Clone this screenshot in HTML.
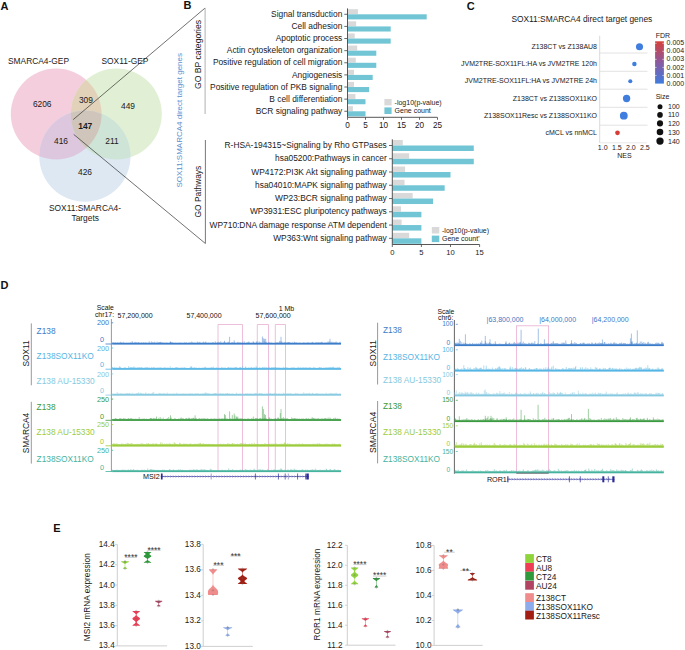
<!DOCTYPE html>
<html><head><meta charset="utf-8"><style>
html,body{margin:0;padding:0;background:#fff;}
svg{display:block;font-family:"Liberation Sans", sans-serif;}
</style></head><body>
<svg width="685" height="650" viewBox="0 0 685 650">
<rect width="685" height="650" fill="#fff"/>
<text x="0.6" y="9.5" font-size="11" text-anchor="start" fill="#111" font-weight="bold" >A</text>
<defs>
<clipPath id="cP"><circle cx="56.2" cy="114" r="45.4"/></clipPath>
<clipPath id="cG"><circle cx="116.3" cy="114" r="45.5"/></clipPath>
</defs>
<circle cx="56.2" cy="114" r="45.4" fill="#f4cedd" />
<circle cx="116.3" cy="114" r="45.5" fill="#e1f0d5" />
<circle cx="84.9" cy="156.2" r="45.6" fill="#dde8f3" />
<g clip-path="url(#cP)"><circle cx="116.3" cy="114" r="45.5" fill="#e2d2ba"/><circle cx="84.9" cy="156.2" r="45.6" fill="#ddc7de"/></g>
<g clip-path="url(#cG)"><circle cx="84.9" cy="156.2" r="45.6" fill="#cde4d6"/></g>
<g clip-path="url(#cP)"><g clip-path="url(#cG)"><circle cx="84.9" cy="156.2" r="45.6" fill="#cfc5bb"/></g></g>
<text x="8" y="64.3" font-size="8.4" text-anchor="start" fill="#1a1a1a" font-weight="normal" >SMARCA4-GEP</text>
<text x="101.5" y="64.3" font-size="8.4" text-anchor="start" fill="#1a1a1a" font-weight="normal" >SOX11-GEP</text>
<text x="42.2" y="107.3" font-size="8.4" text-anchor="middle" fill="#1a1a1a" font-weight="normal" >6206</text>
<text x="85.9" y="102.9" font-size="8.4" text-anchor="middle" fill="#1a1a1a" font-weight="normal" >309</text>
<text x="128" y="109.3" font-size="8.4" text-anchor="middle" fill="#1a1a1a" font-weight="normal" >449</text>
<text x="85.3" y="129.0" font-size="8.4" text-anchor="middle" fill="#1a1a1a" font-weight="bold" >147</text>
<text x="61" y="144.2" font-size="8.4" text-anchor="middle" fill="#1a1a1a" font-weight="normal" >416</text>
<text x="112" y="144.2" font-size="8.4" text-anchor="middle" fill="#1a1a1a" font-weight="normal" >211</text>
<text x="85" y="175.0" font-size="8.4" text-anchor="middle" fill="#1a1a1a" font-weight="normal" >426</text>
<text x="85" y="210.7" font-size="8.4" text-anchor="middle" fill="#1a1a1a" font-weight="normal" >SOX11:SMARCA4-</text>
<text x="85.2" y="220.7" font-size="8.4" text-anchor="middle" fill="#1a1a1a" font-weight="normal" >Targets</text>
<line x1="73.2" y1="119.6" x2="205.1" y2="8" stroke="#333" stroke-width="0.7" />
<line x1="73.7" y1="134.4" x2="205.4" y2="243.5" stroke="#333" stroke-width="0.7" />
<text x="183.4" y="9.3" font-size="11" text-anchor="start" fill="#111" font-weight="bold" >B</text>
<line x1="205.1" y1="8" x2="205.1" y2="114" stroke="#b0b0b0" stroke-width="1.0" />
<line x1="205.4" y1="140" x2="205.4" y2="243.5" stroke="#555" stroke-width="0.8" />
<text transform="translate(182.1,120.3) rotate(-90)" font-size="8.0" text-anchor="middle" fill="#5b8fd0">SOX11:SMARCA4 direct target genes</text>
<text transform="translate(201.3,54.5) rotate(-90)" font-size="8.6" text-anchor="middle" fill="#1a1a1a">GO BP categories</text>
<text transform="translate(201.3,191.6) rotate(-90)" font-size="8.4" text-anchor="middle" fill="#1a1a1a">GO Pathways</text>
<rect x="347.50" y="9.20" width="10.44" height="5.00" fill="#d9d9d9" />
<rect x="347.50" y="14.30" width="79.20" height="5.10" fill="#72c5d5" />
<text x="342.3" y="17.0" font-size="8.4" text-anchor="end" fill="#1a1a1a" font-weight="normal" >Signal transduction</text>
<line x1="344.3" y1="14.299999999999999" x2="347.5" y2="14.299999999999999" stroke="#444" stroke-width="0.8" />
<rect x="347.50" y="21.32" width="8.64" height="5.00" fill="#d9d9d9" />
<rect x="347.50" y="26.42" width="43.20" height="5.10" fill="#72c5d5" />
<text x="342.3" y="29.12" font-size="8.4" text-anchor="end" fill="#1a1a1a" font-weight="normal" >Cell adhesion</text>
<line x1="344.3" y1="26.42" x2="347.5" y2="26.42" stroke="#444" stroke-width="0.8" />
<rect x="347.50" y="33.44" width="7.20" height="5.00" fill="#d9d9d9" />
<rect x="347.50" y="38.54" width="43.20" height="5.10" fill="#72c5d5" />
<text x="342.3" y="41.239999999999995" font-size="8.4" text-anchor="end" fill="#1a1a1a" font-weight="normal" >Apoptotic process</text>
<line x1="344.3" y1="38.54" x2="347.5" y2="38.54" stroke="#444" stroke-width="0.8" />
<rect x="347.50" y="45.56" width="9.72" height="5.00" fill="#d9d9d9" />
<rect x="347.50" y="50.66" width="28.80" height="5.10" fill="#72c5d5" />
<text x="342.3" y="53.36" font-size="8.4" text-anchor="end" fill="#1a1a1a" font-weight="normal" >Actin cytoskeleton organization</text>
<line x1="344.3" y1="50.660000000000004" x2="347.5" y2="50.660000000000004" stroke="#444" stroke-width="0.8" />
<rect x="347.50" y="57.68" width="8.28" height="5.00" fill="#d9d9d9" />
<rect x="347.50" y="62.78" width="28.80" height="5.10" fill="#72c5d5" />
<text x="342.3" y="65.47999999999999" font-size="8.4" text-anchor="end" fill="#1a1a1a" font-weight="normal" >Positive regulation of cell migration</text>
<line x1="344.3" y1="62.779999999999994" x2="347.5" y2="62.779999999999994" stroke="#444" stroke-width="0.8" />
<rect x="347.50" y="69.80" width="6.48" height="5.00" fill="#d9d9d9" />
<rect x="347.50" y="74.90" width="25.20" height="5.10" fill="#72c5d5" />
<text x="342.3" y="77.6" font-size="8.4" text-anchor="end" fill="#1a1a1a" font-weight="normal" >Angiogenesis</text>
<line x1="344.3" y1="74.89999999999999" x2="347.5" y2="74.89999999999999" stroke="#444" stroke-width="0.8" />
<rect x="347.50" y="81.92" width="6.48" height="5.00" fill="#d9d9d9" />
<rect x="347.50" y="87.02" width="21.60" height="5.10" fill="#72c5d5" />
<text x="342.3" y="89.72" font-size="8.4" text-anchor="end" fill="#1a1a1a" font-weight="normal" >Positive regulation of PKB signaling</text>
<line x1="344.3" y1="87.02" x2="347.5" y2="87.02" stroke="#444" stroke-width="0.8" />
<rect x="347.50" y="94.04" width="7.92" height="5.00" fill="#d9d9d9" />
<rect x="347.50" y="99.14" width="18.00" height="5.10" fill="#72c5d5" />
<text x="342.3" y="101.83999999999999" font-size="8.4" text-anchor="end" fill="#1a1a1a" font-weight="normal" >B cell differentiation</text>
<line x1="344.3" y1="99.13999999999999" x2="347.5" y2="99.13999999999999" stroke="#444" stroke-width="0.8" />
<rect x="347.50" y="106.16" width="5.40" height="5.00" fill="#d9d9d9" />
<rect x="347.50" y="111.26" width="18.00" height="5.10" fill="#72c5d5" />
<text x="342.3" y="113.96" font-size="8.4" text-anchor="end" fill="#1a1a1a" font-weight="normal" >BCR signaling pathway</text>
<line x1="344.3" y1="111.25999999999999" x2="347.5" y2="111.25999999999999" stroke="#444" stroke-width="0.8" />
<line x1="347.5" y1="8.4" x2="347.5" y2="117.3" stroke="#444" stroke-width="0.9" />
<line x1="347.5" y1="117.3" x2="437.3" y2="117.3" stroke="#444" stroke-width="0.9" />
<line x1="347.5" y1="117.3" x2="347.5" y2="119.8" stroke="#444" stroke-width="0.8" />
<text x="347.5" y="128.1" font-size="8.2" text-anchor="middle" fill="#1a1a1a" font-weight="normal" >0</text>
<line x1="365.5" y1="117.3" x2="365.5" y2="119.8" stroke="#444" stroke-width="0.8" />
<text x="365.5" y="128.1" font-size="8.2" text-anchor="middle" fill="#1a1a1a" font-weight="normal" >5</text>
<line x1="383.5" y1="117.3" x2="383.5" y2="119.8" stroke="#444" stroke-width="0.8" />
<text x="383.5" y="128.1" font-size="8.2" text-anchor="middle" fill="#1a1a1a" font-weight="normal" >10</text>
<line x1="401.5" y1="117.3" x2="401.5" y2="119.8" stroke="#444" stroke-width="0.8" />
<text x="401.5" y="128.1" font-size="8.2" text-anchor="middle" fill="#1a1a1a" font-weight="normal" >15</text>
<line x1="419.5" y1="117.3" x2="419.5" y2="119.8" stroke="#444" stroke-width="0.8" />
<text x="419.5" y="128.1" font-size="8.2" text-anchor="middle" fill="#1a1a1a" font-weight="normal" >20</text>
<line x1="437.5" y1="117.3" x2="437.5" y2="119.8" stroke="#444" stroke-width="0.8" />
<text x="437.5" y="128.1" font-size="8.2" text-anchor="middle" fill="#1a1a1a" font-weight="normal" >25</text>
<rect x="384.40" y="99.00" width="7.20" height="6.40" fill="#d9d9d9" />
<rect x="384.40" y="107.40" width="7.20" height="6.60" fill="#72c5d5" />
<text x="394.6" y="104.8" font-size="7" text-anchor="start" fill="#1a1a1a" font-weight="normal" >-log10(p-value)</text>
<text x="394.6" y="113.3" font-size="7" text-anchor="start" fill="#1a1a1a" font-weight="normal" >Gene count</text>
<rect x="392.30" y="140.00" width="10.48" height="5.40" fill="#d9d9d9" />
<rect x="392.30" y="145.50" width="81.48" height="5.50" fill="#72c5d5" />
<text x="386.8" y="148.0" font-size="8.4" text-anchor="end" fill="#1a1a1a" font-weight="normal" >R-HSA-194315~Signaling by Rho GTPases</text>
<line x1="389.0" y1="145.5" x2="392.3" y2="145.5" stroke="#444" stroke-width="0.8" />
<rect x="392.30" y="153.26" width="16.88" height="5.40" fill="#d9d9d9" />
<rect x="392.30" y="158.76" width="81.48" height="5.50" fill="#72c5d5" />
<text x="386.8" y="161.26" font-size="8.4" text-anchor="end" fill="#1a1a1a" font-weight="normal" >hsa05200:Pathways in cancer</text>
<line x1="389.0" y1="158.76" x2="392.3" y2="158.76" stroke="#444" stroke-width="0.8" />
<rect x="392.30" y="166.52" width="12.80" height="5.40" fill="#d9d9d9" />
<rect x="392.30" y="172.02" width="58.20" height="5.50" fill="#72c5d5" />
<text x="386.8" y="174.52" font-size="8.4" text-anchor="end" fill="#1a1a1a" font-weight="normal" >WP4172:PI3K Akt signaling pathway</text>
<line x1="389.0" y1="172.02" x2="392.3" y2="172.02" stroke="#444" stroke-width="0.8" />
<rect x="392.30" y="179.78" width="12.22" height="5.40" fill="#d9d9d9" />
<rect x="392.30" y="185.28" width="52.38" height="5.50" fill="#72c5d5" />
<text x="386.8" y="187.78" font-size="8.4" text-anchor="end" fill="#1a1a1a" font-weight="normal" >hsa04010:MAPK signaling pathway</text>
<line x1="389.0" y1="185.28" x2="392.3" y2="185.28" stroke="#444" stroke-width="0.8" />
<rect x="392.30" y="193.04" width="20.37" height="5.40" fill="#d9d9d9" />
<rect x="392.30" y="198.54" width="40.74" height="5.50" fill="#72c5d5" />
<text x="386.8" y="201.04" font-size="8.4" text-anchor="end" fill="#1a1a1a" font-weight="normal" >WP23:BCR signaling pathway</text>
<line x1="389.0" y1="198.54" x2="392.3" y2="198.54" stroke="#444" stroke-width="0.8" />
<rect x="392.30" y="206.30" width="8.73" height="5.40" fill="#d9d9d9" />
<rect x="392.30" y="211.80" width="29.10" height="5.50" fill="#72c5d5" />
<text x="386.8" y="214.3" font-size="8.4" text-anchor="end" fill="#1a1a1a" font-weight="normal" >WP3931:ESC pluripotency pathways</text>
<line x1="389.0" y1="211.8" x2="392.3" y2="211.8" stroke="#444" stroke-width="0.8" />
<rect x="392.30" y="219.56" width="9.31" height="5.40" fill="#d9d9d9" />
<rect x="392.30" y="225.06" width="29.10" height="5.50" fill="#72c5d5" />
<text x="386.8" y="227.56" font-size="8.4" text-anchor="end" fill="#1a1a1a" font-weight="normal" >WP710:DNA damage response ATM dependent</text>
<line x1="389.0" y1="225.06" x2="392.3" y2="225.06" stroke="#444" stroke-width="0.8" />
<rect x="392.30" y="232.82" width="16.88" height="5.40" fill="#d9d9d9" />
<rect x="392.30" y="238.32" width="29.10" height="5.50" fill="#72c5d5" />
<text x="386.8" y="240.82" font-size="8.4" text-anchor="end" fill="#1a1a1a" font-weight="normal" >WP363:Wnt signaling pathway</text>
<line x1="389.0" y1="238.32" x2="392.3" y2="238.32" stroke="#444" stroke-width="0.8" />
<line x1="392.3" y1="139.3" x2="392.3" y2="244.5" stroke="#444" stroke-width="0.9" />
<line x1="392.3" y1="244.5" x2="479.6" y2="244.5" stroke="#444" stroke-width="0.9" />
<line x1="392.3" y1="244.5" x2="392.3" y2="247.0" stroke="#444" stroke-width="0.8" />
<text x="392.3" y="254.6" font-size="7.6" text-anchor="middle" fill="#1a1a1a" font-weight="normal" >0</text>
<line x1="421.40000000000003" y1="244.5" x2="421.40000000000003" y2="247.0" stroke="#444" stroke-width="0.8" />
<text x="421.40000000000003" y="254.6" font-size="7.6" text-anchor="middle" fill="#1a1a1a" font-weight="normal" >5</text>
<line x1="450.5" y1="244.5" x2="450.5" y2="247.0" stroke="#444" stroke-width="0.8" />
<text x="450.5" y="254.6" font-size="7.6" text-anchor="middle" fill="#1a1a1a" font-weight="normal" >10</text>
<line x1="479.6" y1="244.5" x2="479.6" y2="247.0" stroke="#444" stroke-width="0.8" />
<text x="479.6" y="254.6" font-size="7.6" text-anchor="middle" fill="#1a1a1a" font-weight="normal" >15</text>
<rect x="431.80" y="227.00" width="7.50" height="6.50" fill="#d9d9d9" />
<rect x="431.80" y="235.60" width="7.50" height="6.50" fill="#72c5d5" />
<text x="442" y="232.8" font-size="7" text-anchor="start" fill="#1a1a1a" font-weight="normal" >-log10(p-value)</text>
<text x="442" y="241.4" font-size="7" text-anchor="start" fill="#1a1a1a" font-weight="normal" >Gene count'</text>
<text x="466.8" y="9.5" font-size="11" text-anchor="start" fill="#111" font-weight="bold" >C</text>
<text x="511.4" y="22" font-size="8.4" text-anchor="start" fill="#1a1a1a" font-weight="normal" >SOX11:SMARCA4 direct target genes</text>
<line x1="599.7" y1="35.8" x2="599.7" y2="142.8" stroke="#d0d0d0" stroke-width="0.8" />
<line x1="599.7" y1="142.8" x2="647" y2="142.8" stroke="#e2e2e2" stroke-width="0.8" />
<line x1="599.7" y1="53" x2="647.5" y2="53" stroke="#dadada" stroke-width="0.8" />
<line x1="599.7" y1="71.3" x2="647.5" y2="71.3" stroke="#dadada" stroke-width="0.8" />
<line x1="599.7" y1="89.2" x2="647.5" y2="89.2" stroke="#dadada" stroke-width="0.8" />
<line x1="599.7" y1="107.3" x2="647.5" y2="107.3" stroke="#dadada" stroke-width="0.8" />
<line x1="599.7" y1="125.2" x2="647.5" y2="125.2" stroke="#dadada" stroke-width="0.8" />
<text x="597" y="48.8" font-size="7" text-anchor="end" fill="#1a1a1a" font-weight="normal" >Z138CT vs Z138AU8</text>
<text x="597" y="66.03999999999999" font-size="7" text-anchor="end" fill="#1a1a1a" font-weight="normal" >JVM2TRE-SOX11FL:HA vs JVM2TRE 120h</text>
<text x="597" y="83.28" font-size="7" text-anchor="end" fill="#1a1a1a" font-weight="normal" >JVM2TRE-SOX11FL:HA vs JVM2TRE 24h</text>
<text x="597" y="100.52" font-size="7" text-anchor="end" fill="#1a1a1a" font-weight="normal" >Z138CT vs Z138SOX11KO</text>
<text x="597" y="117.75999999999999" font-size="7" text-anchor="end" fill="#1a1a1a" font-weight="normal" >Z138SOX11Resc vs Z138SOX11KO</text>
<text x="597" y="135.0" font-size="7" text-anchor="end" fill="#1a1a1a" font-weight="normal" >cMCL vs nnMCL</text>
<circle cx="639.5" cy="46.8" r="3.55" fill="#3f7ddf" />
<circle cx="634.4" cy="64" r="2.25" fill="#3f7ddf" />
<circle cx="630.3" cy="81.2" r="2.05" fill="#3f7ddf" />
<circle cx="626.6" cy="98.5" r="3.65" fill="#3f7ddf" />
<circle cx="623.8" cy="115.7" r="3.9" fill="#3f7ddf" />
<circle cx="617.5" cy="132.8" r="2.35" fill="#d63b35" />
<text x="602.7" y="150.4" font-size="7" text-anchor="middle" fill="#1a1a1a" font-weight="normal" >1.0</text>
<text x="616.9" y="150.4" font-size="7" text-anchor="middle" fill="#1a1a1a" font-weight="normal" >1.5</text>
<text x="630.9" y="150.4" font-size="7" text-anchor="middle" fill="#1a1a1a" font-weight="normal" >2.0</text>
<text x="644.9" y="150.4" font-size="7" text-anchor="middle" fill="#1a1a1a" font-weight="normal" >2.5</text>
<text x="624.4" y="158.2" font-size="7" text-anchor="middle" fill="#1a1a1a" font-weight="normal" >NES</text>
<defs><linearGradient id="fdr" x1="0" y1="0" x2="0" y2="1"><stop offset="0" stop-color="#d8403a"/><stop offset="0.5" stop-color="#8a5aa0"/><stop offset="1" stop-color="#3f7ddf"/></linearGradient></defs>
<text x="655.7" y="38" font-size="7" text-anchor="start" fill="#1a1a1a" font-weight="normal" >FDR</text>
<rect x="655.10" y="41.30" width="8.80" height="42.30" fill="url(#fdr)" />
<text x="666.6" y="45.4" font-size="7" text-anchor="start" fill="#1a1a1a" font-weight="normal" >0.005</text>
<line x1="655.1" y1="43.3" x2="656.6" y2="43.3" stroke="#fff" stroke-width="0.6" />
<line x1="662.4" y1="43.3" x2="663.9" y2="43.3" stroke="#fff" stroke-width="0.6" />
<text x="666.6" y="53.44" font-size="7" text-anchor="start" fill="#1a1a1a" font-weight="normal" >0.004</text>
<line x1="655.1" y1="51.339999999999996" x2="656.6" y2="51.339999999999996" stroke="#fff" stroke-width="0.6" />
<line x1="662.4" y1="51.339999999999996" x2="663.9" y2="51.339999999999996" stroke="#fff" stroke-width="0.6" />
<text x="666.6" y="61.48" font-size="7" text-anchor="start" fill="#1a1a1a" font-weight="normal" >0.003</text>
<line x1="655.1" y1="59.379999999999995" x2="656.6" y2="59.379999999999995" stroke="#fff" stroke-width="0.6" />
<line x1="662.4" y1="59.379999999999995" x2="663.9" y2="59.379999999999995" stroke="#fff" stroke-width="0.6" />
<text x="666.6" y="69.52" font-size="7" text-anchor="start" fill="#1a1a1a" font-weight="normal" >0.002</text>
<line x1="655.1" y1="67.41999999999999" x2="656.6" y2="67.41999999999999" stroke="#fff" stroke-width="0.6" />
<line x1="662.4" y1="67.41999999999999" x2="663.9" y2="67.41999999999999" stroke="#fff" stroke-width="0.6" />
<text x="666.6" y="77.56" font-size="7" text-anchor="start" fill="#1a1a1a" font-weight="normal" >0.001</text>
<line x1="655.1" y1="75.46" x2="656.6" y2="75.46" stroke="#fff" stroke-width="0.6" />
<line x1="662.4" y1="75.46" x2="663.9" y2="75.46" stroke="#fff" stroke-width="0.6" />
<text x="666.6" y="85.6" font-size="7" text-anchor="start" fill="#1a1a1a" font-weight="normal" >0.000</text>
<text x="655.7" y="99.4" font-size="7" text-anchor="start" fill="#1a1a1a" font-weight="normal" >Size</text>
<circle cx="660" cy="106.8" r="2.5" fill="#111" />
<text x="668" y="109.3" font-size="7" text-anchor="start" fill="#1a1a1a" font-weight="normal" >100</text>
<circle cx="660" cy="114.9" r="2.8" fill="#111" />
<text x="668" y="117.4" font-size="7" text-anchor="start" fill="#1a1a1a" font-weight="normal" >110</text>
<circle cx="660" cy="123.4" r="3.05" fill="#111" />
<text x="668" y="125.9" font-size="7" text-anchor="start" fill="#1a1a1a" font-weight="normal" >120</text>
<circle cx="660" cy="132" r="3.3" fill="#111" />
<text x="668" y="134.5" font-size="7" text-anchor="start" fill="#1a1a1a" font-weight="normal" >130</text>
<circle cx="660" cy="141.1" r="3.65" fill="#111" />
<text x="668" y="143.6" font-size="7" text-anchor="start" fill="#1a1a1a" font-weight="normal" >140</text>
<text x="0.6" y="289.2" font-size="11" text-anchor="start" fill="#111" font-weight="bold" >D</text>
<line x1="31.3" y1="323.4" x2="31.3" y2="385.3" stroke="#999" stroke-width="1.0" />
<line x1="31.3" y1="401.8" x2="31.3" y2="463.6" stroke="#999" stroke-width="1.0" />
<text transform="translate(29.4,353.5) rotate(-90)" font-size="8.3" text-anchor="middle" fill="#1a1a1a">SOX11</text>
<text transform="translate(29.4,433.0) rotate(-90)" font-size="8.4" text-anchor="middle" fill="#1a1a1a">SMARCA4</text>
<text x="36.6" y="333.5" font-size="8.3" text-anchor="start" fill="#3d7cc9" font-weight="normal" >Z138</text>
<text x="36.6" y="359" font-size="8.3" text-anchor="start" fill="#55b5e5" font-weight="normal" >Z138SOX11KO</text>
<text x="36.6" y="383.5" font-size="8.3" text-anchor="start" fill="#86c9e0" font-weight="normal" >Z138 AU-15330</text>
<text x="36.6" y="410" font-size="8.3" text-anchor="start" fill="#3a9a40" font-weight="normal" >Z138</text>
<text x="36.6" y="435.3" font-size="8.3" text-anchor="start" fill="#9ccc3c" font-weight="normal" >Z138 AU-15330</text>
<text x="36.6" y="462.4" font-size="8.3" text-anchor="start" fill="#46b39e" font-weight="normal" >Z138SOX11KO</text>
<line x1="111.4" y1="319" x2="111.4" y2="472" stroke="#999" stroke-width="1.0" />
<text x="96.8" y="310.4" font-size="6.8" text-anchor="start" fill="#111" font-weight="normal" >Scale</text>
<text x="94.9" y="316.5" font-size="6.9" text-anchor="start" fill="#111" font-weight="normal" >chr17:</text>
<text x="117.6" y="317.8" font-size="7" text-anchor="start" fill="#111" font-weight="normal" >57,200,000</text>
<text x="186.5" y="317.8" font-size="7" text-anchor="start" fill="#111" font-weight="normal" >57,400,000</text>
<text x="255.6" y="317.8" font-size="7" text-anchor="start" fill="#111" font-weight="normal" >57,600,000</text>
<text x="278.7" y="310.8" font-size="7" text-anchor="start" fill="#111" font-weight="normal" >1 Mb</text>
<path d="M218 471V324.5H242.5V471" fill="none" stroke="#eaaed2" stroke-width="0.8"/>
<path d="M257.3 471V324.5H268.5V471" fill="none" stroke="#eaaed2" stroke-width="0.8"/>
<path d="M275.3 471V324.5H285.5V471" fill="none" stroke="#eaaed2" stroke-width="0.8"/>
<path d="M112.2 343.8v-1.0M112.7 343.8v-1.7M113.2 343.8v-1.5M113.7 343.8v-1.1M114.2 343.8v-1.2M114.7 343.8v-1.2M115.2 343.8v-1.4M115.7 343.8v-1.5M116.2 343.8v-1.0M116.7 343.8v-1.0M117.2 343.8v-1.6M117.7 343.8v-1.2M118.2 343.8v-1.5M118.7 343.8v-1.0M119.2 343.8v-1.2M119.7 343.8v-1.4M120.2 343.8v-1.1M120.7 343.8v-2.0M121.2 343.8v-1.8M121.7 343.8v-1.0M122.2 343.8v-1.0M122.7 343.8v-1.3M123.2 343.8v-2.0M123.7 343.8v-1.2M124.2 343.8v-1.1M124.7 343.8v-1.2M125.2 343.8v-1.0M125.7 343.8v-1.1M126.2 343.8v-1.2M126.7 343.8v-1.2M127.2 343.8v-1.1M127.7 343.8v-1.1M128.2 343.8v-1.1M128.7 343.8v-1.2M129.2 343.8v-1.1M129.7 343.8v-1.0M130.2 343.8v-1.6M130.7 343.8v-1.3M131.2 343.8v-1.4M131.7 343.8v-1.1M132.2 343.8v-2.7M132.7 343.8v-1.7M133.2 343.8v-1.0M133.7 343.8v-1.1M134.2 343.8v-1.4M134.7 343.8v-1.4M135.2 343.8v-2.0M135.7 343.8v-1.2M136.2 343.8v-1.6M136.7 343.8v-1.4M137.2 343.8v-1.1M137.7 343.8v-1.3M138.2 343.8v-1.8M138.7 343.8v-1.7M139.2 343.8v-1.2M139.7 343.8v-1.3M140.2 343.8v-1.0M140.7 343.8v-1.1M141.2 343.8v-1.6M141.7 343.8v-1.2M142.2 343.8v-1.1M142.7 343.8v-1.3M143.2 343.8v-1.4M143.7 343.8v-1.4M144.2 343.8v-1.2M144.7 343.8v-1.2M145.2 343.8v-1.2M145.7 343.8v-1.5M146.2 343.8v-1.3M146.7 343.8v-1.2M147.2 343.8v-1.2M147.7 343.8v-1.0M148.2 343.8v-1.0M148.7 343.8v-1.4M149.2 343.8v-2.5M149.7 343.8v-1.3M150.2 343.8v-1.2M150.7 343.8v-1.1M151.2 343.8v-1.2M151.7 343.8v-2.4M152.2 343.8v-1.5M152.7 343.8v-1.3M153.2 343.8v-1.7M153.7 343.8v-1.1M154.2 343.8v-1.3M154.7 343.8v-2.1M155.2 343.8v-1.3M155.7 343.8v-1.2M156.2 343.8v-1.1M156.7 343.8v-1.3M157.2 343.8v-2.1M157.7 343.8v-1.0M158.2 343.8v-1.5M158.7 343.8v-1.6M159.2 343.8v-1.8M159.7 343.8v-1.5M160.2 343.8v-1.6M160.7 343.8v-1.3M161.2 343.8v-1.3M161.7 343.8v-1.2M162.2 343.8v-1.0M162.7 343.8v-1.7M163.2 343.8v-1.3M163.7 343.8v-1.1M164.2 343.8v-1.2M164.7 343.8v-1.2M165.2 343.8v-1.2M165.7 343.8v-1.1M166.2 343.8v-1.3M166.7 343.8v-1.3M167.2 343.8v-1.3M167.7 343.8v-1.2M168.2 343.8v-1.0M168.7 343.8v-1.1M169.2 343.8v-1.1M169.7 343.8v-1.3M170.2 343.8v-1.7M170.7 343.8v-1.6M171.2 343.8v-1.6M171.7 343.8v-1.6M172.2 343.8v-1.1M172.7 343.8v-1.7M173.2 343.8v-1.4M173.7 343.8v-1.0M174.2 343.8v-1.0M174.7 343.8v-1.0M175.2 343.8v-1.5M175.7 343.8v-1.1M176.2 343.8v-1.0M176.7 343.8v-1.3M177.2 343.8v-1.1M177.7 343.8v-1.0M178.2 343.8v-1.1M178.7 343.8v-1.3M179.2 343.8v-1.1M179.7 343.8v-1.1M180.2 343.8v-1.4M180.7 343.8v-1.2M181.2 343.8v-1.1M181.7 343.8v-1.2M182.2 343.8v-1.0M182.7 343.8v-1.2M183.2 343.8v-1.2M183.7 343.8v-1.1M184.2 343.8v-1.0M184.7 343.8v-1.8M185.2 343.8v-1.2M185.7 343.8v-1.1M186.2 343.8v-1.3M186.7 343.8v-1.6M187.2 343.8v-1.0M187.7 343.8v-1.0M188.2 343.8v-1.0M188.7 343.8v-1.4M189.2 343.8v-1.1M189.7 343.8v-1.4M190.2 343.8v-1.4M190.7 343.8v-1.3M191.2 343.8v-1.1M191.7 343.8v-2.3M192.2 343.8v-1.6M192.7 343.8v-1.3M193.2 343.8v-1.1M193.7 343.8v-1.4M194.2 343.8v-1.2M194.7 343.8v-1.3M195.2 343.8v-1.1M195.7 343.8v-1.3M196.2 343.8v-1.0M196.7 343.8v-1.1M197.2 343.8v-2.2M197.7 343.8v-1.7M198.2 343.8v-1.1M198.7 343.8v-1.7M199.2 343.8v-1.1M199.7 343.8v-2.0M200.2 343.8v-1.5M200.7 343.8v-1.2M201.2 343.8v-1.1M201.7 343.8v-1.0M202.2 343.8v-1.7M202.7 343.8v-1.0M203.2 343.8v-1.6M203.7 343.8v-2.2M204.2 343.8v-1.3M204.7 343.8v-1.1M205.2 343.8v-1.7M205.7 343.8v-2.3M206.2 343.8v-1.4M206.7 343.8v-1.2M207.2 343.8v-1.2M207.7 343.8v-1.1M208.2 343.8v-1.1M208.7 343.8v-1.4M209.2 343.8v-1.2M209.7 343.8v-1.1M210.2 343.8v-1.0M210.7 343.8v-1.4M211.2 343.8v-1.1M211.7 343.8v-1.2M212.2 343.8v-1.1M212.7 343.8v-1.7M213.2 343.8v-1.8M213.7 343.8v-1.0M214.2 343.8v-1.1M214.7 343.8v-1.1M215.2 343.8v-2.5M215.7 343.8v-1.5M216.2 343.8v-1.1M216.7 343.8v-1.1M217.2 343.8v-1.4M217.7 343.8v-1.6M218.2 343.8v-2.0M218.7 343.8v-1.1M219.2 343.8v-1.8M219.7 343.8v-1.4M220.2 343.8v-1.2M220.7 343.8v-2.5M221.2 343.8v-1.1M221.7 343.8v-1.5M222.2 343.8v-1.0M222.7 343.8v-1.1M223.2 343.8v-1.9M223.7 343.8v-1.1M224.2 343.8v-1.5M224.7 343.8v-1.3M225.2 343.8v-1.7M225.7 343.8v-1.2M226.2 343.8v-1.1M226.7 343.8v-1.1M227.2 343.8v-1.7M227.7 343.8v-1.3M228.2 343.8v-2.1M228.7 343.8v-1.8M229.2 343.8v-1.0M229.7 343.8v-1.3M230.2 343.8v-1.0M230.7 343.8v-1.0M231.2 343.8v-1.0M231.7 343.8v-1.7M232.2 343.8v-1.5M232.7 343.8v-1.6M233.2 343.8v-1.1M233.7 343.8v-1.3M234.2 343.8v-1.5M234.7 343.8v-1.2M235.2 343.8v-1.3M235.7 343.8v-1.1M236.2 343.8v-1.0M236.7 343.8v-1.1M237.2 343.8v-1.8M237.7 343.8v-1.3M238.2 343.8v-1.9M238.7 343.8v-1.2M239.2 343.8v-1.1M239.7 343.8v-1.5M240.2 343.8v-1.6M240.7 343.8v-1.0M241.2 343.8v-1.4M241.7 343.8v-1.0M242.2 343.8v-1.0M242.7 343.8v-1.8M243.2 343.8v-1.0M243.7 343.8v-1.1M244.2 343.8v-2.6M244.7 343.8v-1.2M245.2 343.8v-1.0M245.7 343.8v-1.1M246.2 343.8v-1.1M246.7 343.8v-1.5M247.2 343.8v-1.0M247.7 343.8v-1.9M248.2 343.8v-1.2M248.7 343.8v-2.2M249.2 343.8v-1.9M249.7 343.8v-1.1M250.2 343.8v-1.1M250.7 343.8v-1.2M251.2 343.8v-1.0M251.7 343.8v-1.4M252.2 343.8v-1.0M252.7 343.8v-1.0M253.2 343.8v-2.4M253.7 343.8v-1.1M254.2 343.8v-1.3M254.7 343.8v-1.2M255.2 343.8v-1.1M255.7 343.8v-1.0M256.2 343.8v-1.9M256.7 343.8v-2.2M257.2 343.8v-2.2M257.7 343.8v-1.0M258.2 343.8v-1.1M258.7 343.8v-1.3M259.2 343.8v-2.4M259.7 343.8v-1.3M260.2 343.8v-1.4M260.7 343.8v-1.4M261.2 343.8v-1.1M261.7 343.8v-1.3M262.2 343.8v-1.1M262.7 343.8v-1.1M263.2 343.8v-1.0M263.7 343.8v-1.1M264.2 343.8v-2.5M264.7 343.8v-1.2M265.2 343.8v-1.4M265.7 343.8v-1.4M266.2 343.8v-2.0M266.7 343.8v-1.2M267.2 343.8v-1.1M267.7 343.8v-1.1M268.2 343.8v-1.1M268.7 343.8v-1.7M269.2 343.8v-1.8M269.7 343.8v-1.1M270.2 343.8v-1.1M270.7 343.8v-1.3M271.2 343.8v-1.3M271.7 343.8v-1.3M272.2 343.8v-1.1M272.7 343.8v-1.0M273.2 343.8v-1.1M273.7 343.8v-1.0M274.2 343.8v-1.3M274.7 343.8v-1.0M275.2 343.8v-1.0M275.7 343.8v-1.4M276.2 343.8v-1.1M276.7 343.8v-1.6M277.2 343.8v-1.2M277.7 343.8v-1.7M278.2 343.8v-1.1M278.7 343.8v-1.2M279.2 343.8v-1.6M279.7 343.8v-1.0M280.2 343.8v-2.1M280.7 343.8v-1.1M281.2 343.8v-1.5M281.7 343.8v-2.5M282.2 343.8v-1.6M282.7 343.8v-1.1M283.2 343.8v-1.0M283.7 343.8v-1.3M284.2 343.8v-1.9M284.7 343.8v-1.1M285.2 343.8v-1.8M285.7 343.8v-1.0M286.2 343.8v-1.9M286.7 343.8v-1.0M287.2 343.8v-1.1M287.7 343.8v-1.8M288.2 343.8v-1.6M288.7 343.8v-1.8M289.2 343.8v-1.6M289.7 343.8v-1.5M290.2 343.8v-1.4M290.7 343.8v-1.1M291.2 343.8v-1.2M291.7 343.8v-1.1M292.2 343.8v-1.4M292.7 343.8v-1.4M293.2 343.8v-1.1M293.7 343.8v-1.0M294.2 343.8v-2.2M294.7 343.8v-1.6M295.2 343.8v-1.3M295.7 343.8v-1.3M296.2 343.8v-1.7M296.7 343.8v-1.2M297.2 343.8v-1.2M297.7 343.8v-1.1M298.2 343.8v-1.1M298.7 343.8v-1.0M299.2 343.8v-1.4M299.7 343.8v-1.2M300.2 343.8v-1.3M300.7 343.8v-1.0M301.2 343.8v-1.1M301.7 343.8v-1.0M302.2 343.8v-1.0M302.7 343.8v-1.1M303.2 343.8v-1.6M303.7 343.8v-1.2M304.2 343.8v-1.2M304.7 343.8v-1.3M305.2 343.8v-1.1M305.7 343.8v-1.0M306.2 343.8v-1.3M306.7 343.8v-1.2M307.2 343.8v-1.4M307.7 343.8v-1.2M308.2 343.8v-1.4M308.7 343.8v-1.5M309.2 343.8v-1.1M309.7 343.8v-1.2M310.2 343.8v-1.2M310.7 343.8v-1.1M311.2 343.8v-1.2M311.7 343.8v-1.3M312.2 343.8v-1.8M312.7 343.8v-1.9M313.2 343.8v-1.1M313.7 343.8v-1.4M314.2 343.8v-1.0M314.7 343.8v-1.0M315.2 343.8v-1.2M315.7 343.8v-1.7M316.2 343.8v-1.1M316.7 343.8v-1.5M317.2 343.8v-1.8M317.7 343.8v-1.1M318.2 343.8v-1.4M318.7 343.8v-1.7M319.2 343.8v-1.2M319.7 343.8v-1.4M320.2 343.8v-1.5M320.7 343.8v-1.3M321.2 343.8v-1.7M321.7 343.8v-1.8M322.2 343.8v-2.1M322.7 343.8v-1.3M323.2 343.8v-1.1M323.7 343.8v-1.1M324.2 343.8v-1.1M324.7 343.8v-1.3M325.2 343.8v-1.5M325.7 343.8v-1.0M326.2 343.8v-1.4M326.7 343.8v-1.4M327.2 343.8v-1.1M327.7 343.8v-1.3M328.2 343.8v-1.1M328.7 343.8v-1.5M329.2 343.8v-1.0M329.7 343.8v-2.4M330.2 343.8v-1.6M330.7 343.8v-1.3M331.2 343.8v-1.1M331.7 343.8v-1.9M332.2 343.8v-2.1M332.7 343.8v-1.0M333.2 343.8v-1.5M333.7 343.8v-1.7M334.2 343.8v-1.4M334.7 343.8v-1.4M335.2 343.8v-1.2M335.7 343.8v-1.9M336.2 343.8v-2.3M336.7 343.8v-1.2M337.2 343.8v-1.6M337.7 343.8v-1.2M338.2 343.8v-1.1M338.7 343.8v-1.1M339.2 343.8v-1.0M339.7 343.8v-1.8M340.2 343.8v-2.1M340.7 343.8v-1.0" stroke="#3d7cc9" stroke-width="0.5" fill="none" opacity="0.9"/>
<path d="M224.5 343.8v-3.0M229.6 343.8v-7.0M234.2 343.8v-3.5M253.3 343.8v-2.0M262.4 343.8v-7.3M263.4 343.8v-5.5M264.6 343.8v-5.0M265.7 343.8v-5.0M279.8 343.8v-3.0M281.0 343.8v-7.0M328.1 343.8v-2.5M330.0 343.8v-5.0M170.4 343.8v-2.5M160.8 343.8v-2.0" stroke="#3d7cc9" stroke-width="0.6" fill="none" opacity="0.8"/>
<rect x="112.20" y="343.00" width="228.80" height="1.60" fill="#3d7cc9" />
<text x="109.1" y="325.40000000000003" font-size="7.3" text-anchor="end" fill="#3d7cc9" font-weight="normal" >200</text>
<text x="104.1" y="342.2" font-size="7.3" text-anchor="end" fill="#3d7cc9" font-weight="normal" >0</text>
<line x1="111.6" y1="322.8" x2="113.2" y2="322.8" stroke="#3d7cc9" stroke-width="0.8" />
<line x1="105.5" y1="344.0" x2="111.6" y2="344.0" stroke="#3d7cc9" stroke-width="0.8" />
<path d="M112.2 369.0v-2.1M112.7 369.0v-2.0M113.2 369.0v-1.0M113.7 369.0v-1.0M114.2 369.0v-1.6M114.7 369.0v-1.5M115.2 369.0v-1.4M115.7 369.0v-1.1M116.2 369.0v-1.3M116.7 369.0v-1.3M117.2 369.0v-1.3M117.7 369.0v-1.1M118.2 369.0v-1.2M118.7 369.0v-1.2M119.2 369.0v-1.5M119.7 369.0v-2.9M120.2 369.0v-2.1M120.7 369.0v-1.3M121.2 369.0v-1.2M121.7 369.0v-1.1M122.2 369.0v-1.0M122.7 369.0v-1.0M123.2 369.0v-1.2M123.7 369.0v-1.1M124.2 369.0v-1.2M124.7 369.0v-1.8M125.2 369.0v-1.3M125.7 369.0v-1.3M126.2 369.0v-1.1M126.7 369.0v-1.0M127.2 369.0v-1.1M127.7 369.0v-1.0M128.2 369.0v-1.2M128.7 369.0v-3.0M129.2 369.0v-1.4M129.7 369.0v-1.1M130.2 369.0v-1.8M130.7 369.0v-1.6M131.2 369.0v-1.5M131.7 369.0v-1.8M132.2 369.0v-1.5M132.7 369.0v-1.6M133.2 369.0v-1.1M133.7 369.0v-2.4M134.2 369.0v-2.2M134.7 369.0v-1.1M135.2 369.0v-1.5M135.7 369.0v-1.4M136.2 369.0v-1.2M136.7 369.0v-1.3M137.2 369.0v-1.2M137.7 369.0v-1.9M138.2 369.0v-1.2M138.7 369.0v-1.6M139.2 369.0v-1.1M139.7 369.0v-1.8M140.2 369.0v-1.8M140.7 369.0v-1.2M141.2 369.0v-1.3M141.7 369.0v-1.9M142.2 369.0v-1.5M142.7 369.0v-1.2M143.2 369.0v-1.1M143.7 369.0v-1.1M144.2 369.0v-1.4M144.7 369.0v-1.1M145.2 369.0v-1.8M145.7 369.0v-1.1M146.2 369.0v-1.9M146.7 369.0v-1.1M147.2 369.0v-2.1M147.7 369.0v-1.4M148.2 369.0v-1.2M148.7 369.0v-1.3M149.2 369.0v-1.4M149.7 369.0v-1.3M150.2 369.0v-1.1M150.7 369.0v-1.1M151.2 369.0v-1.2M151.7 369.0v-2.0M152.2 369.0v-1.3M152.7 369.0v-1.0M153.2 369.0v-1.6M153.7 369.0v-1.5M154.2 369.0v-1.8M154.7 369.0v-1.1M155.2 369.0v-1.5M155.7 369.0v-1.0M156.2 369.0v-1.4M156.7 369.0v-1.1M157.2 369.0v-1.1M157.7 369.0v-1.7M158.2 369.0v-1.0M158.7 369.0v-1.3M159.2 369.0v-1.7M159.7 369.0v-1.1M160.2 369.0v-1.1M160.7 369.0v-1.8M161.2 369.0v-1.2M161.7 369.0v-1.4M162.2 369.0v-1.0M162.7 369.0v-1.2M163.2 369.0v-1.1M163.7 369.0v-1.4M164.2 369.0v-1.0M164.7 369.0v-2.1M165.2 369.0v-1.0M165.7 369.0v-1.5M166.2 369.0v-1.0M166.7 369.0v-1.1M167.2 369.0v-1.6M167.7 369.0v-1.1M168.2 369.0v-1.1M168.7 369.0v-1.4M169.2 369.0v-1.2M169.7 369.0v-1.0M170.2 369.0v-2.6M170.7 369.0v-1.1M171.2 369.0v-1.0M171.7 369.0v-1.1M172.2 369.0v-1.3M172.7 369.0v-1.5M173.2 369.0v-1.0M173.7 369.0v-1.1M174.2 369.0v-1.0M174.7 369.0v-1.2M175.2 369.0v-1.5M175.7 369.0v-1.5M176.2 369.0v-1.8M176.7 369.0v-1.5M177.2 369.0v-1.7M177.7 369.0v-1.4M178.2 369.0v-1.2M178.7 369.0v-1.1M179.2 369.0v-1.4M179.7 369.0v-1.1M180.2 369.0v-1.0M180.7 369.0v-1.2M181.2 369.0v-1.7M181.7 369.0v-1.0M182.2 369.0v-1.3M182.7 369.0v-1.2M183.2 369.0v-1.3M183.7 369.0v-1.0M184.2 369.0v-2.1M184.7 369.0v-1.1M185.2 369.0v-1.3M185.7 369.0v-1.2M186.2 369.0v-1.0M186.7 369.0v-1.3M187.2 369.0v-1.0M187.7 369.0v-1.0M188.2 369.0v-1.0M188.7 369.0v-1.1M189.2 369.0v-1.0M189.7 369.0v-1.4M190.2 369.0v-1.2M190.7 369.0v-2.5M191.2 369.0v-2.0M191.7 369.0v-2.9M192.2 369.0v-1.1M192.7 369.0v-1.2M193.2 369.0v-1.1M193.7 369.0v-1.3M194.2 369.0v-1.3M194.7 369.0v-1.6M195.2 369.0v-1.4M195.7 369.0v-1.1M196.2 369.0v-1.2M196.7 369.0v-1.3M197.2 369.0v-1.0M197.7 369.0v-1.0M198.2 369.0v-1.2M198.7 369.0v-1.0M199.2 369.0v-1.5M199.7 369.0v-1.1M200.2 369.0v-1.0M200.7 369.0v-1.1M201.2 369.0v-1.1M201.7 369.0v-1.1M202.2 369.0v-1.3M202.7 369.0v-1.2M203.2 369.0v-1.1M203.7 369.0v-1.4M204.2 369.0v-1.1M204.7 369.0v-1.8M205.2 369.0v-2.2M205.7 369.0v-1.5M206.2 369.0v-1.2M206.7 369.0v-1.2M207.2 369.0v-1.3M207.7 369.0v-1.0M208.2 369.0v-1.2M208.7 369.0v-1.3M209.2 369.0v-1.1M209.7 369.0v-1.0M210.2 369.0v-1.6M210.7 369.0v-1.2M211.2 369.0v-1.3M211.7 369.0v-1.9M212.2 369.0v-1.3M212.7 369.0v-1.1M213.2 369.0v-2.5M213.7 369.0v-1.2M214.2 369.0v-1.0M214.7 369.0v-1.4M215.2 369.0v-1.0M215.7 369.0v-1.1M216.2 369.0v-1.6M216.7 369.0v-1.4M217.2 369.0v-1.0M217.7 369.0v-1.2M218.2 369.0v-1.2M218.7 369.0v-1.2M219.2 369.0v-1.1M219.7 369.0v-1.3M220.2 369.0v-1.0M220.7 369.0v-1.1M221.2 369.0v-1.2M221.7 369.0v-2.0M222.2 369.0v-1.0M222.7 369.0v-1.5M223.2 369.0v-1.1M223.7 369.0v-1.3M224.2 369.0v-1.2M224.7 369.0v-1.2M225.2 369.0v-1.5M225.7 369.0v-1.2M226.2 369.0v-1.0M226.7 369.0v-1.0M227.2 369.0v-1.0M227.7 369.0v-1.7M228.2 369.0v-1.4M228.7 369.0v-2.1M229.2 369.0v-1.4M229.7 369.0v-1.0M230.2 369.0v-1.4M230.7 369.0v-1.5M231.2 369.0v-1.5M231.7 369.0v-1.2M232.2 369.0v-1.2M232.7 369.0v-1.2M233.2 369.0v-1.6M233.7 369.0v-1.1M234.2 369.0v-1.3M234.7 369.0v-1.2M235.2 369.0v-2.1M235.7 369.0v-1.6M236.2 369.0v-2.0M236.7 369.0v-1.6M237.2 369.0v-1.1M237.7 369.0v-1.1M238.2 369.0v-1.2M238.7 369.0v-1.1M239.2 369.0v-1.2M239.7 369.0v-1.4M240.2 369.0v-1.9M240.7 369.0v-1.3M241.2 369.0v-1.6M241.7 369.0v-1.0M242.2 369.0v-1.1M242.7 369.0v-3.0M243.2 369.0v-1.0M243.7 369.0v-1.2M244.2 369.0v-1.0M244.7 369.0v-1.0M245.2 369.0v-1.8M245.7 369.0v-2.6M246.2 369.0v-1.4M246.7 369.0v-1.0M247.2 369.0v-1.1M247.7 369.0v-1.1M248.2 369.0v-1.4M248.7 369.0v-1.4M249.2 369.0v-1.2M249.7 369.0v-1.3M250.2 369.0v-1.0M250.7 369.0v-1.3M251.2 369.0v-2.1M251.7 369.0v-1.5M252.2 369.0v-1.0M252.7 369.0v-1.3M253.2 369.0v-1.4M253.7 369.0v-1.1M254.2 369.0v-1.8M254.7 369.0v-1.2M255.2 369.0v-1.4M255.7 369.0v-1.2M256.2 369.0v-2.9M256.7 369.0v-1.5M257.2 369.0v-1.3M257.7 369.0v-1.0M258.2 369.0v-1.2M258.7 369.0v-1.0M259.2 369.0v-1.3M259.7 369.0v-1.8M260.2 369.0v-1.1M260.7 369.0v-1.2M261.2 369.0v-1.2M261.7 369.0v-1.2M262.2 369.0v-1.4M262.7 369.0v-2.0M263.2 369.0v-1.4M263.7 369.0v-1.2M264.2 369.0v-2.2M264.7 369.0v-1.1M265.2 369.0v-1.5M265.7 369.0v-1.4M266.2 369.0v-1.5M266.7 369.0v-1.7M267.2 369.0v-1.1M267.7 369.0v-1.3M268.2 369.0v-1.2M268.7 369.0v-1.4M269.2 369.0v-2.3M269.7 369.0v-1.4M270.2 369.0v-1.0M270.7 369.0v-1.2M271.2 369.0v-1.4M271.7 369.0v-1.8M272.2 369.0v-1.4M272.7 369.0v-1.6M273.2 369.0v-1.0M273.7 369.0v-2.0M274.2 369.0v-1.5M274.7 369.0v-1.3M275.2 369.0v-1.8M275.7 369.0v-1.8M276.2 369.0v-1.0M276.7 369.0v-1.6M277.2 369.0v-1.5M277.7 369.0v-1.1M278.2 369.0v-1.5M278.7 369.0v-1.3M279.2 369.0v-1.1M279.7 369.0v-1.6M280.2 369.0v-1.0M280.7 369.0v-1.3M281.2 369.0v-1.2M281.7 369.0v-1.1M282.2 369.0v-1.3M282.7 369.0v-1.2M283.2 369.0v-1.1M283.7 369.0v-2.2M284.2 369.0v-1.0M284.7 369.0v-1.0M285.2 369.0v-1.2M285.7 369.0v-1.6M286.2 369.0v-1.4M286.7 369.0v-1.5M287.2 369.0v-1.2M287.7 369.0v-1.4M288.2 369.0v-1.1M288.7 369.0v-1.1M289.2 369.0v-1.2M289.7 369.0v-1.0M290.2 369.0v-1.0M290.7 369.0v-1.5M291.2 369.0v-1.1M291.7 369.0v-1.5M292.2 369.0v-1.5M292.7 369.0v-1.2M293.2 369.0v-1.4M293.7 369.0v-1.5M294.2 369.0v-1.7M294.7 369.0v-1.0M295.2 369.0v-1.1M295.7 369.0v-1.2M296.2 369.0v-1.2M296.7 369.0v-1.1M297.2 369.0v-1.0M297.7 369.0v-1.3M298.2 369.0v-2.2M298.7 369.0v-1.2M299.2 369.0v-1.3M299.7 369.0v-1.2M300.2 369.0v-1.2M300.7 369.0v-1.7M301.2 369.0v-1.1M301.7 369.0v-1.4M302.2 369.0v-1.2M302.7 369.0v-1.3M303.2 369.0v-1.9M303.7 369.0v-1.0M304.2 369.0v-1.6M304.7 369.0v-1.1M305.2 369.0v-1.4M305.7 369.0v-1.6M306.2 369.0v-1.4M306.7 369.0v-1.2M307.2 369.0v-1.6M307.7 369.0v-1.0M308.2 369.0v-1.4M308.7 369.0v-1.2M309.2 369.0v-1.3M309.7 369.0v-1.7M310.2 369.0v-1.6M310.7 369.0v-1.3M311.2 369.0v-1.1M311.7 369.0v-1.1M312.2 369.0v-1.2M312.7 369.0v-1.1M313.2 369.0v-1.1M313.7 369.0v-2.1M314.2 369.0v-1.0M314.7 369.0v-1.6M315.2 369.0v-1.2M315.7 369.0v-1.2M316.2 369.0v-1.1M316.7 369.0v-1.0M317.2 369.0v-1.2M317.7 369.0v-1.1M318.2 369.0v-1.2M318.7 369.0v-1.1M319.2 369.0v-1.8M319.7 369.0v-1.9M320.2 369.0v-1.2M320.7 369.0v-1.4M321.2 369.0v-1.9M321.7 369.0v-1.1M322.2 369.0v-1.0M322.7 369.0v-1.1M323.2 369.0v-1.1M323.7 369.0v-1.4M324.2 369.0v-1.2M324.7 369.0v-1.1M325.2 369.0v-1.6M325.7 369.0v-1.1M326.2 369.0v-1.6M326.7 369.0v-1.4M327.2 369.0v-1.2M327.7 369.0v-1.6M328.2 369.0v-1.1M328.7 369.0v-1.7M329.2 369.0v-1.9M329.7 369.0v-1.2M330.2 369.0v-1.4M330.7 369.0v-2.1M331.2 369.0v-1.5M331.7 369.0v-1.5M332.2 369.0v-1.7M332.7 369.0v-2.0M333.2 369.0v-1.5M333.7 369.0v-2.4M334.2 369.0v-1.1M334.7 369.0v-1.3M335.2 369.0v-1.4M335.7 369.0v-1.2M336.2 369.0v-1.2M336.7 369.0v-1.1M337.2 369.0v-2.1M337.7 369.0v-1.1M338.2 369.0v-1.2M338.7 369.0v-1.8M339.2 369.0v-1.1M339.7 369.0v-2.1M340.2 369.0v-1.0M340.7 369.0v-1.0" stroke="#55b5e5" stroke-width="0.5" fill="none" opacity="0.9"/>
<path d="M240.0 369.0v-1.5M285.0 369.0v-1.5" stroke="#55b5e5" stroke-width="0.6" fill="none" opacity="0.8"/>
<rect x="112.20" y="368.20" width="228.80" height="1.60" fill="#55b5e5" />
<text x="109.1" y="350.6" font-size="7.3" text-anchor="end" fill="#55b5e5" font-weight="normal" >200</text>
<text x="104.1" y="367.4" font-size="7.3" text-anchor="end" fill="#55b5e5" font-weight="normal" >0</text>
<line x1="111.6" y1="348.0" x2="113.2" y2="348.0" stroke="#55b5e5" stroke-width="0.8" />
<line x1="105.5" y1="369.2" x2="111.6" y2="369.2" stroke="#55b5e5" stroke-width="0.8" />
<path d="M112.2 394.9v-1.1M112.7 394.9v-1.3M113.2 394.9v-1.2M113.7 394.9v-1.3M114.2 394.9v-1.3M114.7 394.9v-1.0M115.2 394.9v-1.0M115.7 394.9v-1.6M116.2 394.9v-1.1M116.7 394.9v-1.1M117.2 394.9v-2.9M117.7 394.9v-1.2M118.2 394.9v-1.6M118.7 394.9v-1.2M119.2 394.9v-1.4M119.7 394.9v-1.1M120.2 394.9v-1.4M120.7 394.9v-1.7M121.2 394.9v-1.3M121.7 394.9v-1.5M122.2 394.9v-1.4M122.7 394.9v-1.0M123.2 394.9v-1.5M123.7 394.9v-1.3M124.2 394.9v-1.1M124.7 394.9v-1.0M125.2 394.9v-1.7M125.7 394.9v-1.2M126.2 394.9v-1.4M126.7 394.9v-1.7M127.2 394.9v-1.4M127.7 394.9v-1.9M128.2 394.9v-1.2M128.7 394.9v-1.6M129.2 394.9v-1.2M129.7 394.9v-2.0M130.2 394.9v-1.7M130.7 394.9v-1.0M131.2 394.9v-1.0M131.7 394.9v-1.1M132.2 394.9v-2.2M132.7 394.9v-1.2M133.2 394.9v-1.3M133.7 394.9v-1.1M134.2 394.9v-1.2M134.7 394.9v-1.2M135.2 394.9v-1.1M135.7 394.9v-1.3M136.2 394.9v-1.3M136.7 394.9v-1.8M137.2 394.9v-1.4M137.7 394.9v-1.9M138.2 394.9v-1.7M138.7 394.9v-2.7M139.2 394.9v-1.4M139.7 394.9v-1.1M140.2 394.9v-1.7M140.7 394.9v-2.2M141.2 394.9v-1.8M141.7 394.9v-1.3M142.2 394.9v-1.4M142.7 394.9v-1.1M143.2 394.9v-1.6M143.7 394.9v-1.3M144.2 394.9v-1.1M144.7 394.9v-1.0M145.2 394.9v-1.7M145.7 394.9v-2.6M146.2 394.9v-1.0M146.7 394.9v-1.6M147.2 394.9v-1.2M147.7 394.9v-1.1M148.2 394.9v-1.1M148.7 394.9v-1.5M149.2 394.9v-1.7M149.7 394.9v-1.0M150.2 394.9v-1.3M150.7 394.9v-1.0M151.2 394.9v-1.4M151.7 394.9v-1.1M152.2 394.9v-1.8M152.7 394.9v-2.4M153.2 394.9v-1.2M153.7 394.9v-3.0M154.2 394.9v-1.1M154.7 394.9v-1.0M155.2 394.9v-1.3M155.7 394.9v-1.0M156.2 394.9v-1.1M156.7 394.9v-1.2M157.2 394.9v-1.3M157.7 394.9v-1.1M158.2 394.9v-1.0M158.7 394.9v-1.7M159.2 394.9v-1.1M159.7 394.9v-2.1M160.2 394.9v-1.8M160.7 394.9v-1.2M161.2 394.9v-1.2M161.7 394.9v-1.3M162.2 394.9v-1.4M162.7 394.9v-1.3M163.2 394.9v-1.3M163.7 394.9v-1.3M164.2 394.9v-2.0M164.7 394.9v-1.2M165.2 394.9v-1.2M165.7 394.9v-1.4M166.2 394.9v-1.1M166.7 394.9v-1.1M167.2 394.9v-2.4M167.7 394.9v-1.3M168.2 394.9v-1.3M168.7 394.9v-1.0M169.2 394.9v-1.2M169.7 394.9v-1.3M170.2 394.9v-1.0M170.7 394.9v-1.3M171.2 394.9v-1.4M171.7 394.9v-1.0M172.2 394.9v-1.3M172.7 394.9v-1.2M173.2 394.9v-1.4M173.7 394.9v-1.1M174.2 394.9v-1.4M174.7 394.9v-1.5M175.2 394.9v-1.0M175.7 394.9v-1.0M176.2 394.9v-1.4M176.7 394.9v-2.2M177.2 394.9v-1.1M177.7 394.9v-1.2M178.2 394.9v-1.3M178.7 394.9v-1.1M179.2 394.9v-1.2M179.7 394.9v-1.1M180.2 394.9v-1.2M180.7 394.9v-1.3M181.2 394.9v-1.1M181.7 394.9v-1.2M182.2 394.9v-1.5M182.7 394.9v-1.0M183.2 394.9v-1.3M183.7 394.9v-1.5M184.2 394.9v-1.1M184.7 394.9v-1.1M185.2 394.9v-1.6M185.7 394.9v-1.1M186.2 394.9v-1.1M186.7 394.9v-1.2M187.2 394.9v-1.4M187.7 394.9v-1.0M188.2 394.9v-1.1M188.7 394.9v-1.1M189.2 394.9v-1.6M189.7 394.9v-1.2M190.2 394.9v-1.7M190.7 394.9v-1.1M191.2 394.9v-1.1M191.7 394.9v-1.4M192.2 394.9v-1.8M192.7 394.9v-1.2M193.2 394.9v-1.1M193.7 394.9v-1.0M194.2 394.9v-1.3M194.7 394.9v-1.1M195.2 394.9v-1.6M195.7 394.9v-1.6M196.2 394.9v-1.1M196.7 394.9v-1.1M197.2 394.9v-1.6M197.7 394.9v-1.4M198.2 394.9v-1.6M198.7 394.9v-1.1M199.2 394.9v-1.0M199.7 394.9v-1.1M200.2 394.9v-1.6M200.7 394.9v-1.1M201.2 394.9v-1.1M201.7 394.9v-1.2M202.2 394.9v-1.2M202.7 394.9v-1.2M203.2 394.9v-1.9M203.7 394.9v-1.1M204.2 394.9v-1.0M204.7 394.9v-2.0M205.2 394.9v-1.8M205.7 394.9v-2.5M206.2 394.9v-1.2M206.7 394.9v-2.1M207.2 394.9v-1.9M207.7 394.9v-1.1M208.2 394.9v-1.5M208.7 394.9v-1.6M209.2 394.9v-1.4M209.7 394.9v-1.3M210.2 394.9v-1.1M210.7 394.9v-1.1M211.2 394.9v-1.1M211.7 394.9v-1.0M212.2 394.9v-1.3M212.7 394.9v-1.1M213.2 394.9v-1.6M213.7 394.9v-1.0M214.2 394.9v-1.8M214.7 394.9v-1.4M215.2 394.9v-1.9M215.7 394.9v-1.8M216.2 394.9v-1.8M216.7 394.9v-1.3M217.2 394.9v-1.0M217.7 394.9v-1.5M218.2 394.9v-1.1M218.7 394.9v-1.1M219.2 394.9v-1.4M219.7 394.9v-1.3M220.2 394.9v-1.2M220.7 394.9v-2.0M221.2 394.9v-1.3M221.7 394.9v-1.1M222.2 394.9v-1.1M222.7 394.9v-1.7M223.2 394.9v-1.2M223.7 394.9v-1.5M224.2 394.9v-1.1M224.7 394.9v-1.1M225.2 394.9v-1.3M225.7 394.9v-1.6M226.2 394.9v-1.1M226.7 394.9v-1.6M227.2 394.9v-1.9M227.7 394.9v-1.6M228.2 394.9v-1.6M228.7 394.9v-1.0M229.2 394.9v-1.3M229.7 394.9v-1.7M230.2 394.9v-1.0M230.7 394.9v-1.1M231.2 394.9v-1.1M231.7 394.9v-1.3M232.2 394.9v-1.2M232.7 394.9v-1.2M233.2 394.9v-1.5M233.7 394.9v-1.0M234.2 394.9v-1.0M234.7 394.9v-1.0M235.2 394.9v-1.0M235.7 394.9v-1.0M236.2 394.9v-2.3M236.7 394.9v-1.7M237.2 394.9v-1.0M237.7 394.9v-1.2M238.2 394.9v-1.1M238.7 394.9v-1.1M239.2 394.9v-1.1M239.7 394.9v-1.4M240.2 394.9v-1.3M240.7 394.9v-1.2M241.2 394.9v-1.1M241.7 394.9v-1.1M242.2 394.9v-1.0M242.7 394.9v-1.3M243.2 394.9v-1.4M243.7 394.9v-1.2M244.2 394.9v-1.0M244.7 394.9v-1.1M245.2 394.9v-1.2M245.7 394.9v-1.3M246.2 394.9v-1.5M246.7 394.9v-1.2M247.2 394.9v-1.6M247.7 394.9v-1.3M248.2 394.9v-1.2M248.7 394.9v-1.2M249.2 394.9v-1.2M249.7 394.9v-1.4M250.2 394.9v-1.2M250.7 394.9v-1.4M251.2 394.9v-1.2M251.7 394.9v-1.1M252.2 394.9v-1.3M252.7 394.9v-1.4M253.2 394.9v-1.0M253.7 394.9v-1.2M254.2 394.9v-1.2M254.7 394.9v-1.7M255.2 394.9v-2.0M255.7 394.9v-1.2M256.2 394.9v-1.8M256.7 394.9v-1.6M257.2 394.9v-1.1M257.7 394.9v-1.2M258.2 394.9v-1.0M258.7 394.9v-1.6M259.2 394.9v-1.4M259.7 394.9v-1.8M260.2 394.9v-1.6M260.7 394.9v-1.4M261.2 394.9v-1.5M261.7 394.9v-1.3M262.2 394.9v-1.0M262.7 394.9v-1.3M263.2 394.9v-1.0M263.7 394.9v-1.0M264.2 394.9v-1.5M264.7 394.9v-1.0M265.2 394.9v-1.0M265.7 394.9v-1.0M266.2 394.9v-1.8M266.7 394.9v-1.1M267.2 394.9v-1.0M267.7 394.9v-1.7M268.2 394.9v-1.0M268.7 394.9v-1.7M269.2 394.9v-1.4M269.7 394.9v-1.6M270.2 394.9v-2.1M270.7 394.9v-1.3M271.2 394.9v-1.6M271.7 394.9v-1.0M272.2 394.9v-1.5M272.7 394.9v-1.2M273.2 394.9v-1.4M273.7 394.9v-1.0M274.2 394.9v-1.5M274.7 394.9v-2.0M275.2 394.9v-1.0M275.7 394.9v-1.1M276.2 394.9v-1.3M276.7 394.9v-1.6M277.2 394.9v-1.1M277.7 394.9v-1.1M278.2 394.9v-1.1M278.7 394.9v-1.3M279.2 394.9v-1.5M279.7 394.9v-1.2M280.2 394.9v-1.2M280.7 394.9v-1.2M281.2 394.9v-1.1M281.7 394.9v-1.2M282.2 394.9v-1.0M282.7 394.9v-1.2M283.2 394.9v-2.3M283.7 394.9v-1.2M284.2 394.9v-1.5M284.7 394.9v-1.1M285.2 394.9v-1.4M285.7 394.9v-1.5M286.2 394.9v-1.4M286.7 394.9v-1.3M287.2 394.9v-1.2M287.7 394.9v-1.4M288.2 394.9v-1.8M288.7 394.9v-1.1M289.2 394.9v-1.0M289.7 394.9v-1.5M290.2 394.9v-1.9M290.7 394.9v-1.3M291.2 394.9v-1.2M291.7 394.9v-1.4M292.2 394.9v-1.1M292.7 394.9v-1.1M293.2 394.9v-1.1M293.7 394.9v-1.3M294.2 394.9v-1.1M294.7 394.9v-1.1M295.2 394.9v-1.4M295.7 394.9v-2.1M296.2 394.9v-1.1M296.7 394.9v-1.4M297.2 394.9v-1.2M297.7 394.9v-1.7M298.2 394.9v-1.3M298.7 394.9v-1.1M299.2 394.9v-1.1M299.7 394.9v-1.0M300.2 394.9v-1.2M300.7 394.9v-1.2M301.2 394.9v-1.1M301.7 394.9v-1.2M302.2 394.9v-1.1M302.7 394.9v-1.5M303.2 394.9v-1.0M303.7 394.9v-2.7M304.2 394.9v-1.2M304.7 394.9v-1.3M305.2 394.9v-1.2M305.7 394.9v-1.6M306.2 394.9v-1.6M306.7 394.9v-1.3M307.2 394.9v-1.2M307.7 394.9v-1.4M308.2 394.9v-1.7M308.7 394.9v-1.2M309.2 394.9v-1.5M309.7 394.9v-2.1M310.2 394.9v-1.2M310.7 394.9v-1.1M311.2 394.9v-1.1M311.7 394.9v-1.4M312.2 394.9v-1.4M312.7 394.9v-2.1M313.2 394.9v-1.7M313.7 394.9v-1.1M314.2 394.9v-1.1M314.7 394.9v-1.1M315.2 394.9v-1.1M315.7 394.9v-1.4M316.2 394.9v-1.7M316.7 394.9v-1.8M317.2 394.9v-1.1M317.7 394.9v-1.7M318.2 394.9v-1.1M318.7 394.9v-1.2M319.2 394.9v-1.5M319.7 394.9v-1.0M320.2 394.9v-1.0M320.7 394.9v-1.6M321.2 394.9v-1.1M321.7 394.9v-1.2M322.2 394.9v-1.3M322.7 394.9v-1.4M323.2 394.9v-1.0M323.7 394.9v-1.1M324.2 394.9v-1.2M324.7 394.9v-1.2M325.2 394.9v-1.1M325.7 394.9v-1.3M326.2 394.9v-2.1M326.7 394.9v-1.2M327.2 394.9v-1.3M327.7 394.9v-1.0M328.2 394.9v-1.1M328.7 394.9v-1.4M329.2 394.9v-1.0M329.7 394.9v-1.8M330.2 394.9v-1.8M330.7 394.9v-1.0M331.2 394.9v-2.0M331.7 394.9v-1.2M332.2 394.9v-1.5M332.7 394.9v-1.5M333.2 394.9v-1.1M333.7 394.9v-1.4M334.2 394.9v-1.4M334.7 394.9v-1.6M335.2 394.9v-1.1M335.7 394.9v-1.5M336.2 394.9v-2.2M336.7 394.9v-1.4M337.2 394.9v-1.3M337.7 394.9v-1.0M338.2 394.9v-1.2M338.7 394.9v-1.1M339.2 394.9v-1.4M339.7 394.9v-1.4M340.2 394.9v-1.3M340.7 394.9v-1.1" stroke="#86c9e0" stroke-width="0.5" fill="none" opacity="0.9"/>
<path d="M262.0 394.9v-1.5" stroke="#86c9e0" stroke-width="0.6" fill="none" opacity="0.8"/>
<rect x="112.20" y="394.10" width="228.80" height="1.60" fill="#86c9e0" />
<text x="109.1" y="376.5" font-size="7.3" text-anchor="end" fill="#86c9e0" font-weight="normal" >200</text>
<text x="104.1" y="393.29999999999995" font-size="7.3" text-anchor="end" fill="#86c9e0" font-weight="normal" >0</text>
<line x1="111.6" y1="373.9" x2="113.2" y2="373.9" stroke="#86c9e0" stroke-width="0.8" />
<line x1="105.5" y1="395.09999999999997" x2="111.6" y2="395.09999999999997" stroke="#86c9e0" stroke-width="0.8" />
<path d="M112.2 420.1v-1.1M112.7 420.1v-1.0M113.2 420.1v-1.2M113.7 420.1v-1.1M114.2 420.1v-1.0M114.7 420.1v-1.2M115.2 420.1v-1.9M115.7 420.1v-1.6M116.2 420.1v-1.5M116.7 420.1v-1.1M117.2 420.1v-1.3M117.7 420.1v-1.1M118.2 420.1v-1.1M118.7 420.1v-1.0M119.2 420.1v-1.1M119.7 420.1v-1.9M120.2 420.1v-1.6M120.7 420.1v-1.6M121.2 420.1v-1.6M121.7 420.1v-1.1M122.2 420.1v-1.1M122.7 420.1v-1.3M123.2 420.1v-1.5M123.7 420.1v-1.7M124.2 420.1v-1.8M124.7 420.1v-1.0M125.2 420.1v-1.3M125.7 420.1v-1.4M126.2 420.1v-1.2M126.7 420.1v-1.1M127.2 420.1v-1.2M127.7 420.1v-1.0M128.2 420.1v-2.0M128.7 420.1v-1.7M129.2 420.1v-1.3M129.7 420.1v-1.1M130.2 420.1v-1.8M130.7 420.1v-1.3M131.2 420.1v-1.8M131.7 420.1v-1.7M132.2 420.1v-1.2M132.7 420.1v-1.2M133.2 420.1v-1.3M133.7 420.1v-1.2M134.2 420.1v-1.1M134.7 420.1v-1.1M135.2 420.1v-1.6M135.7 420.1v-1.0M136.2 420.1v-1.0M136.7 420.1v-1.3M137.2 420.1v-1.1M137.7 420.1v-1.3M138.2 420.1v-1.2M138.7 420.1v-1.1M139.2 420.1v-3.0M139.7 420.1v-1.1M140.2 420.1v-1.2M140.7 420.1v-1.1M141.2 420.1v-1.4M141.7 420.1v-1.1M142.2 420.1v-1.1M142.7 420.1v-1.5M143.2 420.1v-1.1M143.7 420.1v-1.3M144.2 420.1v-1.8M144.7 420.1v-1.0M145.2 420.1v-1.0M145.7 420.1v-1.1M146.2 420.1v-1.5M146.7 420.1v-1.3M147.2 420.1v-1.1M147.7 420.1v-1.1M148.2 420.1v-1.1M148.7 420.1v-1.2M149.2 420.1v-1.0M149.7 420.1v-1.4M150.2 420.1v-1.8M150.7 420.1v-2.1M151.2 420.1v-1.5M151.7 420.1v-2.1M152.2 420.1v-1.0M152.7 420.1v-1.1M153.2 420.1v-2.2M153.7 420.1v-1.5M154.2 420.1v-1.2M154.7 420.1v-2.0M155.2 420.1v-1.3M155.7 420.1v-1.6M156.2 420.1v-1.1M156.7 420.1v-1.1M157.2 420.1v-1.2M157.7 420.1v-1.0M158.2 420.1v-1.2M158.7 420.1v-2.2M159.2 420.1v-1.1M159.7 420.1v-1.0M160.2 420.1v-1.0M160.7 420.1v-1.1M161.2 420.1v-1.5M161.7 420.1v-1.2M162.2 420.1v-1.1M162.7 420.1v-1.0M163.2 420.1v-2.4M163.7 420.1v-1.2M164.2 420.1v-1.1M164.7 420.1v-1.0M165.2 420.1v-1.0M165.7 420.1v-1.1M166.2 420.1v-1.4M166.7 420.1v-1.1M167.2 420.1v-1.0M167.7 420.1v-1.2M168.2 420.1v-1.1M168.7 420.1v-3.0M169.2 420.1v-1.0M169.7 420.1v-1.3M170.2 420.1v-1.5M170.7 420.1v-1.2M171.2 420.1v-2.6M171.7 420.1v-1.2M172.2 420.1v-1.1M172.7 420.1v-1.2M173.2 420.1v-1.0M173.7 420.1v-1.2M174.2 420.1v-1.1M174.7 420.1v-1.8M175.2 420.1v-1.6M175.7 420.1v-1.2M176.2 420.1v-1.0M176.7 420.1v-1.1M177.2 420.1v-1.1M177.7 420.1v-1.1M178.2 420.1v-1.1M178.7 420.1v-1.7M179.2 420.1v-1.0M179.7 420.1v-1.0M180.2 420.1v-1.9M180.7 420.1v-1.3M181.2 420.1v-2.7M181.7 420.1v-1.2M182.2 420.1v-1.8M182.7 420.1v-1.4M183.2 420.1v-1.6M183.7 420.1v-1.5M184.2 420.1v-1.2M184.7 420.1v-1.0M185.2 420.1v-1.1M185.7 420.1v-1.7M186.2 420.1v-1.8M186.7 420.1v-1.9M187.2 420.1v-1.1M187.7 420.1v-1.4M188.2 420.1v-1.6M188.7 420.1v-1.4M189.2 420.1v-1.6M189.7 420.1v-1.3M190.2 420.1v-1.4M190.7 420.1v-1.4M191.2 420.1v-1.1M191.7 420.1v-1.9M192.2 420.1v-2.1M192.7 420.1v-1.0M193.2 420.1v-2.3M193.7 420.1v-2.2M194.2 420.1v-1.4M194.7 420.1v-1.0M195.2 420.1v-1.8M195.7 420.1v-1.0M196.2 420.1v-2.2M196.7 420.1v-1.4M197.2 420.1v-1.0M197.7 420.1v-1.1M198.2 420.1v-1.4M198.7 420.1v-1.3M199.2 420.1v-1.5M199.7 420.1v-1.9M200.2 420.1v-1.1M200.7 420.1v-1.0M201.2 420.1v-1.9M201.7 420.1v-1.0M202.2 420.1v-1.7M202.7 420.1v-1.0M203.2 420.1v-1.6M203.7 420.1v-1.5M204.2 420.1v-1.7M204.7 420.1v-1.3M205.2 420.1v-1.7M205.7 420.1v-1.1M206.2 420.1v-1.4M206.7 420.1v-1.1M207.2 420.1v-1.8M207.7 420.1v-1.5M208.2 420.1v-1.2M208.7 420.1v-1.3M209.2 420.1v-1.0M209.7 420.1v-1.0M210.2 420.1v-1.3M210.7 420.1v-1.2M211.2 420.1v-1.7M211.7 420.1v-1.3M212.2 420.1v-1.0M212.7 420.1v-1.2M213.2 420.1v-1.5M213.7 420.1v-1.3M214.2 420.1v-1.0M214.7 420.1v-1.6M215.2 420.1v-1.6M215.7 420.1v-1.0M216.2 420.1v-1.3M216.7 420.1v-1.2M217.2 420.1v-1.5M217.7 420.1v-1.1M218.2 420.1v-1.1M218.7 420.1v-1.2M219.2 420.1v-2.2M219.7 420.1v-1.0M220.2 420.1v-1.0M220.7 420.1v-1.3M221.2 420.1v-1.8M221.7 420.1v-1.2M222.2 420.1v-1.2M222.7 420.1v-1.7M223.2 420.1v-1.5M223.7 420.1v-1.0M224.2 420.1v-1.8M224.7 420.1v-1.1M225.2 420.1v-1.1M225.7 420.1v-1.6M226.2 420.1v-1.2M226.7 420.1v-1.6M227.2 420.1v-1.1M227.7 420.1v-1.7M228.2 420.1v-1.1M228.7 420.1v-1.1M229.2 420.1v-1.2M229.7 420.1v-1.1M230.2 420.1v-1.3M230.7 420.1v-1.8M231.2 420.1v-1.4M231.7 420.1v-1.0M232.2 420.1v-1.1M232.7 420.1v-1.3M233.2 420.1v-1.2M233.7 420.1v-1.4M234.2 420.1v-1.2M234.7 420.1v-1.0M235.2 420.1v-1.1M235.7 420.1v-1.7M236.2 420.1v-1.2M236.7 420.1v-1.5M237.2 420.1v-2.5M237.7 420.1v-1.3M238.2 420.1v-1.4M238.7 420.1v-1.3M239.2 420.1v-1.1M239.7 420.1v-1.9M240.2 420.1v-1.2M240.7 420.1v-1.9M241.2 420.1v-1.1M241.7 420.1v-1.7M242.2 420.1v-1.5M242.7 420.1v-1.3M243.2 420.1v-1.2M243.7 420.1v-1.0M244.2 420.1v-1.5M244.7 420.1v-1.2M245.2 420.1v-1.4M245.7 420.1v-1.0M246.2 420.1v-1.0M246.7 420.1v-1.0M247.2 420.1v-1.6M247.7 420.1v-1.1M248.2 420.1v-1.8M248.7 420.1v-1.2M249.2 420.1v-1.3M249.7 420.1v-1.1M250.2 420.1v-1.3M250.7 420.1v-1.0M251.2 420.1v-1.2M251.7 420.1v-2.0M252.2 420.1v-1.1M252.7 420.1v-1.4M253.2 420.1v-1.1M253.7 420.1v-1.1M254.2 420.1v-1.0M254.7 420.1v-1.0M255.2 420.1v-2.1M255.7 420.1v-1.6M256.2 420.1v-1.6M256.7 420.1v-1.6M257.2 420.1v-2.1M257.7 420.1v-1.1M258.2 420.1v-1.3M258.7 420.1v-1.2M259.2 420.1v-1.3M259.7 420.1v-2.0M260.2 420.1v-1.5M260.7 420.1v-2.2M261.2 420.1v-1.0M261.7 420.1v-1.4M262.2 420.1v-1.4M262.7 420.1v-1.5M263.2 420.1v-1.3M263.7 420.1v-1.6M264.2 420.1v-1.1M264.7 420.1v-1.9M265.2 420.1v-1.2M265.7 420.1v-1.3M266.2 420.1v-1.8M266.7 420.1v-1.4M267.2 420.1v-1.1M267.7 420.1v-1.1M268.2 420.1v-1.1M268.7 420.1v-1.3M269.2 420.1v-3.0M269.7 420.1v-1.8M270.2 420.1v-1.2M270.7 420.1v-1.2M271.2 420.1v-1.6M271.7 420.1v-1.1M272.2 420.1v-1.2M272.7 420.1v-1.0M273.2 420.1v-1.1M273.7 420.1v-1.3M274.2 420.1v-1.4M274.7 420.1v-1.3M275.2 420.1v-1.2M275.7 420.1v-2.1M276.2 420.1v-1.3M276.7 420.1v-1.1M277.2 420.1v-1.0M277.7 420.1v-2.3M278.2 420.1v-2.6M278.7 420.1v-1.9M279.2 420.1v-1.3M279.7 420.1v-1.1M280.2 420.1v-1.0M280.7 420.1v-1.1M281.2 420.1v-1.1M281.7 420.1v-1.9M282.2 420.1v-1.8M282.7 420.1v-1.5M283.2 420.1v-1.1M283.7 420.1v-1.1M284.2 420.1v-1.1M284.7 420.1v-2.0M285.2 420.1v-1.1M285.7 420.1v-1.6M286.2 420.1v-1.4M286.7 420.1v-1.3M287.2 420.1v-2.1M287.7 420.1v-1.1M288.2 420.1v-1.3M288.7 420.1v-1.1M289.2 420.1v-1.0M289.7 420.1v-1.0M290.2 420.1v-1.1M290.7 420.1v-1.0M291.2 420.1v-1.0M291.7 420.1v-2.7M292.2 420.1v-1.1M292.7 420.1v-1.8M293.2 420.1v-1.4M293.7 420.1v-1.5M294.2 420.1v-1.4M294.7 420.1v-2.1M295.2 420.1v-1.7M295.7 420.1v-1.4M296.2 420.1v-1.3M296.7 420.1v-1.4M297.2 420.1v-1.5M297.7 420.1v-1.3M298.2 420.1v-1.2M298.7 420.1v-1.1M299.2 420.1v-1.7M299.7 420.1v-1.2M300.2 420.1v-1.0M300.7 420.1v-1.1M301.2 420.1v-1.7M301.7 420.1v-1.1M302.2 420.1v-1.2M302.7 420.1v-1.4M303.2 420.1v-1.7M303.7 420.1v-1.1M304.2 420.1v-1.2M304.7 420.1v-1.2M305.2 420.1v-1.0M305.7 420.1v-1.7M306.2 420.1v-1.0M306.7 420.1v-2.1M307.2 420.1v-1.1M307.7 420.1v-1.1M308.2 420.1v-1.7M308.7 420.1v-1.6M309.2 420.1v-1.1M309.7 420.1v-1.3M310.2 420.1v-1.2M310.7 420.1v-1.4M311.2 420.1v-1.1M311.7 420.1v-1.6M312.2 420.1v-3.0M312.7 420.1v-1.4M313.2 420.1v-1.9M313.7 420.1v-2.0M314.2 420.1v-1.2M314.7 420.1v-1.7M315.2 420.1v-1.6M315.7 420.1v-1.3M316.2 420.1v-1.0M316.7 420.1v-1.3M317.2 420.1v-1.9M317.7 420.1v-1.1M318.2 420.1v-1.4M318.7 420.1v-1.8M319.2 420.1v-1.3M319.7 420.1v-1.0M320.2 420.1v-1.3M320.7 420.1v-1.1M321.2 420.1v-1.7M321.7 420.1v-1.4M322.2 420.1v-1.1M322.7 420.1v-1.8M323.2 420.1v-1.3M323.7 420.1v-1.1M324.2 420.1v-1.6M324.7 420.1v-1.8M325.2 420.1v-1.8M325.7 420.1v-1.8M326.2 420.1v-1.4M326.7 420.1v-1.4M327.2 420.1v-1.3M327.7 420.1v-1.3M328.2 420.1v-2.6M328.7 420.1v-1.1M329.2 420.1v-1.0M329.7 420.1v-1.4M330.2 420.1v-1.2M330.7 420.1v-1.3M331.2 420.1v-1.3M331.7 420.1v-1.1M332.2 420.1v-1.1M332.7 420.1v-1.0M333.2 420.1v-1.5M333.7 420.1v-1.8M334.2 420.1v-1.4M334.7 420.1v-1.0M335.2 420.1v-2.4M335.7 420.1v-1.6M336.2 420.1v-1.2M336.7 420.1v-1.0M337.2 420.1v-1.7M337.7 420.1v-1.3M338.2 420.1v-1.3M338.7 420.1v-1.0M339.2 420.1v-1.5M339.7 420.1v-1.0M340.2 420.1v-1.2M340.7 420.1v-1.0" stroke="#3a9a40" stroke-width="0.5" fill="none" opacity="0.9"/>
<path d="M156.5 420.1v-3.5M160.2 420.1v-3.0M167.3 420.1v-2.0M170.5 420.1v-4.8M189.1 420.1v-2.5M195.1 420.1v-4.8M224.5 420.1v-6.0M225.4 420.1v-5.0M229.6 420.1v-8.7M232.3 420.1v-5.0M234.2 420.1v-6.6M235.0 420.1v-4.5M236.5 420.1v-3.5M237.8 420.1v-3.5M253.3 420.1v-3.5M262.4 420.1v-13.7M263.4 420.1v-11.0M264.6 420.1v-6.0M265.4 420.1v-5.0M280.3 420.1v-7.0M281.0 420.1v-11.0M283.4 420.1v-3.0M330.0 420.1v-2.5" stroke="#3a9a40" stroke-width="0.6" fill="none" opacity="0.8"/>
<rect x="112.20" y="419.30" width="228.80" height="1.60" fill="#3a9a40" />
<text x="109.1" y="401.70000000000005" font-size="7.3" text-anchor="end" fill="#3a9a40" font-weight="normal" >250</text>
<text x="104.1" y="418.5" font-size="7.3" text-anchor="end" fill="#3a9a40" font-weight="normal" >0</text>
<line x1="111.6" y1="399.1" x2="113.2" y2="399.1" stroke="#3a9a40" stroke-width="0.8" />
<line x1="105.5" y1="420.3" x2="111.6" y2="420.3" stroke="#3a9a40" stroke-width="0.8" />
<path d="M112.2 445.6v-1.6M112.7 445.6v-1.7M113.2 445.6v-1.8M113.7 445.6v-2.3M114.2 445.6v-1.7M114.7 445.6v-2.2M115.2 445.6v-1.2M115.7 445.6v-1.5M116.2 445.6v-2.3M116.7 445.6v-1.6M117.2 445.6v-2.1M117.7 445.6v-1.3M118.2 445.6v-1.5M118.7 445.6v-1.3M119.2 445.6v-1.5M119.7 445.6v-1.5M120.2 445.6v-1.2M120.7 445.6v-1.3M121.2 445.6v-1.3M121.7 445.6v-2.2M122.2 445.6v-1.8M122.7 445.6v-1.3M123.2 445.6v-1.8M123.7 445.6v-1.3M124.2 445.6v-1.6M124.7 445.6v-1.3M125.2 445.6v-1.2M125.7 445.6v-2.0M126.2 445.6v-1.3M126.7 445.6v-1.3M127.2 445.6v-2.8M127.7 445.6v-2.0M128.2 445.6v-1.3M128.7 445.6v-2.5M129.2 445.6v-1.5M129.7 445.6v-1.7M130.2 445.6v-1.3M130.7 445.6v-2.3M131.2 445.6v-1.7M131.7 445.6v-2.5M132.2 445.6v-2.1M132.7 445.6v-1.3M133.2 445.6v-1.4M133.7 445.6v-1.3M134.2 445.6v-1.3M134.7 445.6v-1.2M135.2 445.6v-1.3M135.7 445.6v-1.6M136.2 445.6v-1.2M136.7 445.6v-1.7M137.2 445.6v-1.4M137.7 445.6v-1.4M138.2 445.6v-1.9M138.7 445.6v-1.5M139.2 445.6v-1.4M139.7 445.6v-1.5M140.2 445.6v-1.7M140.7 445.6v-1.2M141.2 445.6v-2.7M141.7 445.6v-1.2M142.2 445.6v-1.8M142.7 445.6v-1.9M143.2 445.6v-1.2M143.7 445.6v-1.8M144.2 445.6v-1.4M144.7 445.6v-1.5M145.2 445.6v-1.2M145.7 445.6v-1.2M146.2 445.6v-1.3M146.7 445.6v-2.4M147.2 445.6v-1.3M147.7 445.6v-1.8M148.2 445.6v-2.2M148.7 445.6v-2.3M149.2 445.6v-1.4M149.7 445.6v-1.4M150.2 445.6v-1.5M150.7 445.6v-1.8M151.2 445.6v-1.3M151.7 445.6v-1.7M152.2 445.6v-1.8M152.7 445.6v-2.0M153.2 445.6v-1.2M153.7 445.6v-2.3M154.2 445.6v-1.2M154.7 445.6v-1.4M155.2 445.6v-1.6M155.7 445.6v-2.2M156.2 445.6v-1.4M156.7 445.6v-2.2M157.2 445.6v-1.5M157.7 445.6v-1.4M158.2 445.6v-1.4M158.7 445.6v-1.3M159.2 445.6v-1.2M159.7 445.6v-1.3M160.2 445.6v-1.7M160.7 445.6v-3.4M161.2 445.6v-1.3M161.7 445.6v-1.2M162.2 445.6v-2.9M162.7 445.6v-1.5M163.2 445.6v-1.4M163.7 445.6v-1.3M164.2 445.6v-1.6M164.7 445.6v-1.9M165.2 445.6v-1.4M165.7 445.6v-1.4M166.2 445.6v-1.2M166.7 445.6v-2.2M167.2 445.6v-1.2M167.7 445.6v-1.5M168.2 445.6v-1.9M168.7 445.6v-1.3M169.2 445.6v-1.7M169.7 445.6v-2.4M170.2 445.6v-1.6M170.7 445.6v-1.8M171.2 445.6v-1.3M171.7 445.6v-1.4M172.2 445.6v-1.3M172.7 445.6v-1.9M173.2 445.6v-1.3M173.7 445.6v-1.4M174.2 445.6v-3.4M174.7 445.6v-2.0M175.2 445.6v-2.7M175.7 445.6v-1.4M176.2 445.6v-1.5M176.7 445.6v-1.7M177.2 445.6v-1.5M177.7 445.6v-1.3M178.2 445.6v-1.4M178.7 445.6v-1.3M179.2 445.6v-1.4M179.7 445.6v-2.9M180.2 445.6v-2.5M180.7 445.6v-1.6M181.2 445.6v-1.5M181.7 445.6v-1.4M182.2 445.6v-1.2M182.7 445.6v-1.3M183.2 445.6v-1.8M183.7 445.6v-2.0M184.2 445.6v-1.4M184.7 445.6v-1.8M185.2 445.6v-1.8M185.7 445.6v-1.7M186.2 445.6v-1.6M186.7 445.6v-1.8M187.2 445.6v-1.4M187.7 445.6v-1.7M188.2 445.6v-1.3M188.7 445.6v-1.5M189.2 445.6v-1.8M189.7 445.6v-1.7M190.2 445.6v-1.3M190.7 445.6v-2.3M191.2 445.6v-1.6M191.7 445.6v-1.5M192.2 445.6v-1.2M192.7 445.6v-1.5M193.2 445.6v-1.3M193.7 445.6v-1.6M194.2 445.6v-1.5M194.7 445.6v-1.9M195.2 445.6v-1.6M195.7 445.6v-1.8M196.2 445.6v-1.4M196.7 445.6v-1.6M197.2 445.6v-1.7M197.7 445.6v-1.9M198.2 445.6v-1.4M198.7 445.6v-1.9M199.2 445.6v-2.0M199.7 445.6v-1.7M200.2 445.6v-2.7M200.7 445.6v-2.4M201.2 445.6v-1.5M201.7 445.6v-1.5M202.2 445.6v-1.3M202.7 445.6v-1.9M203.2 445.6v-2.3M203.7 445.6v-1.5M204.2 445.6v-1.7M204.7 445.6v-1.7M205.2 445.6v-1.7M205.7 445.6v-1.3M206.2 445.6v-1.8M206.7 445.6v-1.5M207.2 445.6v-1.6M207.7 445.6v-1.4M208.2 445.6v-1.6M208.7 445.6v-1.8M209.2 445.6v-1.6M209.7 445.6v-1.7M210.2 445.6v-1.2M210.7 445.6v-1.3M211.2 445.6v-1.4M211.7 445.6v-1.6M212.2 445.6v-1.3M212.7 445.6v-1.7M213.2 445.6v-1.6M213.7 445.6v-1.2M214.2 445.6v-1.5M214.7 445.6v-1.3M215.2 445.6v-1.2M215.7 445.6v-1.3M216.2 445.6v-1.4M216.7 445.6v-1.3M217.2 445.6v-1.3M217.7 445.6v-1.2M218.2 445.6v-1.5M218.7 445.6v-1.4M219.2 445.6v-1.6M219.7 445.6v-1.6M220.2 445.6v-1.3M220.7 445.6v-2.1M221.2 445.6v-1.2M221.7 445.6v-1.4M222.2 445.6v-1.3M222.7 445.6v-1.4M223.2 445.6v-1.3M223.7 445.6v-1.9M224.2 445.6v-1.4M224.7 445.6v-1.2M225.2 445.6v-1.6M225.7 445.6v-1.2M226.2 445.6v-1.5M226.7 445.6v-1.4M227.2 445.6v-1.5M227.7 445.6v-2.4M228.2 445.6v-1.9M228.7 445.6v-1.4M229.2 445.6v-1.9M229.7 445.6v-1.6M230.2 445.6v-1.4M230.7 445.6v-1.3M231.2 445.6v-1.6M231.7 445.6v-1.5M232.2 445.6v-2.4M232.7 445.6v-2.6M233.2 445.6v-1.6M233.7 445.6v-1.4M234.2 445.6v-2.1M234.7 445.6v-1.2M235.2 445.6v-1.3M235.7 445.6v-1.5M236.2 445.6v-1.6M236.7 445.6v-1.3M237.2 445.6v-1.6M237.7 445.6v-2.1M238.2 445.6v-1.4M238.7 445.6v-1.4M239.2 445.6v-1.3M239.7 445.6v-1.3M240.2 445.6v-2.6M240.7 445.6v-1.4M241.2 445.6v-2.5M241.7 445.6v-2.2M242.2 445.6v-1.6M242.7 445.6v-1.3M243.2 445.6v-2.8M243.7 445.6v-1.5M244.2 445.6v-1.4M244.7 445.6v-1.4M245.2 445.6v-2.8M245.7 445.6v-1.5M246.2 445.6v-1.3M246.7 445.6v-1.5M247.2 445.6v-1.3M247.7 445.6v-1.6M248.2 445.6v-1.4M248.7 445.6v-1.3M249.2 445.6v-1.8M249.7 445.6v-1.9M250.2 445.6v-1.2M250.7 445.6v-1.5M251.2 445.6v-1.3M251.7 445.6v-2.3M252.2 445.6v-1.8M252.7 445.6v-1.3M253.2 445.6v-1.3M253.7 445.6v-1.3M254.2 445.6v-3.0M254.7 445.6v-1.3M255.2 445.6v-1.6M255.7 445.6v-1.5M256.2 445.6v-1.6M256.7 445.6v-1.6M257.2 445.6v-1.7M257.7 445.6v-1.3M258.2 445.6v-1.8M258.7 445.6v-1.3M259.2 445.6v-1.5M259.7 445.6v-1.4M260.2 445.6v-1.3M260.7 445.6v-1.5M261.2 445.6v-1.5M261.7 445.6v-1.4M262.2 445.6v-1.7M262.7 445.6v-1.6M263.2 445.6v-1.2M263.7 445.6v-1.3M264.2 445.6v-1.4M264.7 445.6v-2.2M265.2 445.6v-2.1M265.7 445.6v-1.5M266.2 445.6v-1.2M266.7 445.6v-1.8M267.2 445.6v-1.4M267.7 445.6v-1.5M268.2 445.6v-1.7M268.7 445.6v-1.6M269.2 445.6v-1.5M269.7 445.6v-2.2M270.2 445.6v-1.4M270.7 445.6v-1.4M271.2 445.6v-2.0M271.7 445.6v-1.3M272.2 445.6v-1.3M272.7 445.6v-1.9M273.2 445.6v-1.2M273.7 445.6v-1.9M274.2 445.6v-1.7M274.7 445.6v-1.4M275.2 445.6v-1.3M275.7 445.6v-1.8M276.2 445.6v-2.2M276.7 445.6v-1.3M277.2 445.6v-1.5M277.7 445.6v-1.5M278.2 445.6v-1.5M278.7 445.6v-1.4M279.2 445.6v-1.3M279.7 445.6v-1.6M280.2 445.6v-1.9M280.7 445.6v-1.2M281.2 445.6v-1.3M281.7 445.6v-1.9M282.2 445.6v-1.8M282.7 445.6v-1.6M283.2 445.6v-1.2M283.7 445.6v-1.7M284.2 445.6v-2.7M284.7 445.6v-3.4M285.2 445.6v-1.7M285.7 445.6v-1.2M286.2 445.6v-1.9M286.7 445.6v-1.3M287.2 445.6v-1.6M287.7 445.6v-2.4M288.2 445.6v-1.7M288.7 445.6v-1.3M289.2 445.6v-1.3M289.7 445.6v-2.2M290.2 445.6v-1.3M290.7 445.6v-1.6M291.2 445.6v-1.4M291.7 445.6v-1.3M292.2 445.6v-1.6M292.7 445.6v-1.2M293.2 445.6v-1.3M293.7 445.6v-1.4M294.2 445.6v-1.2M294.7 445.6v-1.2M295.2 445.6v-1.5M295.7 445.6v-1.7M296.2 445.6v-2.0M296.7 445.6v-1.3M297.2 445.6v-1.4M297.7 445.6v-1.4M298.2 445.6v-1.6M298.7 445.6v-1.5M299.2 445.6v-2.3M299.7 445.6v-1.4M300.2 445.6v-1.2M300.7 445.6v-1.7M301.2 445.6v-1.3M301.7 445.6v-1.6M302.2 445.6v-1.5M302.7 445.6v-2.2M303.2 445.6v-1.5M303.7 445.6v-1.6M304.2 445.6v-1.3M304.7 445.6v-1.5M305.2 445.6v-1.3M305.7 445.6v-1.8M306.2 445.6v-1.5M306.7 445.6v-1.3M307.2 445.6v-1.3M307.7 445.6v-1.4M308.2 445.6v-1.7M308.7 445.6v-1.3M309.2 445.6v-1.7M309.7 445.6v-1.6M310.2 445.6v-1.2M310.7 445.6v-1.6M311.2 445.6v-1.2M311.7 445.6v-1.3M312.2 445.6v-1.6M312.7 445.6v-1.3M313.2 445.6v-2.0M313.7 445.6v-1.5M314.2 445.6v-1.4M314.7 445.6v-1.8M315.2 445.6v-1.2M315.7 445.6v-1.7M316.2 445.6v-1.2M316.7 445.6v-1.3M317.2 445.6v-2.4M317.7 445.6v-1.7M318.2 445.6v-1.3M318.7 445.6v-1.3M319.2 445.6v-2.6M319.7 445.6v-1.6M320.2 445.6v-1.9M320.7 445.6v-1.3M321.2 445.6v-1.6M321.7 445.6v-1.4M322.2 445.6v-1.3M322.7 445.6v-1.4M323.2 445.6v-1.6M323.7 445.6v-1.4M324.2 445.6v-1.4M324.7 445.6v-1.3M325.2 445.6v-1.9M325.7 445.6v-1.6M326.2 445.6v-1.8M326.7 445.6v-1.4M327.2 445.6v-2.0M327.7 445.6v-1.5M328.2 445.6v-1.6M328.7 445.6v-1.5M329.2 445.6v-1.7M329.7 445.6v-1.4M330.2 445.6v-1.2M330.7 445.6v-1.2M331.2 445.6v-1.3M331.7 445.6v-1.2M332.2 445.6v-2.1M332.7 445.6v-1.5M333.2 445.6v-1.8M333.7 445.6v-1.2M334.2 445.6v-1.5M334.7 445.6v-2.1M335.2 445.6v-1.6M335.7 445.6v-1.4M336.2 445.6v-1.5M336.7 445.6v-1.3M337.2 445.6v-1.3M337.7 445.6v-1.3M338.2 445.6v-1.4M338.7 445.6v-1.4M339.2 445.6v-2.0M339.7 445.6v-1.3M340.2 445.6v-1.3M340.7 445.6v-1.3" stroke="#9ccc3c" stroke-width="0.5" fill="none" opacity="0.9"/>
<path d="" stroke="#9ccc3c" stroke-width="0.6" fill="none" opacity="0.8"/>
<rect x="112.20" y="444.60" width="228.80" height="2.00" fill="#9ccc3c" />
<text x="109.1" y="427.20000000000005" font-size="7.3" text-anchor="end" fill="#9ccc3c" font-weight="normal" >250</text>
<text x="104.1" y="444.0" font-size="7.3" text-anchor="end" fill="#9ccc3c" font-weight="normal" >0</text>
<line x1="111.6" y1="424.6" x2="113.2" y2="424.6" stroke="#9ccc3c" stroke-width="0.8" />
<line x1="105.5" y1="445.8" x2="111.6" y2="445.8" stroke="#9ccc3c" stroke-width="0.8" />
<path d="M112.2 471.3v-1.5M112.7 471.3v-1.5M113.2 471.3v-1.2M113.7 471.3v-1.1M114.2 471.3v-1.0M114.7 471.3v-1.3M115.2 471.3v-1.2M115.7 471.3v-1.4M116.2 471.3v-1.1M116.7 471.3v-1.5M117.2 471.3v-1.1M117.7 471.3v-1.5M118.2 471.3v-1.4M118.7 471.3v-1.1M119.2 471.3v-1.2M119.7 471.3v-1.3M120.2 471.3v-1.0M120.7 471.3v-1.2M121.2 471.3v-1.5M121.7 471.3v-1.1M122.2 471.3v-1.5M122.7 471.3v-1.4M123.2 471.3v-1.6M123.7 471.3v-1.1M124.2 471.3v-1.0M124.7 471.3v-1.5M125.2 471.3v-1.5M125.7 471.3v-1.2M126.2 471.3v-1.0M126.7 471.3v-1.0M127.2 471.3v-1.3M127.7 471.3v-1.1M128.2 471.3v-2.0M128.7 471.3v-1.3M129.2 471.3v-1.0M129.7 471.3v-1.3M130.2 471.3v-1.1M130.7 471.3v-1.9M131.2 471.3v-1.8M131.7 471.3v-1.2M132.2 471.3v-1.3M132.7 471.3v-1.4M133.2 471.3v-1.5M133.7 471.3v-2.2M134.2 471.3v-1.0M134.7 471.3v-1.1M135.2 471.3v-1.3M135.7 471.3v-1.1M136.2 471.3v-1.3M136.7 471.3v-1.0M137.2 471.3v-1.7M137.7 471.3v-1.2M138.2 471.3v-1.0M138.7 471.3v-1.3M139.2 471.3v-1.1M139.7 471.3v-1.0M140.2 471.3v-1.2M140.7 471.3v-1.0M141.2 471.3v-1.1M141.7 471.3v-1.6M142.2 471.3v-1.4M142.7 471.3v-1.0M143.2 471.3v-1.5M143.7 471.3v-1.0M144.2 471.3v-1.1M144.7 471.3v-1.7M145.2 471.3v-1.3M145.7 471.3v-1.1M146.2 471.3v-1.1M146.7 471.3v-1.1M147.2 471.3v-1.0M147.7 471.3v-2.8M148.2 471.3v-1.0M148.7 471.3v-1.2M149.2 471.3v-1.4M149.7 471.3v-1.1M150.2 471.3v-2.3M150.7 471.3v-1.1M151.2 471.3v-2.2M151.7 471.3v-1.7M152.2 471.3v-1.3M152.7 471.3v-1.7M153.2 471.3v-1.2M153.7 471.3v-1.6M154.2 471.3v-1.5M154.7 471.3v-1.2M155.2 471.3v-1.2M155.7 471.3v-1.4M156.2 471.3v-1.1M156.7 471.3v-1.0M157.2 471.3v-1.4M157.7 471.3v-1.1M158.2 471.3v-1.2M158.7 471.3v-1.5M159.2 471.3v-1.0M159.7 471.3v-1.0M160.2 471.3v-1.0M160.7 471.3v-1.3M161.2 471.3v-1.1M161.7 471.3v-1.1M162.2 471.3v-1.2M162.7 471.3v-1.8M163.2 471.3v-1.1M163.7 471.3v-1.1M164.2 471.3v-1.7M164.7 471.3v-1.3M165.2 471.3v-1.1M165.7 471.3v-1.2M166.2 471.3v-1.2M166.7 471.3v-1.0M167.2 471.3v-1.1M167.7 471.3v-1.1M168.2 471.3v-1.5M168.7 471.3v-1.1M169.2 471.3v-1.3M169.7 471.3v-2.1M170.2 471.3v-1.8M170.7 471.3v-1.1M171.2 471.3v-1.3M171.7 471.3v-1.1M172.2 471.3v-1.1M172.7 471.3v-1.2M173.2 471.3v-1.5M173.7 471.3v-1.9M174.2 471.3v-1.1M174.7 471.3v-1.0M175.2 471.3v-1.2M175.7 471.3v-1.0M176.2 471.3v-1.0M176.7 471.3v-1.5M177.2 471.3v-1.0M177.7 471.3v-1.4M178.2 471.3v-1.1M178.7 471.3v-1.9M179.2 471.3v-1.6M179.7 471.3v-1.0M180.2 471.3v-1.0M180.7 471.3v-1.9M181.2 471.3v-1.3M181.7 471.3v-1.2M182.2 471.3v-1.5M182.7 471.3v-1.5M183.2 471.3v-1.2M183.7 471.3v-1.2M184.2 471.3v-1.0M184.7 471.3v-1.1M185.2 471.3v-1.0M185.7 471.3v-1.3M186.2 471.3v-1.3M186.7 471.3v-1.0M187.2 471.3v-1.3M187.7 471.3v-1.0M188.2 471.3v-1.0M188.7 471.3v-1.3M189.2 471.3v-1.2M189.7 471.3v-1.7M190.2 471.3v-1.3M190.7 471.3v-1.4M191.2 471.3v-1.0M191.7 471.3v-1.6M192.2 471.3v-1.0M192.7 471.3v-1.3M193.2 471.3v-1.8M193.7 471.3v-1.7M194.2 471.3v-1.7M194.7 471.3v-1.2M195.2 471.3v-1.4M195.7 471.3v-1.5M196.2 471.3v-1.0M196.7 471.3v-1.9M197.2 471.3v-1.8M197.7 471.3v-1.2M198.2 471.3v-1.5M198.7 471.3v-1.2M199.2 471.3v-1.1M199.7 471.3v-1.4M200.2 471.3v-1.0M200.7 471.3v-1.5M201.2 471.3v-2.2M201.7 471.3v-1.1M202.2 471.3v-1.9M202.7 471.3v-1.0M203.2 471.3v-1.6M203.7 471.3v-1.1M204.2 471.3v-2.1M204.7 471.3v-1.2M205.2 471.3v-1.8M205.7 471.3v-1.0M206.2 471.3v-1.0M206.7 471.3v-1.5M207.2 471.3v-1.3M207.7 471.3v-1.2M208.2 471.3v-1.0M208.7 471.3v-1.0M209.2 471.3v-1.1M209.7 471.3v-1.0M210.2 471.3v-2.6M210.7 471.3v-1.4M211.2 471.3v-1.9M211.7 471.3v-1.4M212.2 471.3v-1.1M212.7 471.3v-1.0M213.2 471.3v-1.4M213.7 471.3v-1.0M214.2 471.3v-1.2M214.7 471.3v-1.2M215.2 471.3v-1.2M215.7 471.3v-1.0M216.2 471.3v-1.0M216.7 471.3v-1.2M217.2 471.3v-1.0M217.7 471.3v-1.2M218.2 471.3v-1.0M218.7 471.3v-1.1M219.2 471.3v-1.0M219.7 471.3v-1.2M220.2 471.3v-1.1M220.7 471.3v-1.1M221.2 471.3v-1.1M221.7 471.3v-1.2M222.2 471.3v-1.8M222.7 471.3v-1.2M223.2 471.3v-1.0M223.7 471.3v-1.1M224.2 471.3v-1.1M224.7 471.3v-1.3M225.2 471.3v-1.5M225.7 471.3v-1.2M226.2 471.3v-1.0M226.7 471.3v-1.1M227.2 471.3v-1.1M227.7 471.3v-1.2M228.2 471.3v-1.1M228.7 471.3v-2.8M229.2 471.3v-1.2M229.7 471.3v-1.3M230.2 471.3v-1.4M230.7 471.3v-1.3M231.2 471.3v-1.5M231.7 471.3v-1.1M232.2 471.3v-1.3M232.7 471.3v-2.1M233.2 471.3v-1.0M233.7 471.3v-1.3M234.2 471.3v-1.1M234.7 471.3v-1.0M235.2 471.3v-1.0M235.7 471.3v-1.4M236.2 471.3v-1.0M236.7 471.3v-1.4M237.2 471.3v-1.0M237.7 471.3v-1.1M238.2 471.3v-1.0M238.7 471.3v-1.2M239.2 471.3v-1.5M239.7 471.3v-1.1M240.2 471.3v-1.2M240.7 471.3v-1.8M241.2 471.3v-1.1M241.7 471.3v-1.2M242.2 471.3v-1.4M242.7 471.3v-1.6M243.2 471.3v-1.0M243.7 471.3v-1.3M244.2 471.3v-1.0M244.7 471.3v-1.0M245.2 471.3v-2.3M245.7 471.3v-1.0M246.2 471.3v-1.8M246.7 471.3v-1.4M247.2 471.3v-1.3M247.7 471.3v-1.4M248.2 471.3v-1.3M248.7 471.3v-1.1M249.2 471.3v-1.2M249.7 471.3v-1.0M250.2 471.3v-1.6M250.7 471.3v-1.5M251.2 471.3v-1.5M251.7 471.3v-1.1M252.2 471.3v-1.3M252.7 471.3v-1.1M253.2 471.3v-1.5M253.7 471.3v-1.4M254.2 471.3v-2.7M254.7 471.3v-1.4M255.2 471.3v-1.3M255.7 471.3v-1.5M256.2 471.3v-1.0M256.7 471.3v-1.3M257.2 471.3v-1.0M257.7 471.3v-1.1M258.2 471.3v-1.0M258.7 471.3v-1.9M259.2 471.3v-1.0M259.7 471.3v-1.8M260.2 471.3v-1.9M260.7 471.3v-1.2M261.2 471.3v-1.6M261.7 471.3v-1.0M262.2 471.3v-1.0M262.7 471.3v-1.0M263.2 471.3v-1.0M263.7 471.3v-1.0M264.2 471.3v-1.5M264.7 471.3v-1.0M265.2 471.3v-1.3M265.7 471.3v-1.1M266.2 471.3v-1.0M266.7 471.3v-1.2M267.2 471.3v-1.0M267.7 471.3v-2.2M268.2 471.3v-1.1M268.7 471.3v-1.3M269.2 471.3v-1.2M269.7 471.3v-1.3M270.2 471.3v-1.2M270.7 471.3v-1.1M271.2 471.3v-1.0M271.7 471.3v-1.7M272.2 471.3v-1.0M272.7 471.3v-1.2M273.2 471.3v-1.5M273.7 471.3v-1.3M274.2 471.3v-1.9M274.7 471.3v-1.5M275.2 471.3v-1.2M275.7 471.3v-1.0M276.2 471.3v-1.3M276.7 471.3v-1.2M277.2 471.3v-1.6M277.7 471.3v-1.2M278.2 471.3v-1.4M278.7 471.3v-1.5M279.2 471.3v-1.2M279.7 471.3v-1.6M280.2 471.3v-1.7M280.7 471.3v-1.0M281.2 471.3v-1.8M281.7 471.3v-1.6M282.2 471.3v-1.6M282.7 471.3v-1.1M283.2 471.3v-1.1M283.7 471.3v-1.0M284.2 471.3v-1.1M284.7 471.3v-1.6M285.2 471.3v-1.1M285.7 471.3v-1.0M286.2 471.3v-1.1M286.7 471.3v-1.0M287.2 471.3v-1.3M287.7 471.3v-1.5M288.2 471.3v-1.8M288.7 471.3v-1.0M289.2 471.3v-1.1M289.7 471.3v-1.0M290.2 471.3v-1.8M290.7 471.3v-1.6M291.2 471.3v-1.2M291.7 471.3v-2.0M292.2 471.3v-1.2M292.7 471.3v-1.5M293.2 471.3v-1.2M293.7 471.3v-1.1M294.2 471.3v-2.7M294.7 471.3v-1.6M295.2 471.3v-1.3M295.7 471.3v-1.6M296.2 471.3v-1.3M296.7 471.3v-1.5M297.2 471.3v-1.0M297.7 471.3v-1.0M298.2 471.3v-1.0M298.7 471.3v-1.3M299.2 471.3v-1.4M299.7 471.3v-1.0M300.2 471.3v-1.2M300.7 471.3v-1.0M301.2 471.3v-1.4M301.7 471.3v-1.5M302.2 471.3v-1.0M302.7 471.3v-2.2M303.2 471.3v-1.3M303.7 471.3v-1.0M304.2 471.3v-1.1M304.7 471.3v-1.0M305.2 471.3v-1.4M305.7 471.3v-1.8M306.2 471.3v-1.0M306.7 471.3v-1.0M307.2 471.3v-1.3M307.7 471.3v-1.6M308.2 471.3v-1.4M308.7 471.3v-1.2M309.2 471.3v-1.0M309.7 471.3v-1.3M310.2 471.3v-1.2M310.7 471.3v-1.5M311.2 471.3v-1.3M311.7 471.3v-1.4M312.2 471.3v-2.1M312.7 471.3v-1.3M313.2 471.3v-1.8M313.7 471.3v-1.1M314.2 471.3v-1.0M314.7 471.3v-1.7M315.2 471.3v-1.0M315.7 471.3v-2.6M316.2 471.3v-1.2M316.7 471.3v-1.0M317.2 471.3v-1.1M317.7 471.3v-1.4M318.2 471.3v-1.1M318.7 471.3v-1.3M319.2 471.3v-1.0M319.7 471.3v-1.6M320.2 471.3v-1.1M320.7 471.3v-1.6M321.2 471.3v-1.0M321.7 471.3v-1.3M322.2 471.3v-1.2M322.7 471.3v-1.1M323.2 471.3v-1.0M323.7 471.3v-1.2M324.2 471.3v-1.6M324.7 471.3v-1.0M325.2 471.3v-1.2M325.7 471.3v-1.0M326.2 471.3v-2.6M326.7 471.3v-2.1M327.2 471.3v-1.3M327.7 471.3v-1.2M328.2 471.3v-1.0M328.7 471.3v-1.0M329.2 471.3v-1.4M329.7 471.3v-1.5M330.2 471.3v-2.4M330.7 471.3v-1.6M331.2 471.3v-1.2M331.7 471.3v-1.1M332.2 471.3v-1.2M332.7 471.3v-1.1M333.2 471.3v-1.2M333.7 471.3v-1.7M334.2 471.3v-1.2M334.7 471.3v-2.3M335.2 471.3v-1.4M335.7 471.3v-1.0M336.2 471.3v-1.4M336.7 471.3v-1.3M337.2 471.3v-1.3M337.7 471.3v-1.0M338.2 471.3v-1.7M338.7 471.3v-1.2M339.2 471.3v-1.2M339.7 471.3v-1.0M340.2 471.3v-1.0M340.7 471.3v-1.0" stroke="#46b39e" stroke-width="0.5" fill="none" opacity="0.9"/>
<path d="M262.7 471.3v-2.0M281.0 471.3v-3.0" stroke="#46b39e" stroke-width="0.6" fill="none" opacity="0.8"/>
<rect x="112.20" y="470.50" width="228.80" height="1.60" fill="#46b39e" />
<text x="109.1" y="452.90000000000003" font-size="7.3" text-anchor="end" fill="#46b39e" font-weight="normal" >250</text>
<text x="104.1" y="469.7" font-size="7.3" text-anchor="end" fill="#46b39e" font-weight="normal" >0</text>
<line x1="111.6" y1="450.3" x2="113.2" y2="450.3" stroke="#46b39e" stroke-width="0.8" />
<line x1="105.5" y1="471.5" x2="111.6" y2="471.5" stroke="#46b39e" stroke-width="0.8" />
<text x="143" y="479.2" font-size="7.2" text-anchor="start" fill="#111" font-weight="normal" >MSI2</text>
<line x1="160.7" y1="476.5" x2="308.8" y2="476.5" stroke="#2b2b9a" stroke-width="0.6" />
<path d="M162.3 475.5L163.2 476.5L162.3 477.5M165.0 475.5L165.9 476.5L165.0 477.5M167.7 475.5L168.6 476.5L167.7 477.5M170.4 475.5L171.3 476.5L170.4 477.5M173.1 475.5L174.0 476.5L173.1 477.5M175.8 475.5L176.7 476.5L175.8 477.5M178.5 475.5L179.4 476.5L178.5 477.5M181.2 475.5L182.1 476.5L181.2 477.5M183.9 475.5L184.8 476.5L183.9 477.5M186.6 475.5L187.5 476.5L186.6 477.5M189.3 475.5L190.2 476.5L189.3 477.5M192.0 475.5L192.9 476.5L192.0 477.5M194.7 475.5L195.6 476.5L194.7 477.5M197.4 475.5L198.3 476.5L197.4 477.5M200.1 475.5L201.0 476.5L200.1 477.5M202.8 475.5L203.7 476.5L202.8 477.5M205.5 475.5L206.4 476.5L205.5 477.5M208.2 475.5L209.1 476.5L208.2 477.5M210.9 475.5L211.8 476.5L210.9 477.5M213.6 475.5L214.5 476.5L213.6 477.5M216.3 475.5L217.2 476.5L216.3 477.5M219.0 475.5L219.9 476.5L219.0 477.5M221.7 475.5L222.6 476.5L221.7 477.5M224.4 475.5L225.3 476.5L224.4 477.5M227.1 475.5L228.0 476.5L227.1 477.5M229.8 475.5L230.7 476.5L229.8 477.5M232.5 475.5L233.4 476.5L232.5 477.5M235.2 475.5L236.1 476.5L235.2 477.5M237.9 475.5L238.8 476.5L237.9 477.5M240.6 475.5L241.5 476.5L240.6 477.5M243.3 475.5L244.2 476.5L243.3 477.5M246.0 475.5L246.9 476.5L246.0 477.5M248.7 475.5L249.6 476.5L248.7 477.5M251.4 475.5L252.3 476.5L251.4 477.5M254.1 475.5L255.0 476.5L254.1 477.5M256.8 475.5L257.7 476.5L256.8 477.5M259.5 475.5L260.4 476.5L259.5 477.5M262.2 475.5L263.1 476.5L262.2 477.5M264.9 475.5L265.8 476.5L264.9 477.5M267.6 475.5L268.5 476.5L267.6 477.5M270.3 475.5L271.2 476.5L270.3 477.5M273.0 475.5L273.9 476.5L273.0 477.5M275.7 475.5L276.6 476.5L275.7 477.5M278.4 475.5L279.3 476.5L278.4 477.5M281.1 475.5L282.0 476.5L281.1 477.5M283.8 475.5L284.7 476.5L283.8 477.5M286.5 475.5L287.4 476.5L286.5 477.5M289.2 475.5L290.1 476.5L289.2 477.5M291.9 475.5L292.8 476.5L291.9 477.5M294.6 475.5L295.5 476.5L294.6 477.5M297.3 475.5L298.2 476.5L297.3 477.5M300.0 475.5L300.9 476.5L300.0 477.5M302.7 475.5L303.6 476.5L302.7 477.5M305.4 475.5L306.3 476.5L305.4 477.5" stroke="#2b2b9a" stroke-width="0.45" fill="none"/>
<line x1="255.4" y1="473.5" x2="255.4" y2="479.5" stroke="#2b2b9a" stroke-width="0.7" />
<line x1="278.4" y1="473.5" x2="278.4" y2="479.5" stroke="#2b2b9a" stroke-width="0.7" />
<line x1="285.2" y1="473.5" x2="285.2" y2="479.5" stroke="#2b2b9a" stroke-width="0.7" />
<line x1="297.6" y1="473.5" x2="297.6" y2="479.5" stroke="#2b2b9a" stroke-width="0.7" />
<line x1="305.7" y1="473.5" x2="305.7" y2="479.5" stroke="#2b2b9a" stroke-width="0.7" />
<line x1="211.2" y1="473.5" x2="211.2" y2="479.5" stroke="#9a9ad0" stroke-width="0.9" />
<line x1="288.3" y1="473.5" x2="288.3" y2="479.5" stroke="#9a9ad0" stroke-width="0.9" />
<rect x="160.90" y="473.50" width="1.70" height="6.00" fill="#2b2b9a" />
<rect x="306.30" y="473.50" width="2.50" height="6.00" fill="#2b2b9a" />
<line x1="454.4" y1="320" x2="454.4" y2="473.8" stroke="#555" stroke-width="0.9" />
<text x="437.4" y="313.6" font-size="6.8" text-anchor="start" fill="#111" font-weight="normal" >Scale</text>
<text x="438" y="319.9" font-size="6.9" text-anchor="start" fill="#111" font-weight="normal" >chr6:</text>
<text x="486.6" y="321.8" font-size="7" text-anchor="start" fill="#3b78c5" font-weight="normal" >|63,800,000</text>
<text x="539.2" y="321.8" font-size="7" text-anchor="start" fill="#3b78c5" font-weight="normal" >|64,000,000</text>
<text x="591.8" y="321.8" font-size="7" text-anchor="start" fill="#3b78c5" font-weight="normal" >|64,200,000</text>
<line x1="377.6" y1="322.7" x2="377.6" y2="384.5" stroke="#999" stroke-width="1.0" />
<line x1="377.6" y1="401" x2="377.6" y2="463.4" stroke="#999" stroke-width="1.0" />
<text transform="translate(375.9,353.2) rotate(-90)" font-size="8.4" text-anchor="middle" fill="#1a1a1a">SOX11</text>
<text transform="translate(375.9,432.4) rotate(-90)" font-size="8.5" text-anchor="middle" fill="#1a1a1a">SMARCA4</text>
<text x="383" y="332.7" font-size="8.3" text-anchor="start" fill="#3d7cc9" font-weight="normal" >Z138</text>
<text x="383" y="359.5" font-size="8.3" text-anchor="start" fill="#55b5e5" font-weight="normal" >Z138SOX11KO</text>
<text x="383" y="383" font-size="8.3" text-anchor="start" fill="#86c9e0" font-weight="normal" >Z138 AU-15330</text>
<text x="383" y="409.4" font-size="8.3" text-anchor="start" fill="#3a9a40" font-weight="normal" >Z138</text>
<text x="383" y="435" font-size="8.3" text-anchor="start" fill="#9ccc3c" font-weight="normal" >Z138 AU-15330</text>
<text x="383" y="462" font-size="8.3" text-anchor="start" fill="#46b39e" font-weight="normal" >Z138SOX11KO</text>
<rect x="516.4" y="325.8" width="32.2" height="147.4" fill="none" stroke="#eaaed2" stroke-width="0.8"/>
<path d="M454.8 345.3v-2.7M455.3 345.3v-1.9M455.8 345.3v-2.1M456.3 345.3v-2.7M456.8 345.3v-1.3M457.3 345.3v-1.8M457.8 345.3v-2.7M458.3 345.3v-2.5M458.8 345.3v-1.7M459.3 345.3v-1.3M459.8 345.3v-1.5M460.3 345.3v-4.5M460.8 345.3v-1.2M461.3 345.3v-1.4M461.8 345.3v-3.1M462.3 345.3v-1.5M462.8 345.3v-1.3M463.3 345.3v-1.4M463.8 345.3v-2.7M464.3 345.3v-1.4M464.8 345.3v-1.5M465.3 345.3v-1.8M465.8 345.3v-2.2M466.3 345.3v-1.6M466.8 345.3v-1.2M467.3 345.3v-1.7M467.8 345.3v-1.2M468.3 345.3v-1.2M468.8 345.3v-1.3M469.3 345.3v-1.9M469.8 345.3v-1.4M470.3 345.3v-1.9M470.8 345.3v-1.3M471.3 345.3v-1.2M471.8 345.3v-1.2M472.3 345.3v-1.9M472.8 345.3v-2.4M473.3 345.3v-1.3M473.8 345.3v-1.3M474.3 345.3v-1.2M474.8 345.3v-1.8M475.3 345.3v-1.4M475.8 345.3v-1.2M476.3 345.3v-1.8M476.8 345.3v-1.7M477.3 345.3v-1.5M477.8 345.3v-1.3M478.3 345.3v-1.8M478.8 345.3v-1.7M479.3 345.3v-1.5M479.8 345.3v-1.3M480.3 345.3v-2.9M480.8 345.3v-2.4M481.3 345.3v-1.9M481.8 345.3v-4.7M482.3 345.3v-1.7M482.8 345.3v-1.4M483.3 345.3v-1.2M483.8 345.3v-1.8M484.3 345.3v-1.6M484.8 345.3v-1.5M485.3 345.3v-4.3M485.8 345.3v-2.3M486.3 345.3v-1.2M486.8 345.3v-2.6M487.3 345.3v-1.2M487.8 345.3v-1.8M488.3 345.3v-1.4M488.8 345.3v-2.0M489.3 345.3v-3.1M489.8 345.3v-1.6M490.3 345.3v-2.1M490.8 345.3v-1.2M491.3 345.3v-1.9M491.8 345.3v-1.2M492.3 345.3v-1.5M492.8 345.3v-1.4M493.3 345.3v-1.2M493.8 345.3v-2.0M494.3 345.3v-1.2M494.8 345.3v-1.3M495.3 345.3v-1.2M495.8 345.3v-1.9M496.3 345.3v-1.4M496.8 345.3v-1.2M497.3 345.3v-1.2M497.8 345.3v-1.3M498.3 345.3v-1.6M498.8 345.3v-1.2M499.3 345.3v-1.2M499.8 345.3v-1.9M500.3 345.3v-1.6M500.8 345.3v-1.2M501.3 345.3v-1.4M501.8 345.3v-1.2M502.3 345.3v-1.4M502.8 345.3v-1.5M503.3 345.3v-1.3M503.8 345.3v-1.3M504.3 345.3v-1.3M504.8 345.3v-1.4M505.3 345.3v-1.7M505.8 345.3v-2.6M506.3 345.3v-1.8M506.8 345.3v-1.5M507.3 345.3v-1.2M507.8 345.3v-1.3M508.3 345.3v-1.8M508.8 345.3v-1.5M509.3 345.3v-2.4M509.8 345.3v-2.7M510.3 345.3v-1.4M510.8 345.3v-1.4M511.3 345.3v-1.4M511.8 345.3v-1.9M512.3 345.3v-1.2M512.8 345.3v-1.4M513.3 345.3v-2.5M513.8 345.3v-1.5M514.3 345.3v-3.4M514.8 345.3v-1.5M515.3 345.3v-2.3M515.8 345.3v-1.6M516.3 345.3v-1.2M516.8 345.3v-1.7M517.3 345.3v-1.3M517.8 345.3v-2.8M518.3 345.3v-1.9M518.8 345.3v-1.6M519.3 345.3v-2.8M519.8 345.3v-1.7M520.3 345.3v-3.4M520.8 345.3v-2.0M521.3 345.3v-1.3M521.8 345.3v-1.4M522.3 345.3v-2.4M522.8 345.3v-1.2M523.3 345.3v-3.7M523.8 345.3v-1.2M524.3 345.3v-2.1M524.8 345.3v-1.8M525.3 345.3v-1.5M525.8 345.3v-1.7M526.3 345.3v-1.7M526.8 345.3v-1.4M527.3 345.3v-1.4M527.8 345.3v-1.2M528.3 345.3v-1.8M528.8 345.3v-2.5M529.3 345.3v-1.5M529.8 345.3v-2.4M530.3 345.3v-1.5M530.8 345.3v-1.3M531.3 345.3v-2.2M531.8 345.3v-2.8M532.3 345.3v-1.2M532.8 345.3v-2.5M533.3 345.3v-1.4M533.8 345.3v-2.1M534.3 345.3v-1.4M534.8 345.3v-4.2M535.3 345.3v-1.4M535.8 345.3v-1.3M536.3 345.3v-1.2M536.8 345.3v-1.2M537.3 345.3v-1.2M537.8 345.3v-2.3M538.3 345.3v-1.2M538.8 345.3v-1.2M539.3 345.3v-1.3M539.8 345.3v-1.2M540.3 345.3v-2.1M540.8 345.3v-1.2M541.3 345.3v-1.9M541.8 345.3v-1.4M542.3 345.3v-1.3M542.8 345.3v-1.3M543.3 345.3v-1.6M543.8 345.3v-1.3M544.3 345.3v-1.5M544.8 345.3v-1.5M545.3 345.3v-1.6M545.8 345.3v-1.9M546.3 345.3v-1.4M546.8 345.3v-1.8M547.3 345.3v-2.0M547.8 345.3v-1.4M548.3 345.3v-2.1M548.8 345.3v-1.2M549.3 345.3v-1.6M549.8 345.3v-1.4M550.3 345.3v-1.2M550.8 345.3v-1.8M551.3 345.3v-2.4M551.8 345.3v-1.6M552.3 345.3v-1.4M552.8 345.3v-2.7M553.3 345.3v-4.2M553.8 345.3v-1.8M554.3 345.3v-1.7M554.8 345.3v-1.8M555.3 345.3v-1.9M555.8 345.3v-1.9M556.3 345.3v-1.7M556.8 345.3v-2.1M557.3 345.3v-2.0M557.8 345.3v-1.8M558.3 345.3v-1.6M558.8 345.3v-1.5M559.3 345.3v-1.3M559.8 345.3v-1.6M560.3 345.3v-1.4M560.8 345.3v-1.6M561.3 345.3v-1.3M561.8 345.3v-2.7M562.3 345.3v-1.2M562.8 345.3v-2.5M563.3 345.3v-1.7M563.8 345.3v-2.7M564.3 345.3v-2.5M564.8 345.3v-1.3M565.3 345.3v-1.4M565.8 345.3v-4.8M566.3 345.3v-1.9M566.8 345.3v-1.2M567.3 345.3v-1.3M567.8 345.3v-1.2M568.3 345.3v-1.4M568.8 345.3v-1.2M569.3 345.3v-1.2M569.8 345.3v-1.2M570.3 345.3v-1.6M570.8 345.3v-2.0M571.3 345.3v-1.6M571.8 345.3v-1.9M572.3 345.3v-1.8M572.8 345.3v-1.2M573.3 345.3v-1.9M573.8 345.3v-1.6M574.3 345.3v-1.5M574.8 345.3v-3.3M575.3 345.3v-1.5M575.8 345.3v-1.9M576.3 345.3v-2.1M576.8 345.3v-1.6M577.3 345.3v-1.3M577.8 345.3v-1.3M578.3 345.3v-1.4M578.8 345.3v-1.3M579.3 345.3v-1.5M579.8 345.3v-1.2M580.3 345.3v-2.1M580.8 345.3v-2.1M581.3 345.3v-1.8M581.8 345.3v-1.2M582.3 345.3v-1.3M582.8 345.3v-2.6M583.3 345.3v-2.5M583.8 345.3v-2.0M584.3 345.3v-2.5M584.8 345.3v-1.3M585.3 345.3v-1.4M585.8 345.3v-1.5M586.3 345.3v-1.6M586.8 345.3v-1.4M587.3 345.3v-1.3M587.8 345.3v-2.2M588.3 345.3v-1.3M588.8 345.3v-1.7M589.3 345.3v-2.2M589.8 345.3v-1.3M590.3 345.3v-1.4M590.8 345.3v-1.5M591.3 345.3v-1.4M591.8 345.3v-2.8M592.3 345.3v-2.5M592.8 345.3v-1.2M593.3 345.3v-1.2M593.8 345.3v-1.7M594.3 345.3v-1.6M594.8 345.3v-1.2M595.3 345.3v-2.5M595.8 345.3v-2.5M596.3 345.3v-1.7M596.8 345.3v-1.2M597.3 345.3v-1.3M597.8 345.3v-2.3M598.3 345.3v-1.9M598.8 345.3v-1.5M599.3 345.3v-2.9M599.8 345.3v-1.2M600.3 345.3v-1.9M600.8 345.3v-2.3M601.3 345.3v-2.3M601.8 345.3v-1.2M602.3 345.3v-1.9M602.8 345.3v-1.7M603.3 345.3v-1.8M603.8 345.3v-1.3M604.3 345.3v-3.3M604.8 345.3v-3.4M605.3 345.3v-1.2M605.8 345.3v-1.7M606.3 345.3v-1.6M606.8 345.3v-1.5M607.3 345.3v-1.4M607.8 345.3v-1.3M608.3 345.3v-2.0M608.8 345.3v-1.6M609.3 345.3v-1.5M609.8 345.3v-1.6M610.3 345.3v-1.4M610.8 345.3v-2.6M611.3 345.3v-2.1M611.8 345.3v-1.3M612.3 345.3v-1.4M612.8 345.3v-1.6M613.3 345.3v-1.8M613.8 345.3v-2.7M614.3 345.3v-2.9M614.8 345.3v-1.2M615.3 345.3v-2.5M615.8 345.3v-1.2M616.3 345.3v-1.7M616.8 345.3v-2.1M617.3 345.3v-1.3M617.8 345.3v-1.3M618.3 345.3v-1.2M618.8 345.3v-1.5M619.3 345.3v-2.3M619.8 345.3v-1.2M620.3 345.3v-2.1M620.8 345.3v-1.5M621.3 345.3v-2.9M621.8 345.3v-1.7M622.3 345.3v-1.6M622.8 345.3v-1.4M623.3 345.3v-2.4M623.8 345.3v-1.6M624.3 345.3v-1.9M624.8 345.3v-1.9M625.3 345.3v-2.3M625.8 345.3v-1.4M626.3 345.3v-1.2M626.8 345.3v-1.3M627.3 345.3v-1.8M627.8 345.3v-1.2M628.3 345.3v-1.2M628.8 345.3v-1.4M629.3 345.3v-1.9M629.8 345.3v-1.3M630.3 345.3v-1.4M630.8 345.3v-1.2M631.3 345.3v-3.7M631.8 345.3v-2.7M632.3 345.3v-4.0M632.8 345.3v-1.8M633.3 345.3v-1.5M633.8 345.3v-1.4M634.3 345.3v-1.4M634.8 345.3v-2.1M635.3 345.3v-1.7M635.8 345.3v-1.2M636.3 345.3v-2.5M636.8 345.3v-2.4M637.3 345.3v-1.2M637.8 345.3v-1.2M638.3 345.3v-1.6M638.8 345.3v-1.6M639.3 345.3v-2.3M639.8 345.3v-1.3M640.3 345.3v-3.8M640.8 345.3v-1.4M641.3 345.3v-1.3M641.8 345.3v-3.7M642.3 345.3v-2.1M642.8 345.3v-2.2M643.3 345.3v-1.3M643.8 345.3v-3.3M644.3 345.3v-1.4M644.8 345.3v-1.6M645.3 345.3v-2.5M645.8 345.3v-1.2M646.3 345.3v-1.2M646.8 345.3v-1.8M647.3 345.3v-1.6M647.8 345.3v-3.1M648.3 345.3v-3.5M648.8 345.3v-1.4M649.3 345.3v-2.0M649.8 345.3v-1.2M650.3 345.3v-2.0M650.8 345.3v-1.5M651.3 345.3v-1.4M651.8 345.3v-1.4M652.3 345.3v-1.6M652.8 345.3v-1.5M653.3 345.3v-1.4M653.8 345.3v-1.2M654.3 345.3v-1.2M654.8 345.3v-1.2M655.3 345.3v-2.4M655.8 345.3v-1.5M656.3 345.3v-1.6M656.8 345.3v-2.8M657.3 345.3v-1.2M657.8 345.3v-2.3M658.3 345.3v-2.6M658.8 345.3v-1.5M659.3 345.3v-1.9M659.8 345.3v-1.2M660.3 345.3v-1.5M660.8 345.3v-1.2M661.3 345.3v-2.0M661.8 345.3v-3.4M662.3 345.3v-2.9M662.8 345.3v-1.6M663.3 345.3v-2.3" stroke="#3d7cc9" stroke-width="0.5" fill="none" opacity="0.9"/>
<path d="M459.3 345.3v-6.5M465.4 345.3v-11.0M485.3 345.3v-9.4M490.0 345.3v-6.0M495.3 345.3v-4.0M506.0 345.3v-4.0M521.1 345.3v-15.5M538.3 345.3v-16.7M544.4 345.3v-6.0M571.5 345.3v-5.0M602.4 345.3v-5.8M630.4 345.3v-7.0M631.4 345.3v-11.7M637.3 345.3v-15.0" stroke="#3d7cc9" stroke-width="0.6" fill="none" opacity="0.8"/>
<rect x="454.80" y="344.50" width="209.00" height="1.60" fill="#3d7cc9" />
<text x="453.2" y="326.40000000000003" font-size="6.6" text-anchor="end" fill="#3d7cc9" font-weight="normal" >100</text>
<text x="450.2" y="344.7" font-size="6.6" text-anchor="end" fill="#3d7cc9" font-weight="normal" >0</text>
<line x1="455.8" y1="324.3" x2="457.8" y2="324.3" stroke="#3d7cc9" stroke-width="0.7" />
<path d="M454.8 370.8v-1.4M455.3 370.8v-2.1M455.8 370.8v-2.0M456.3 370.8v-1.7M456.8 370.8v-1.4M457.3 370.8v-2.4M457.8 370.8v-2.5M458.3 370.8v-1.8M458.8 370.8v-1.8M459.3 370.8v-1.4M459.8 370.8v-1.2M460.3 370.8v-1.6M460.8 370.8v-1.9M461.3 370.8v-1.3M461.8 370.8v-2.5M462.3 370.8v-1.4M462.8 370.8v-1.4M463.3 370.8v-1.3M463.8 370.8v-5.6M464.3 370.8v-2.3M464.8 370.8v-2.8M465.3 370.8v-2.0M465.8 370.8v-1.2M466.3 370.8v-1.5M466.8 370.8v-1.8M467.3 370.8v-1.3M467.8 370.8v-3.6M468.3 370.8v-1.6M468.8 370.8v-1.4M469.3 370.8v-2.5M469.8 370.8v-1.3M470.3 370.8v-3.3M470.8 370.8v-1.7M471.3 370.8v-1.8M471.8 370.8v-1.5M472.3 370.8v-1.7M472.8 370.8v-1.4M473.3 370.8v-1.2M473.8 370.8v-2.8M474.3 370.8v-1.4M474.8 370.8v-2.4M475.3 370.8v-1.4M475.8 370.8v-3.9M476.3 370.8v-3.0M476.8 370.8v-2.3M477.3 370.8v-2.3M477.8 370.8v-1.9M478.3 370.8v-2.2M478.8 370.8v-1.3M479.3 370.8v-1.7M479.8 370.8v-2.6M480.3 370.8v-1.4M480.8 370.8v-3.2M481.3 370.8v-2.9M481.8 370.8v-1.6M482.3 370.8v-1.6M482.8 370.8v-1.7M483.3 370.8v-1.6M483.8 370.8v-5.3M484.3 370.8v-1.6M484.8 370.8v-1.2M485.3 370.8v-1.3M485.8 370.8v-2.2M486.3 370.8v-5.1M486.8 370.8v-1.8M487.3 370.8v-1.7M487.8 370.8v-1.8M488.3 370.8v-2.3M488.8 370.8v-1.4M489.3 370.8v-2.0M489.8 370.8v-1.9M490.3 370.8v-2.0M490.8 370.8v-1.4M491.3 370.8v-1.4M491.8 370.8v-1.6M492.3 370.8v-3.3M492.8 370.8v-1.6M493.3 370.8v-1.9M493.8 370.8v-1.5M494.3 370.8v-1.3M494.8 370.8v-1.3M495.3 370.8v-2.5M495.8 370.8v-2.4M496.3 370.8v-1.6M496.8 370.8v-2.1M497.3 370.8v-2.1M497.8 370.8v-3.0M498.3 370.8v-3.7M498.8 370.8v-1.6M499.3 370.8v-4.7M499.8 370.8v-3.8M500.3 370.8v-1.9M500.8 370.8v-2.9M501.3 370.8v-1.7M501.8 370.8v-1.6M502.3 370.8v-1.4M502.8 370.8v-2.8M503.3 370.8v-1.4M503.8 370.8v-1.3M504.3 370.8v-2.5M504.8 370.8v-2.4M505.3 370.8v-1.7M505.8 370.8v-2.6M506.3 370.8v-1.3M506.8 370.8v-1.5M507.3 370.8v-1.5M507.8 370.8v-1.6M508.3 370.8v-1.4M508.8 370.8v-1.3M509.3 370.8v-1.5M509.8 370.8v-3.0M510.3 370.8v-4.4M510.8 370.8v-2.3M511.3 370.8v-1.7M511.8 370.8v-1.4M512.3 370.8v-3.7M512.8 370.8v-1.8M513.3 370.8v-2.2M513.8 370.8v-1.2M514.3 370.8v-1.4M514.8 370.8v-2.6M515.3 370.8v-2.5M515.8 370.8v-2.9M516.3 370.8v-1.9M516.8 370.8v-1.7M517.3 370.8v-1.9M517.8 370.8v-2.7M518.3 370.8v-1.5M518.8 370.8v-1.8M519.3 370.8v-1.5M519.8 370.8v-2.4M520.3 370.8v-1.2M520.8 370.8v-2.1M521.3 370.8v-3.6M521.8 370.8v-1.2M522.3 370.8v-1.9M522.8 370.8v-2.0M523.3 370.8v-2.7M523.8 370.8v-1.9M524.3 370.8v-1.5M524.8 370.8v-1.6M525.3 370.8v-3.7M525.8 370.8v-3.1M526.3 370.8v-1.3M526.8 370.8v-1.3M527.3 370.8v-1.3M527.8 370.8v-1.2M528.3 370.8v-1.7M528.8 370.8v-1.3M529.3 370.8v-2.8M529.8 370.8v-2.1M530.3 370.8v-1.3M530.8 370.8v-1.8M531.3 370.8v-1.5M531.8 370.8v-1.8M532.3 370.8v-1.4M532.8 370.8v-1.4M533.3 370.8v-1.4M533.8 370.8v-1.6M534.3 370.8v-2.2M534.8 370.8v-1.8M535.3 370.8v-1.3M535.8 370.8v-2.2M536.3 370.8v-2.8M536.8 370.8v-2.4M537.3 370.8v-2.4M537.8 370.8v-1.2M538.3 370.8v-1.7M538.8 370.8v-1.3M539.3 370.8v-2.3M539.8 370.8v-1.4M540.3 370.8v-2.2M540.8 370.8v-1.4M541.3 370.8v-2.2M541.8 370.8v-1.5M542.3 370.8v-1.3M542.8 370.8v-1.6M543.3 370.8v-1.5M543.8 370.8v-3.0M544.3 370.8v-1.5M544.8 370.8v-1.8M545.3 370.8v-1.8M545.8 370.8v-3.5M546.3 370.8v-1.3M546.8 370.8v-1.9M547.3 370.8v-1.8M547.8 370.8v-2.3M548.3 370.8v-3.9M548.8 370.8v-1.5M549.3 370.8v-2.2M549.8 370.8v-1.8M550.3 370.8v-1.9M550.8 370.8v-1.3M551.3 370.8v-2.5M551.8 370.8v-4.2M552.3 370.8v-1.6M552.8 370.8v-1.5M553.3 370.8v-5.1M553.8 370.8v-1.3M554.3 370.8v-1.3M554.8 370.8v-1.3M555.3 370.8v-2.5M555.8 370.8v-2.3M556.3 370.8v-1.7M556.8 370.8v-2.0M557.3 370.8v-1.2M557.8 370.8v-2.0M558.3 370.8v-1.7M558.8 370.8v-1.8M559.3 370.8v-1.6M559.8 370.8v-1.6M560.3 370.8v-1.4M560.8 370.8v-1.3M561.3 370.8v-1.7M561.8 370.8v-1.4M562.3 370.8v-2.2M562.8 370.8v-2.5M563.3 370.8v-2.2M563.8 370.8v-1.7M564.3 370.8v-1.4M564.8 370.8v-1.6M565.3 370.8v-1.7M565.8 370.8v-2.0M566.3 370.8v-3.8M566.8 370.8v-1.3M567.3 370.8v-1.7M567.8 370.8v-1.7M568.3 370.8v-2.2M568.8 370.8v-2.9M569.3 370.8v-2.4M569.8 370.8v-2.0M570.3 370.8v-2.3M570.8 370.8v-2.1M571.3 370.8v-2.7M571.8 370.8v-2.2M572.3 370.8v-2.1M572.8 370.8v-1.4M573.3 370.8v-3.2M573.8 370.8v-1.6M574.3 370.8v-2.0M574.8 370.8v-2.6M575.3 370.8v-3.8M575.8 370.8v-4.8M576.3 370.8v-1.2M576.8 370.8v-1.5M577.3 370.8v-1.5M577.8 370.8v-1.6M578.3 370.8v-1.3M578.8 370.8v-1.8M579.3 370.8v-1.3M579.8 370.8v-1.5M580.3 370.8v-3.5M580.8 370.8v-2.3M581.3 370.8v-1.7M581.8 370.8v-1.3M582.3 370.8v-3.7M582.8 370.8v-2.2M583.3 370.8v-1.4M583.8 370.8v-1.5M584.3 370.8v-2.0M584.8 370.8v-2.1M585.3 370.8v-1.5M585.8 370.8v-3.6M586.3 370.8v-1.5M586.8 370.8v-1.4M587.3 370.8v-2.7M587.8 370.8v-1.3M588.3 370.8v-2.1M588.8 370.8v-1.4M589.3 370.8v-1.9M589.8 370.8v-1.5M590.3 370.8v-1.6M590.8 370.8v-3.4M591.3 370.8v-1.7M591.8 370.8v-1.7M592.3 370.8v-2.0M592.8 370.8v-1.5M593.3 370.8v-1.4M593.8 370.8v-1.6M594.3 370.8v-1.5M594.8 370.8v-1.4M595.3 370.8v-3.7M595.8 370.8v-1.2M596.3 370.8v-2.5M596.8 370.8v-3.3M597.3 370.8v-2.2M597.8 370.8v-1.2M598.3 370.8v-1.8M598.8 370.8v-1.3M599.3 370.8v-2.0M599.8 370.8v-2.2M600.3 370.8v-1.4M600.8 370.8v-1.2M601.3 370.8v-1.8M601.8 370.8v-1.3M602.3 370.8v-1.5M602.8 370.8v-1.7M603.3 370.8v-3.0M603.8 370.8v-1.6M604.3 370.8v-1.3M604.8 370.8v-2.4M605.3 370.8v-2.6M605.8 370.8v-1.8M606.3 370.8v-1.3M606.8 370.8v-1.4M607.3 370.8v-1.6M607.8 370.8v-1.8M608.3 370.8v-1.4M608.8 370.8v-2.5M609.3 370.8v-2.7M609.8 370.8v-3.2M610.3 370.8v-2.9M610.8 370.8v-1.2M611.3 370.8v-1.9M611.8 370.8v-1.3M612.3 370.8v-3.0M612.8 370.8v-2.3M613.3 370.8v-2.3M613.8 370.8v-1.4M614.3 370.8v-1.3M614.8 370.8v-2.5M615.3 370.8v-1.9M615.8 370.8v-2.0M616.3 370.8v-1.7M616.8 370.8v-2.5M617.3 370.8v-1.5M617.8 370.8v-1.5M618.3 370.8v-1.6M618.8 370.8v-1.5M619.3 370.8v-2.0M619.8 370.8v-2.9M620.3 370.8v-1.3M620.8 370.8v-1.3M621.3 370.8v-1.8M621.8 370.8v-2.1M622.3 370.8v-1.4M622.8 370.8v-1.5M623.3 370.8v-1.3M623.8 370.8v-1.2M624.3 370.8v-1.8M624.8 370.8v-2.1M625.3 370.8v-2.0M625.8 370.8v-1.4M626.3 370.8v-1.3M626.8 370.8v-3.3M627.3 370.8v-1.8M627.8 370.8v-1.6M628.3 370.8v-2.1M628.8 370.8v-2.2M629.3 370.8v-1.8M629.8 370.8v-1.3M630.3 370.8v-2.6M630.8 370.8v-1.4M631.3 370.8v-1.3M631.8 370.8v-1.6M632.3 370.8v-1.8M632.8 370.8v-2.0M633.3 370.8v-1.4M633.8 370.8v-2.2M634.3 370.8v-1.8M634.8 370.8v-1.4M635.3 370.8v-2.7M635.8 370.8v-2.5M636.3 370.8v-3.1M636.8 370.8v-2.1M637.3 370.8v-1.4M637.8 370.8v-2.4M638.3 370.8v-3.0M638.8 370.8v-1.8M639.3 370.8v-3.1M639.8 370.8v-4.0M640.3 370.8v-1.6M640.8 370.8v-3.4M641.3 370.8v-3.4M641.8 370.8v-2.5M642.3 370.8v-1.2M642.8 370.8v-1.6M643.3 370.8v-2.0M643.8 370.8v-1.9M644.3 370.8v-2.3M644.8 370.8v-2.0M645.3 370.8v-1.4M645.8 370.8v-3.3M646.3 370.8v-1.8M646.8 370.8v-2.9M647.3 370.8v-1.4M647.8 370.8v-5.6M648.3 370.8v-1.9M648.8 370.8v-2.4M649.3 370.8v-2.3M649.8 370.8v-2.9M650.3 370.8v-1.6M650.8 370.8v-1.3M651.3 370.8v-1.6M651.8 370.8v-1.4M652.3 370.8v-1.8M652.8 370.8v-2.5M653.3 370.8v-1.6M653.8 370.8v-1.3M654.3 370.8v-1.2M654.8 370.8v-1.6M655.3 370.8v-1.9M655.8 370.8v-1.2M656.3 370.8v-2.1M656.8 370.8v-1.4M657.3 370.8v-1.3M657.8 370.8v-3.3M658.3 370.8v-1.8M658.8 370.8v-3.0M659.3 370.8v-1.8M659.8 370.8v-1.3M660.3 370.8v-1.4M660.8 370.8v-1.7M661.3 370.8v-2.0M661.8 370.8v-2.4M662.3 370.8v-2.3M662.8 370.8v-2.0M663.3 370.8v-1.4" stroke="#55b5e5" stroke-width="0.5" fill="none" opacity="0.9"/>
<path d="M480.0 370.8v-2.5M520.0 370.8v-2.5M600.0 370.8v-2.5" stroke="#55b5e5" stroke-width="0.6" fill="none" opacity="0.8"/>
<rect x="454.80" y="370.00" width="209.00" height="1.60" fill="#55b5e5" />
<text x="453.2" y="351.90000000000003" font-size="6.6" text-anchor="end" fill="#55b5e5" font-weight="normal" >100</text>
<text x="450.2" y="370.2" font-size="6.6" text-anchor="end" fill="#55b5e5" font-weight="normal" >0</text>
<line x1="455.8" y1="349.8" x2="457.8" y2="349.8" stroke="#55b5e5" stroke-width="0.7" />
<path d="M454.8 395.6v-3.5M455.3 395.6v-1.3M455.8 395.6v-1.2M456.3 395.6v-5.2M456.8 395.6v-1.3M457.3 395.6v-1.3M457.8 395.6v-1.9M458.3 395.6v-1.5M458.8 395.6v-2.8M459.3 395.6v-1.4M459.8 395.6v-3.5M460.3 395.6v-1.5M460.8 395.6v-1.8M461.3 395.6v-3.1M461.8 395.6v-2.0M462.3 395.6v-3.0M462.8 395.6v-2.1M463.3 395.6v-1.2M463.8 395.6v-2.7M464.3 395.6v-1.8M464.8 395.6v-1.5M465.3 395.6v-1.3M465.8 395.6v-2.5M466.3 395.6v-1.8M466.8 395.6v-3.2M467.3 395.6v-2.2M467.8 395.6v-3.5M468.3 395.6v-1.8M468.8 395.6v-2.0M469.3 395.6v-1.9M469.8 395.6v-1.4M470.3 395.6v-3.4M470.8 395.6v-1.5M471.3 395.6v-2.3M471.8 395.6v-3.4M472.3 395.6v-1.9M472.8 395.6v-1.3M473.3 395.6v-2.4M473.8 395.6v-2.0M474.3 395.6v-1.3M474.8 395.6v-1.2M475.3 395.6v-1.7M475.8 395.6v-1.2M476.3 395.6v-3.0M476.8 395.6v-1.7M477.3 395.6v-1.7M477.8 395.6v-1.6M478.3 395.6v-2.0M478.8 395.6v-3.0M479.3 395.6v-1.4M479.8 395.6v-1.5M480.3 395.6v-1.8M480.8 395.6v-1.4M481.3 395.6v-1.8M481.8 395.6v-1.7M482.3 395.6v-1.6M482.8 395.6v-2.0M483.3 395.6v-1.7M483.8 395.6v-1.3M484.3 395.6v-5.2M484.8 395.6v-1.5M485.3 395.6v-1.6M485.8 395.6v-1.6M486.3 395.6v-3.1M486.8 395.6v-3.4M487.3 395.6v-1.7M487.8 395.6v-1.6M488.3 395.6v-1.3M488.8 395.6v-2.8M489.3 395.6v-1.3M489.8 395.6v-1.8M490.3 395.6v-1.5M490.8 395.6v-1.5M491.3 395.6v-1.5M491.8 395.6v-1.3M492.3 395.6v-1.2M492.8 395.6v-1.7M493.3 395.6v-2.3M493.8 395.6v-1.9M494.3 395.6v-1.3M494.8 395.6v-2.0M495.3 395.6v-1.2M495.8 395.6v-1.6M496.3 395.6v-2.4M496.8 395.6v-3.0M497.3 395.6v-1.6M497.8 395.6v-2.5M498.3 395.6v-1.7M498.8 395.6v-1.7M499.3 395.6v-1.8M499.8 395.6v-4.6M500.3 395.6v-2.2M500.8 395.6v-1.6M501.3 395.6v-2.1M501.8 395.6v-1.9M502.3 395.6v-1.5M502.8 395.6v-2.3M503.3 395.6v-2.4M503.8 395.6v-1.9M504.3 395.6v-3.2M504.8 395.6v-1.2M505.3 395.6v-1.7M505.8 395.6v-1.9M506.3 395.6v-1.5M506.8 395.6v-1.3M507.3 395.6v-2.0M507.8 395.6v-1.6M508.3 395.6v-1.4M508.8 395.6v-1.2M509.3 395.6v-3.6M509.8 395.6v-1.5M510.3 395.6v-1.3M510.8 395.6v-1.4M511.3 395.6v-1.4M511.8 395.6v-2.6M512.3 395.6v-1.3M512.8 395.6v-1.4M513.3 395.6v-1.3M513.8 395.6v-1.6M514.3 395.6v-1.4M514.8 395.6v-1.5M515.3 395.6v-2.1M515.8 395.6v-3.0M516.3 395.6v-2.5M516.8 395.6v-1.2M517.3 395.6v-1.5M517.8 395.6v-2.5M518.3 395.6v-1.2M518.8 395.6v-1.3M519.3 395.6v-1.7M519.8 395.6v-1.5M520.3 395.6v-2.2M520.8 395.6v-2.1M521.3 395.6v-1.6M521.8 395.6v-1.4M522.3 395.6v-1.4M522.8 395.6v-1.4M523.3 395.6v-1.2M523.8 395.6v-2.0M524.3 395.6v-1.3M524.8 395.6v-2.8M525.3 395.6v-1.9M525.8 395.6v-1.2M526.3 395.6v-1.7M526.8 395.6v-1.8M527.3 395.6v-1.2M527.8 395.6v-1.7M528.3 395.6v-1.2M528.8 395.6v-2.2M529.3 395.6v-1.2M529.8 395.6v-1.9M530.3 395.6v-4.2M530.8 395.6v-2.5M531.3 395.6v-1.4M531.8 395.6v-1.7M532.3 395.6v-1.3M532.8 395.6v-1.5M533.3 395.6v-2.6M533.8 395.6v-2.4M534.3 395.6v-1.2M534.8 395.6v-1.5M535.3 395.6v-1.9M535.8 395.6v-1.3M536.3 395.6v-2.3M536.8 395.6v-2.8M537.3 395.6v-1.8M537.8 395.6v-1.5M538.3 395.6v-2.5M538.8 395.6v-1.7M539.3 395.6v-1.3M539.8 395.6v-1.4M540.3 395.6v-1.3M540.8 395.6v-2.5M541.3 395.6v-1.7M541.8 395.6v-2.0M542.3 395.6v-2.4M542.8 395.6v-3.8M543.3 395.6v-1.3M543.8 395.6v-1.6M544.3 395.6v-2.7M544.8 395.6v-2.2M545.3 395.6v-1.5M545.8 395.6v-1.9M546.3 395.6v-1.3M546.8 395.6v-1.3M547.3 395.6v-1.2M547.8 395.6v-1.5M548.3 395.6v-1.4M548.8 395.6v-1.7M549.3 395.6v-3.7M549.8 395.6v-1.3M550.3 395.6v-1.8M550.8 395.6v-2.6M551.3 395.6v-1.8M551.8 395.6v-1.7M552.3 395.6v-2.2M552.8 395.6v-1.2M553.3 395.6v-3.3M553.8 395.6v-2.0M554.3 395.6v-2.4M554.8 395.6v-2.4M555.3 395.6v-1.3M555.8 395.6v-1.2M556.3 395.6v-1.3M556.8 395.6v-1.7M557.3 395.6v-3.2M557.8 395.6v-2.9M558.3 395.6v-1.6M558.8 395.6v-1.9M559.3 395.6v-2.1M559.8 395.6v-1.5M560.3 395.6v-3.7M560.8 395.6v-3.2M561.3 395.6v-2.1M561.8 395.6v-2.8M562.3 395.6v-2.3M562.8 395.6v-1.9M563.3 395.6v-1.5M563.8 395.6v-1.4M564.3 395.6v-1.4M564.8 395.6v-1.2M565.3 395.6v-3.0M565.8 395.6v-1.4M566.3 395.6v-1.2M566.8 395.6v-1.5M567.3 395.6v-1.3M567.8 395.6v-1.6M568.3 395.6v-1.5M568.8 395.6v-1.3M569.3 395.6v-1.6M569.8 395.6v-1.6M570.3 395.6v-1.5M570.8 395.6v-2.4M571.3 395.6v-1.4M571.8 395.6v-1.7M572.3 395.6v-2.7M572.8 395.6v-3.5M573.3 395.6v-1.5M573.8 395.6v-1.2M574.3 395.6v-3.3M574.8 395.6v-1.7M575.3 395.6v-1.4M575.8 395.6v-1.3M576.3 395.6v-1.4M576.8 395.6v-1.5M577.3 395.6v-1.3M577.8 395.6v-1.2M578.3 395.6v-4.9M578.8 395.6v-2.4M579.3 395.6v-1.3M579.8 395.6v-1.7M580.3 395.6v-2.3M580.8 395.6v-1.7M581.3 395.6v-1.2M581.8 395.6v-1.5M582.3 395.6v-1.5M582.8 395.6v-2.9M583.3 395.6v-1.8M583.8 395.6v-1.6M584.3 395.6v-1.9M584.8 395.6v-1.2M585.3 395.6v-2.0M585.8 395.6v-2.4M586.3 395.6v-2.0M586.8 395.6v-1.5M587.3 395.6v-1.4M587.8 395.6v-1.2M588.3 395.6v-1.2M588.8 395.6v-1.3M589.3 395.6v-1.6M589.8 395.6v-2.3M590.3 395.6v-1.4M590.8 395.6v-1.6M591.3 395.6v-1.9M591.8 395.6v-1.9M592.3 395.6v-1.2M592.8 395.6v-3.0M593.3 395.6v-1.8M593.8 395.6v-1.4M594.3 395.6v-1.4M594.8 395.6v-2.0M595.3 395.6v-3.1M595.8 395.6v-1.5M596.3 395.6v-1.5M596.8 395.6v-1.8M597.3 395.6v-1.3M597.8 395.6v-1.6M598.3 395.6v-3.0M598.8 395.6v-1.8M599.3 395.6v-2.4M599.8 395.6v-1.4M600.3 395.6v-2.6M600.8 395.6v-2.3M601.3 395.6v-1.4M601.8 395.6v-1.7M602.3 395.6v-2.0M602.8 395.6v-1.8M603.3 395.6v-1.8M603.8 395.6v-1.4M604.3 395.6v-1.8M604.8 395.6v-1.5M605.3 395.6v-2.3M605.8 395.6v-1.5M606.3 395.6v-4.0M606.8 395.6v-1.8M607.3 395.6v-1.4M607.8 395.6v-1.6M608.3 395.6v-1.3M608.8 395.6v-2.1M609.3 395.6v-1.2M609.8 395.6v-1.8M610.3 395.6v-1.4M610.8 395.6v-2.3M611.3 395.6v-1.3M611.8 395.6v-2.0M612.3 395.6v-2.1M612.8 395.6v-1.4M613.3 395.6v-1.3M613.8 395.6v-1.5M614.3 395.6v-1.9M614.8 395.6v-1.4M615.3 395.6v-1.2M615.8 395.6v-1.6M616.3 395.6v-2.4M616.8 395.6v-1.3M617.3 395.6v-3.2M617.8 395.6v-1.7M618.3 395.6v-1.3M618.8 395.6v-1.3M619.3 395.6v-1.5M619.8 395.6v-1.6M620.3 395.6v-1.3M620.8 395.6v-1.2M621.3 395.6v-1.7M621.8 395.6v-1.4M622.3 395.6v-1.6M622.8 395.6v-1.6M623.3 395.6v-2.0M623.8 395.6v-1.8M624.3 395.6v-1.4M624.8 395.6v-1.3M625.3 395.6v-2.6M625.8 395.6v-1.2M626.3 395.6v-1.3M626.8 395.6v-1.2M627.3 395.6v-2.4M627.8 395.6v-1.7M628.3 395.6v-3.0M628.8 395.6v-1.9M629.3 395.6v-1.5M629.8 395.6v-1.6M630.3 395.6v-2.1M630.8 395.6v-1.4M631.3 395.6v-2.3M631.8 395.6v-1.6M632.3 395.6v-1.2M632.8 395.6v-1.5M633.3 395.6v-1.8M633.8 395.6v-1.3M634.3 395.6v-2.9M634.8 395.6v-3.0M635.3 395.6v-1.7M635.8 395.6v-2.9M636.3 395.6v-2.0M636.8 395.6v-1.7M637.3 395.6v-1.3M637.8 395.6v-3.4M638.3 395.6v-3.0M638.8 395.6v-1.6M639.3 395.6v-1.5M639.8 395.6v-1.2M640.3 395.6v-1.9M640.8 395.6v-2.6M641.3 395.6v-1.5M641.8 395.6v-1.4M642.3 395.6v-1.9M642.8 395.6v-2.3M643.3 395.6v-1.3M643.8 395.6v-1.4M644.3 395.6v-1.9M644.8 395.6v-1.2M645.3 395.6v-2.4M645.8 395.6v-1.5M646.3 395.6v-2.5M646.8 395.6v-1.6M647.3 395.6v-1.3M647.8 395.6v-1.2M648.3 395.6v-1.3M648.8 395.6v-1.4M649.3 395.6v-2.2M649.8 395.6v-2.3M650.3 395.6v-1.9M650.8 395.6v-1.4M651.3 395.6v-2.0M651.8 395.6v-2.1M652.3 395.6v-1.5M652.8 395.6v-1.2M653.3 395.6v-1.6M653.8 395.6v-1.4M654.3 395.6v-1.3M654.8 395.6v-1.5M655.3 395.6v-1.2M655.8 395.6v-2.8M656.3 395.6v-1.4M656.8 395.6v-2.8M657.3 395.6v-2.1M657.8 395.6v-1.2M658.3 395.6v-2.8M658.8 395.6v-2.4M659.3 395.6v-1.7M659.8 395.6v-2.7M660.3 395.6v-1.7M660.8 395.6v-1.2M661.3 395.6v-1.3M661.8 395.6v-1.5M662.3 395.6v-2.6M662.8 395.6v-2.4M663.3 395.6v-1.3" stroke="#86c9e0" stroke-width="0.5" fill="none" opacity="0.9"/>
<path d="M465.2 395.6v-4.0M485.3 395.6v-6.0M560.0 395.6v-2.5" stroke="#86c9e0" stroke-width="0.6" fill="none" opacity="0.8"/>
<rect x="454.80" y="394.80" width="209.00" height="1.60" fill="#86c9e0" />
<text x="453.2" y="376.70000000000005" font-size="6.6" text-anchor="end" fill="#86c9e0" font-weight="normal" >100</text>
<text x="450.2" y="395.0" font-size="6.6" text-anchor="end" fill="#86c9e0" font-weight="normal" >0</text>
<line x1="455.8" y1="374.6" x2="457.8" y2="374.6" stroke="#86c9e0" stroke-width="0.7" />
<path d="M454.8 421.3v-2.6M455.3 421.3v-2.9M455.8 421.3v-2.4M456.3 421.3v-1.2M456.8 421.3v-1.6M457.3 421.3v-1.4M457.8 421.3v-1.6M458.3 421.3v-1.2M458.8 421.3v-1.2M459.3 421.3v-1.5M459.8 421.3v-1.3M460.3 421.3v-1.5M460.8 421.3v-1.1M461.3 421.3v-1.2M461.8 421.3v-1.8M462.3 421.3v-1.4M462.8 421.3v-1.5M463.3 421.3v-1.9M463.8 421.3v-1.4M464.3 421.3v-1.1M464.8 421.3v-2.0M465.3 421.3v-1.6M465.8 421.3v-1.7M466.3 421.3v-1.7M466.8 421.3v-3.2M467.3 421.3v-1.4M467.8 421.3v-1.9M468.3 421.3v-1.4M468.8 421.3v-1.6M469.3 421.3v-1.7M469.8 421.3v-1.3M470.3 421.3v-1.2M470.8 421.3v-1.5M471.3 421.3v-1.9M471.8 421.3v-1.6M472.3 421.3v-1.5M472.8 421.3v-1.7M473.3 421.3v-1.2M473.8 421.3v-1.2M474.3 421.3v-1.3M474.8 421.3v-2.1M475.3 421.3v-1.2M475.8 421.3v-1.2M476.3 421.3v-1.2M476.8 421.3v-1.1M477.3 421.3v-1.3M477.8 421.3v-1.6M478.3 421.3v-2.1M478.8 421.3v-1.3M479.3 421.3v-1.4M479.8 421.3v-1.3M480.3 421.3v-1.3M480.8 421.3v-2.0M481.3 421.3v-1.6M481.8 421.3v-1.3M482.3 421.3v-1.2M482.8 421.3v-2.0M483.3 421.3v-1.8M483.8 421.3v-2.1M484.3 421.3v-1.3M484.8 421.3v-1.6M485.3 421.3v-2.6M485.8 421.3v-1.6M486.3 421.3v-2.8M486.8 421.3v-1.2M487.3 421.3v-3.3M487.8 421.3v-1.1M488.3 421.3v-1.4M488.8 421.3v-1.1M489.3 421.3v-2.1M489.8 421.3v-1.8M490.3 421.3v-3.2M490.8 421.3v-2.1M491.3 421.3v-2.9M491.8 421.3v-1.6M492.3 421.3v-3.7M492.8 421.3v-1.9M493.3 421.3v-1.4M493.8 421.3v-3.3M494.3 421.3v-1.4M494.8 421.3v-1.2M495.3 421.3v-1.2M495.8 421.3v-1.5M496.3 421.3v-1.2M496.8 421.3v-2.7M497.3 421.3v-2.9M497.8 421.3v-1.3M498.3 421.3v-1.2M498.8 421.3v-1.6M499.3 421.3v-1.2M499.8 421.3v-1.6M500.3 421.3v-2.1M500.8 421.3v-1.3M501.3 421.3v-1.4M501.8 421.3v-2.5M502.3 421.3v-1.5M502.8 421.3v-1.4M503.3 421.3v-2.4M503.8 421.3v-2.1M504.3 421.3v-2.4M504.8 421.3v-1.8M505.3 421.3v-1.4M505.8 421.3v-1.8M506.3 421.3v-2.2M506.8 421.3v-1.7M507.3 421.3v-1.3M507.8 421.3v-1.3M508.3 421.3v-1.4M508.8 421.3v-2.0M509.3 421.3v-1.6M509.8 421.3v-1.6M510.3 421.3v-2.1M510.8 421.3v-1.2M511.3 421.3v-1.7M511.8 421.3v-1.4M512.3 421.3v-1.6M512.8 421.3v-2.2M513.3 421.3v-1.3M513.8 421.3v-2.9M514.3 421.3v-1.2M514.8 421.3v-1.6M515.3 421.3v-1.6M515.8 421.3v-1.3M516.3 421.3v-1.6M516.8 421.3v-1.5M517.3 421.3v-1.5M517.8 421.3v-1.9M518.3 421.3v-1.1M518.8 421.3v-1.4M519.3 421.3v-2.0M519.8 421.3v-1.2M520.3 421.3v-2.3M520.8 421.3v-1.2M521.3 421.3v-1.8M521.8 421.3v-1.2M522.3 421.3v-1.5M522.8 421.3v-1.4M523.3 421.3v-1.2M523.8 421.3v-1.8M524.3 421.3v-1.5M524.8 421.3v-1.8M525.3 421.3v-1.6M525.8 421.3v-1.6M526.3 421.3v-1.6M526.8 421.3v-1.3M527.3 421.3v-2.5M527.8 421.3v-1.2M528.3 421.3v-2.3M528.8 421.3v-2.3M529.3 421.3v-1.5M529.8 421.3v-2.0M530.3 421.3v-1.8M530.8 421.3v-1.7M531.3 421.3v-1.3M531.8 421.3v-1.3M532.3 421.3v-1.4M532.8 421.3v-1.3M533.3 421.3v-3.0M533.8 421.3v-1.4M534.3 421.3v-1.4M534.8 421.3v-1.4M535.3 421.3v-2.1M535.8 421.3v-1.5M536.3 421.3v-1.6M536.8 421.3v-1.3M537.3 421.3v-1.3M537.8 421.3v-1.2M538.3 421.3v-1.3M538.8 421.3v-1.3M539.3 421.3v-2.2M539.8 421.3v-1.5M540.3 421.3v-1.2M540.8 421.3v-1.5M541.3 421.3v-1.2M541.8 421.3v-1.6M542.3 421.3v-1.5M542.8 421.3v-2.3M543.3 421.3v-1.3M543.8 421.3v-2.2M544.3 421.3v-1.3M544.8 421.3v-3.5M545.3 421.3v-1.7M545.8 421.3v-1.1M546.3 421.3v-2.1M546.8 421.3v-1.3M547.3 421.3v-1.4M547.8 421.3v-1.2M548.3 421.3v-2.2M548.8 421.3v-1.2M549.3 421.3v-1.9M549.8 421.3v-1.4M550.3 421.3v-1.8M550.8 421.3v-1.3M551.3 421.3v-1.2M551.8 421.3v-2.6M552.3 421.3v-1.7M552.8 421.3v-1.2M553.3 421.3v-3.3M553.8 421.3v-2.5M554.3 421.3v-1.2M554.8 421.3v-1.1M555.3 421.3v-1.7M555.8 421.3v-1.2M556.3 421.3v-1.9M556.8 421.3v-1.5M557.3 421.3v-1.8M557.8 421.3v-1.6M558.3 421.3v-2.0M558.8 421.3v-2.1M559.3 421.3v-1.7M559.8 421.3v-1.6M560.3 421.3v-1.3M560.8 421.3v-1.2M561.3 421.3v-1.2M561.8 421.3v-2.3M562.3 421.3v-1.3M562.8 421.3v-1.4M563.3 421.3v-1.3M563.8 421.3v-1.7M564.3 421.3v-1.6M564.8 421.3v-2.3M565.3 421.3v-1.5M565.8 421.3v-1.4M566.3 421.3v-1.7M566.8 421.3v-1.9M567.3 421.3v-2.6M567.8 421.3v-1.3M568.3 421.3v-2.4M568.8 421.3v-3.4M569.3 421.3v-3.5M569.8 421.3v-1.2M570.3 421.3v-1.4M570.8 421.3v-2.0M571.3 421.3v-2.2M571.8 421.3v-1.1M572.3 421.3v-1.4M572.8 421.3v-1.9M573.3 421.3v-1.9M573.8 421.3v-1.6M574.3 421.3v-1.3M574.8 421.3v-1.4M575.3 421.3v-1.2M575.8 421.3v-1.3M576.3 421.3v-1.4M576.8 421.3v-2.1M577.3 421.3v-1.6M577.8 421.3v-1.4M578.3 421.3v-1.3M578.8 421.3v-1.3M579.3 421.3v-1.8M579.8 421.3v-1.5M580.3 421.3v-1.2M580.8 421.3v-2.1M581.3 421.3v-1.6M581.8 421.3v-3.1M582.3 421.3v-1.6M582.8 421.3v-1.7M583.3 421.3v-1.4M583.8 421.3v-1.7M584.3 421.3v-2.6M584.8 421.3v-3.4M585.3 421.3v-1.7M585.8 421.3v-1.4M586.3 421.3v-1.2M586.8 421.3v-2.2M587.3 421.3v-1.4M587.8 421.3v-1.4M588.3 421.3v-1.1M588.8 421.3v-1.1M589.3 421.3v-1.4M589.8 421.3v-3.3M590.3 421.3v-1.9M590.8 421.3v-1.8M591.3 421.3v-1.8M591.8 421.3v-1.3M592.3 421.3v-1.2M592.8 421.3v-1.7M593.3 421.3v-1.2M593.8 421.3v-1.6M594.3 421.3v-1.5M594.8 421.3v-1.6M595.3 421.3v-1.2M595.8 421.3v-1.2M596.3 421.3v-1.5M596.8 421.3v-1.2M597.3 421.3v-1.7M597.8 421.3v-1.3M598.3 421.3v-1.7M598.8 421.3v-1.9M599.3 421.3v-1.7M599.8 421.3v-1.6M600.3 421.3v-1.2M600.8 421.3v-1.4M601.3 421.3v-3.3M601.8 421.3v-1.3M602.3 421.3v-1.3M602.8 421.3v-1.5M603.3 421.3v-1.6M603.8 421.3v-2.0M604.3 421.3v-1.3M604.8 421.3v-3.0M605.3 421.3v-1.1M605.8 421.3v-2.0M606.3 421.3v-1.6M606.8 421.3v-2.5M607.3 421.3v-1.2M607.8 421.3v-1.8M608.3 421.3v-2.8M608.8 421.3v-1.8M609.3 421.3v-1.2M609.8 421.3v-2.6M610.3 421.3v-3.2M610.8 421.3v-1.2M611.3 421.3v-2.1M611.8 421.3v-1.2M612.3 421.3v-1.2M612.8 421.3v-2.0M613.3 421.3v-1.9M613.8 421.3v-3.0M614.3 421.3v-1.7M614.8 421.3v-1.5M615.3 421.3v-1.3M615.8 421.3v-1.6M616.3 421.3v-4.0M616.8 421.3v-1.7M617.3 421.3v-2.3M617.8 421.3v-1.2M618.3 421.3v-1.9M618.8 421.3v-1.9M619.3 421.3v-1.2M619.8 421.3v-2.1M620.3 421.3v-1.2M620.8 421.3v-1.3M621.3 421.3v-1.2M621.8 421.3v-1.8M622.3 421.3v-1.2M622.8 421.3v-3.3M623.3 421.3v-1.1M623.8 421.3v-2.1M624.3 421.3v-1.9M624.8 421.3v-1.6M625.3 421.3v-1.6M625.8 421.3v-2.1M626.3 421.3v-1.7M626.8 421.3v-1.2M627.3 421.3v-2.0M627.8 421.3v-1.4M628.3 421.3v-1.6M628.8 421.3v-1.5M629.3 421.3v-2.5M629.8 421.3v-1.4M630.3 421.3v-2.2M630.8 421.3v-1.2M631.3 421.3v-1.3M631.8 421.3v-1.8M632.3 421.3v-1.7M632.8 421.3v-2.2M633.3 421.3v-1.3M633.8 421.3v-2.1M634.3 421.3v-2.0M634.8 421.3v-1.2M635.3 421.3v-1.2M635.8 421.3v-1.6M636.3 421.3v-3.3M636.8 421.3v-1.7M637.3 421.3v-1.4M637.8 421.3v-1.5M638.3 421.3v-2.1M638.8 421.3v-1.5M639.3 421.3v-1.6M639.8 421.3v-1.6M640.3 421.3v-2.7M640.8 421.3v-2.1M641.3 421.3v-2.2M641.8 421.3v-1.3M642.3 421.3v-1.7M642.8 421.3v-2.1M643.3 421.3v-1.9M643.8 421.3v-2.9M644.3 421.3v-2.6M644.8 421.3v-1.2M645.3 421.3v-1.5M645.8 421.3v-1.4M646.3 421.3v-1.2M646.8 421.3v-1.5M647.3 421.3v-3.5M647.8 421.3v-2.0M648.3 421.3v-1.2M648.8 421.3v-1.3M649.3 421.3v-1.4M649.8 421.3v-2.4M650.3 421.3v-1.5M650.8 421.3v-1.2M651.3 421.3v-1.6M651.8 421.3v-1.3M652.3 421.3v-1.1M652.8 421.3v-1.6M653.3 421.3v-3.9M653.8 421.3v-2.0M654.3 421.3v-1.9M654.8 421.3v-1.2M655.3 421.3v-1.6M655.8 421.3v-1.7M656.3 421.3v-1.9M656.8 421.3v-1.5M657.3 421.3v-1.1M657.8 421.3v-2.7M658.3 421.3v-1.3M658.8 421.3v-1.9M659.3 421.3v-1.5M659.8 421.3v-2.0M660.3 421.3v-1.4M660.8 421.3v-1.2M661.3 421.3v-1.4M661.8 421.3v-1.5M662.3 421.3v-2.0M662.8 421.3v-1.4M663.3 421.3v-1.8" stroke="#3a9a40" stroke-width="0.5" fill="none" opacity="0.9"/>
<path d="M459.3 421.3v-5.0M485.3 421.3v-5.5M488.0 421.3v-5.0M491.0 421.3v-5.5M506.2 421.3v-4.0M521.1 421.3v-11.5M524.6 421.3v-6.0M538.1 421.3v-16.5M571.5 421.3v-7.2M588.4 421.3v-12.4M630.4 421.3v-4.0M637.2 421.3v-3.5" stroke="#3a9a40" stroke-width="0.6" fill="none" opacity="0.8"/>
<rect x="454.80" y="420.50" width="209.00" height="1.60" fill="#3a9a40" />
<text x="453.2" y="402.40000000000003" font-size="6.6" text-anchor="end" fill="#3a9a40" font-weight="normal" >150</text>
<text x="450.2" y="420.7" font-size="6.6" text-anchor="end" fill="#3a9a40" font-weight="normal" >0</text>
<line x1="455.8" y1="400.3" x2="457.8" y2="400.3" stroke="#3a9a40" stroke-width="0.7" />
<path d="M454.8 446.8v-2.0M455.3 446.8v-2.4M455.8 446.8v-1.4M456.3 446.8v-4.6M456.8 446.8v-1.4M457.3 446.8v-2.0M457.8 446.8v-1.4M458.3 446.8v-2.1M458.8 446.8v-1.4M459.3 446.8v-2.0M459.8 446.8v-2.1M460.3 446.8v-2.2M460.8 446.8v-1.7M461.3 446.8v-2.5M461.8 446.8v-3.9M462.3 446.8v-1.4M462.8 446.8v-1.7M463.3 446.8v-3.2M463.8 446.8v-2.1M464.3 446.8v-1.7M464.8 446.8v-1.5M465.3 446.8v-3.1M465.8 446.8v-1.4M466.3 446.8v-2.2M466.8 446.8v-2.4M467.3 446.8v-1.4M467.8 446.8v-1.5M468.3 446.8v-1.5M468.8 446.8v-1.8M469.3 446.8v-1.6M469.8 446.8v-2.6M470.3 446.8v-2.8M470.8 446.8v-1.5M471.3 446.8v-2.6M471.8 446.8v-1.4M472.3 446.8v-1.4M472.8 446.8v-2.0M473.3 446.8v-2.3M473.8 446.8v-2.3M474.3 446.8v-4.1M474.8 446.8v-2.5M475.3 446.8v-1.5M475.8 446.8v-2.1M476.3 446.8v-2.8M476.8 446.8v-1.4M477.3 446.8v-1.7M477.8 446.8v-1.4M478.3 446.8v-1.4M478.8 446.8v-1.7M479.3 446.8v-2.0M479.8 446.8v-3.4M480.3 446.8v-1.4M480.8 446.8v-1.7M481.3 446.8v-4.6M481.8 446.8v-2.2M482.3 446.8v-1.8M482.8 446.8v-1.5M483.3 446.8v-1.9M483.8 446.8v-1.5M484.3 446.8v-1.9M484.8 446.8v-1.9M485.3 446.8v-1.6M485.8 446.8v-2.2M486.3 446.8v-1.6M486.8 446.8v-1.7M487.3 446.8v-2.4M487.8 446.8v-1.5M488.3 446.8v-1.4M488.8 446.8v-1.8M489.3 446.8v-1.6M489.8 446.8v-2.5M490.3 446.8v-1.5M490.8 446.8v-1.6M491.3 446.8v-1.3M491.8 446.8v-1.7M492.3 446.8v-1.5M492.8 446.8v-1.7M493.3 446.8v-2.2M493.8 446.8v-1.3M494.3 446.8v-4.0M494.8 446.8v-2.0M495.3 446.8v-2.3M495.8 446.8v-1.8M496.3 446.8v-1.8M496.8 446.8v-1.6M497.3 446.8v-1.6M497.8 446.8v-1.5M498.3 446.8v-1.5M498.8 446.8v-1.5M499.3 446.8v-1.6M499.8 446.8v-2.7M500.3 446.8v-2.3M500.8 446.8v-1.9M501.3 446.8v-1.3M501.8 446.8v-1.5M502.3 446.8v-1.8M502.8 446.8v-2.0M503.3 446.8v-1.6M503.8 446.8v-1.9M504.3 446.8v-2.7M504.8 446.8v-1.5M505.3 446.8v-1.6M505.8 446.8v-2.2M506.3 446.8v-1.5M506.8 446.8v-2.1M507.3 446.8v-1.6M507.8 446.8v-1.3M508.3 446.8v-1.7M508.8 446.8v-1.4M509.3 446.8v-2.2M509.8 446.8v-2.4M510.3 446.8v-1.8M510.8 446.8v-2.7M511.3 446.8v-1.5M511.8 446.8v-1.7M512.3 446.8v-1.4M512.8 446.8v-1.3M513.3 446.8v-2.3M513.8 446.8v-1.3M514.3 446.8v-2.9M514.8 446.8v-1.8M515.3 446.8v-2.0M515.8 446.8v-1.3M516.3 446.8v-2.7M516.8 446.8v-2.2M517.3 446.8v-1.4M517.8 446.8v-1.4M518.3 446.8v-1.4M518.8 446.8v-1.7M519.3 446.8v-1.4M519.8 446.8v-2.3M520.3 446.8v-1.7M520.8 446.8v-2.0M521.3 446.8v-1.5M521.8 446.8v-1.9M522.3 446.8v-1.7M522.8 446.8v-1.9M523.3 446.8v-1.6M523.8 446.8v-4.0M524.3 446.8v-2.4M524.8 446.8v-2.4M525.3 446.8v-1.6M525.8 446.8v-1.4M526.3 446.8v-1.4M526.8 446.8v-1.4M527.3 446.8v-3.3M527.8 446.8v-1.5M528.3 446.8v-2.5M528.8 446.8v-1.5M529.3 446.8v-1.9M529.8 446.8v-1.5M530.3 446.8v-1.5M530.8 446.8v-2.1M531.3 446.8v-1.9M531.8 446.8v-3.0M532.3 446.8v-1.5M532.8 446.8v-1.5M533.3 446.8v-1.4M533.8 446.8v-1.5M534.3 446.8v-3.6M534.8 446.8v-1.8M535.3 446.8v-1.7M535.8 446.8v-1.6M536.3 446.8v-2.1M536.8 446.8v-2.0M537.3 446.8v-1.4M537.8 446.8v-1.3M538.3 446.8v-1.4M538.8 446.8v-2.3M539.3 446.8v-2.1M539.8 446.8v-1.5M540.3 446.8v-1.5M540.8 446.8v-1.5M541.3 446.8v-2.0M541.8 446.8v-2.1M542.3 446.8v-1.5M542.8 446.8v-1.5M543.3 446.8v-1.5M543.8 446.8v-3.0M544.3 446.8v-1.8M544.8 446.8v-3.0M545.3 446.8v-1.5M545.8 446.8v-1.9M546.3 446.8v-1.8M546.8 446.8v-2.9M547.3 446.8v-1.6M547.8 446.8v-1.5M548.3 446.8v-2.3M548.8 446.8v-3.1M549.3 446.8v-1.7M549.8 446.8v-1.6M550.3 446.8v-1.4M550.8 446.8v-1.7M551.3 446.8v-2.8M551.8 446.8v-1.6M552.3 446.8v-1.7M552.8 446.8v-1.8M553.3 446.8v-1.5M553.8 446.8v-1.4M554.3 446.8v-1.7M554.8 446.8v-3.3M555.3 446.8v-2.5M555.8 446.8v-1.5M556.3 446.8v-2.2M556.8 446.8v-2.4M557.3 446.8v-1.8M557.8 446.8v-1.6M558.3 446.8v-1.4M558.8 446.8v-2.0M559.3 446.8v-2.0M559.8 446.8v-1.5M560.3 446.8v-1.4M560.8 446.8v-1.4M561.3 446.8v-2.3M561.8 446.8v-2.6M562.3 446.8v-1.7M562.8 446.8v-1.9M563.3 446.8v-2.0M563.8 446.8v-1.4M564.3 446.8v-1.7M564.8 446.8v-1.7M565.3 446.8v-2.5M565.8 446.8v-1.4M566.3 446.8v-2.4M566.8 446.8v-1.4M567.3 446.8v-1.9M567.8 446.8v-2.6M568.3 446.8v-1.4M568.8 446.8v-1.7M569.3 446.8v-1.3M569.8 446.8v-1.7M570.3 446.8v-1.7M570.8 446.8v-3.2M571.3 446.8v-1.7M571.8 446.8v-2.7M572.3 446.8v-2.1M572.8 446.8v-2.4M573.3 446.8v-1.6M573.8 446.8v-1.4M574.3 446.8v-1.9M574.8 446.8v-1.4M575.3 446.8v-1.9M575.8 446.8v-1.4M576.3 446.8v-1.9M576.8 446.8v-2.2M577.3 446.8v-3.2M577.8 446.8v-1.4M578.3 446.8v-1.4M578.8 446.8v-1.6M579.3 446.8v-3.4M579.8 446.8v-1.5M580.3 446.8v-1.7M580.8 446.8v-1.6M581.3 446.8v-1.4M581.8 446.8v-1.8M582.3 446.8v-1.5M582.8 446.8v-1.7M583.3 446.8v-2.1M583.8 446.8v-2.0M584.3 446.8v-1.5M584.8 446.8v-1.9M585.3 446.8v-1.8M585.8 446.8v-2.2M586.3 446.8v-1.3M586.8 446.8v-1.5M587.3 446.8v-2.0M587.8 446.8v-1.8M588.3 446.8v-1.7M588.8 446.8v-1.8M589.3 446.8v-1.9M589.8 446.8v-2.1M590.3 446.8v-2.4M590.8 446.8v-2.2M591.3 446.8v-2.7M591.8 446.8v-1.8M592.3 446.8v-1.4M592.8 446.8v-1.6M593.3 446.8v-2.5M593.8 446.8v-2.2M594.3 446.8v-1.9M594.8 446.8v-1.4M595.3 446.8v-1.4M595.8 446.8v-1.9M596.3 446.8v-1.6M596.8 446.8v-1.4M597.3 446.8v-3.4M597.8 446.8v-1.5M598.3 446.8v-2.8M598.8 446.8v-1.9M599.3 446.8v-3.1M599.8 446.8v-2.2M600.3 446.8v-1.4M600.8 446.8v-1.5M601.3 446.8v-2.5M601.8 446.8v-1.6M602.3 446.8v-1.7M602.8 446.8v-2.1M603.3 446.8v-1.9M603.8 446.8v-2.1M604.3 446.8v-1.7M604.8 446.8v-1.5M605.3 446.8v-2.1M605.8 446.8v-1.4M606.3 446.8v-2.1M606.8 446.8v-2.2M607.3 446.8v-1.4M607.8 446.8v-1.3M608.3 446.8v-2.8M608.8 446.8v-1.4M609.3 446.8v-1.8M609.8 446.8v-1.5M610.3 446.8v-1.4M610.8 446.8v-1.5M611.3 446.8v-1.4M611.8 446.8v-2.4M612.3 446.8v-2.2M612.8 446.8v-2.2M613.3 446.8v-1.4M613.8 446.8v-1.5M614.3 446.8v-1.4M614.8 446.8v-2.4M615.3 446.8v-3.5M615.8 446.8v-3.1M616.3 446.8v-2.4M616.8 446.8v-1.9M617.3 446.8v-1.7M617.8 446.8v-1.4M618.3 446.8v-1.3M618.8 446.8v-1.9M619.3 446.8v-3.2M619.8 446.8v-3.6M620.3 446.8v-1.6M620.8 446.8v-1.7M621.3 446.8v-2.6M621.8 446.8v-1.5M622.3 446.8v-2.1M622.8 446.8v-1.9M623.3 446.8v-1.6M623.8 446.8v-1.6M624.3 446.8v-1.4M624.8 446.8v-1.4M625.3 446.8v-1.5M625.8 446.8v-3.9M626.3 446.8v-2.3M626.8 446.8v-1.3M627.3 446.8v-2.1M627.8 446.8v-1.4M628.3 446.8v-1.8M628.8 446.8v-2.8M629.3 446.8v-2.7M629.8 446.8v-2.6M630.3 446.8v-4.2M630.8 446.8v-1.9M631.3 446.8v-1.3M631.8 446.8v-1.5M632.3 446.8v-2.0M632.8 446.8v-1.8M633.3 446.8v-2.7M633.8 446.8v-1.4M634.3 446.8v-2.6M634.8 446.8v-1.8M635.3 446.8v-1.8M635.8 446.8v-1.4M636.3 446.8v-1.6M636.8 446.8v-1.7M637.3 446.8v-2.1M637.8 446.8v-2.0M638.3 446.8v-1.9M638.8 446.8v-2.0M639.3 446.8v-1.6M639.8 446.8v-1.6M640.3 446.8v-3.6M640.8 446.8v-2.0M641.3 446.8v-1.8M641.8 446.8v-3.3M642.3 446.8v-2.5M642.8 446.8v-2.1M643.3 446.8v-3.6M643.8 446.8v-1.6M644.3 446.8v-2.8M644.8 446.8v-1.8M645.3 446.8v-1.6M645.8 446.8v-1.6M646.3 446.8v-1.3M646.8 446.8v-2.6M647.3 446.8v-3.4M647.8 446.8v-1.6M648.3 446.8v-3.0M648.8 446.8v-1.4M649.3 446.8v-1.7M649.8 446.8v-4.2M650.3 446.8v-1.9M650.8 446.8v-1.4M651.3 446.8v-1.9M651.8 446.8v-1.3M652.3 446.8v-2.1M652.8 446.8v-1.8M653.3 446.8v-1.9M653.8 446.8v-2.0M654.3 446.8v-1.4M654.8 446.8v-2.6M655.3 446.8v-2.2M655.8 446.8v-2.6M656.3 446.8v-1.5M656.8 446.8v-1.5M657.3 446.8v-2.1M657.8 446.8v-2.8M658.3 446.8v-1.8M658.8 446.8v-1.5M659.3 446.8v-1.7M659.8 446.8v-1.5M660.3 446.8v-1.7M660.8 446.8v-3.2M661.3 446.8v-2.0M661.8 446.8v-1.4M662.3 446.8v-2.8M662.8 446.8v-2.5M663.3 446.8v-1.6" stroke="#9ccc3c" stroke-width="0.5" fill="none" opacity="0.9"/>
<path d="" stroke="#9ccc3c" stroke-width="0.6" fill="none" opacity="0.8"/>
<rect x="454.80" y="445.80" width="209.00" height="2.00" fill="#9ccc3c" />
<text x="453.2" y="427.90000000000003" font-size="6.6" text-anchor="end" fill="#9ccc3c" font-weight="normal" >150</text>
<text x="450.2" y="446.2" font-size="6.6" text-anchor="end" fill="#9ccc3c" font-weight="normal" >0</text>
<line x1="455.8" y1="425.8" x2="457.8" y2="425.8" stroke="#9ccc3c" stroke-width="0.7" />
<path d="M454.8 472.5v-1.3M455.3 472.5v-2.4M455.8 472.5v-2.0M456.3 472.5v-1.2M456.8 472.5v-2.1M457.3 472.5v-1.6M457.8 472.5v-1.1M458.3 472.5v-2.7M458.8 472.5v-1.2M459.3 472.5v-1.3M459.8 472.5v-1.4M460.3 472.5v-1.5M460.8 472.5v-1.1M461.3 472.5v-1.7M461.8 472.5v-2.0M462.3 472.5v-1.5M462.8 472.5v-1.9M463.3 472.5v-1.6M463.8 472.5v-2.0M464.3 472.5v-1.2M464.8 472.5v-1.3M465.3 472.5v-1.4M465.8 472.5v-1.1M466.3 472.5v-3.0M466.8 472.5v-1.6M467.3 472.5v-1.1M467.8 472.5v-1.5M468.3 472.5v-1.4M468.8 472.5v-1.2M469.3 472.5v-1.2M469.8 472.5v-1.4M470.3 472.5v-1.1M470.8 472.5v-1.5M471.3 472.5v-1.5M471.8 472.5v-1.2M472.3 472.5v-2.2M472.8 472.5v-1.1M473.3 472.5v-1.2M473.8 472.5v-2.0M474.3 472.5v-1.2M474.8 472.5v-1.4M475.3 472.5v-1.5M475.8 472.5v-1.4M476.3 472.5v-1.4M476.8 472.5v-1.4M477.3 472.5v-1.4M477.8 472.5v-1.1M478.3 472.5v-2.0M478.8 472.5v-1.3M479.3 472.5v-1.1M479.8 472.5v-1.4M480.3 472.5v-2.0M480.8 472.5v-1.6M481.3 472.5v-1.4M481.8 472.5v-1.4M482.3 472.5v-1.2M482.8 472.5v-1.6M483.3 472.5v-1.3M483.8 472.5v-1.1M484.3 472.5v-1.2M484.8 472.5v-1.1M485.3 472.5v-1.7M485.8 472.5v-2.2M486.3 472.5v-1.8M486.8 472.5v-1.2M487.3 472.5v-1.2M487.8 472.5v-2.6M488.3 472.5v-1.3M488.8 472.5v-1.2M489.3 472.5v-1.5M489.8 472.5v-1.6M490.3 472.5v-1.5M490.8 472.5v-1.4M491.3 472.5v-1.3M491.8 472.5v-1.4M492.3 472.5v-1.4M492.8 472.5v-1.7M493.3 472.5v-1.4M493.8 472.5v-1.3M494.3 472.5v-3.3M494.8 472.5v-1.1M495.3 472.5v-1.8M495.8 472.5v-1.4M496.3 472.5v-1.9M496.8 472.5v-1.7M497.3 472.5v-1.5M497.8 472.5v-1.6M498.3 472.5v-1.2M498.8 472.5v-1.1M499.3 472.5v-1.8M499.8 472.5v-1.2M500.3 472.5v-1.1M500.8 472.5v-1.9M501.3 472.5v-1.5M501.8 472.5v-1.1M502.3 472.5v-1.5M502.8 472.5v-1.2M503.3 472.5v-2.1M503.8 472.5v-1.2M504.3 472.5v-2.5M504.8 472.5v-1.6M505.3 472.5v-1.1M505.8 472.5v-1.4M506.3 472.5v-2.8M506.8 472.5v-1.7M507.3 472.5v-1.2M507.8 472.5v-1.3M508.3 472.5v-1.2M508.8 472.5v-1.1M509.3 472.5v-1.5M509.8 472.5v-1.7M510.3 472.5v-1.2M510.8 472.5v-1.5M511.3 472.5v-2.1M511.8 472.5v-2.2M512.3 472.5v-1.2M512.8 472.5v-1.1M513.3 472.5v-2.3M513.8 472.5v-1.3M514.3 472.5v-1.2M514.8 472.5v-1.9M515.3 472.5v-1.2M515.8 472.5v-1.7M516.3 472.5v-1.7M516.8 472.5v-1.3M517.3 472.5v-1.4M517.8 472.5v-1.3M518.3 472.5v-1.9M518.8 472.5v-1.3M519.3 472.5v-1.2M519.8 472.5v-2.1M520.3 472.5v-1.2M520.8 472.5v-1.4M521.3 472.5v-1.5M521.8 472.5v-1.1M522.3 472.5v-1.3M522.8 472.5v-1.8M523.3 472.5v-3.1M523.8 472.5v-1.3M524.3 472.5v-1.4M524.8 472.5v-1.1M525.3 472.5v-1.4M525.8 472.5v-1.3M526.3 472.5v-1.4M526.8 472.5v-1.3M527.3 472.5v-1.3M527.8 472.5v-2.4M528.3 472.5v-1.9M528.8 472.5v-1.3M529.3 472.5v-1.1M529.8 472.5v-1.1M530.3 472.5v-1.1M530.8 472.5v-1.2M531.3 472.5v-1.5M531.8 472.5v-1.5M532.3 472.5v-1.2M532.8 472.5v-2.2M533.3 472.5v-1.7M533.8 472.5v-1.7M534.3 472.5v-2.3M534.8 472.5v-1.3M535.3 472.5v-2.3M535.8 472.5v-3.0M536.3 472.5v-2.3M536.8 472.5v-1.1M537.3 472.5v-2.1M537.8 472.5v-3.2M538.3 472.5v-1.1M538.8 472.5v-2.1M539.3 472.5v-2.0M539.8 472.5v-1.1M540.3 472.5v-1.7M540.8 472.5v-1.8M541.3 472.5v-1.8M541.8 472.5v-1.1M542.3 472.5v-2.9M542.8 472.5v-1.1M543.3 472.5v-1.1M543.8 472.5v-2.6M544.3 472.5v-1.4M544.8 472.5v-1.2M545.3 472.5v-1.3M545.8 472.5v-1.6M546.3 472.5v-1.2M546.8 472.5v-2.4M547.3 472.5v-1.7M547.8 472.5v-1.3M548.3 472.5v-1.3M548.8 472.5v-1.1M549.3 472.5v-3.3M549.8 472.5v-1.3M550.3 472.5v-2.5M550.8 472.5v-1.5M551.3 472.5v-1.5M551.8 472.5v-1.2M552.3 472.5v-1.4M552.8 472.5v-1.1M553.3 472.5v-1.4M553.8 472.5v-1.6M554.3 472.5v-2.4M554.8 472.5v-1.2M555.3 472.5v-1.2M555.8 472.5v-1.9M556.3 472.5v-1.2M556.8 472.5v-1.2M557.3 472.5v-1.4M557.8 472.5v-1.4M558.3 472.5v-3.7M558.8 472.5v-1.1M559.3 472.5v-2.1M559.8 472.5v-1.4M560.3 472.5v-1.2M560.8 472.5v-1.2M561.3 472.5v-2.3M561.8 472.5v-1.2M562.3 472.5v-1.4M562.8 472.5v-1.1M563.3 472.5v-1.4M563.8 472.5v-1.7M564.3 472.5v-1.8M564.8 472.5v-1.3M565.3 472.5v-1.4M565.8 472.5v-2.0M566.3 472.5v-2.2M566.8 472.5v-1.4M567.3 472.5v-1.1M567.8 472.5v-2.5M568.3 472.5v-1.3M568.8 472.5v-1.4M569.3 472.5v-1.1M569.8 472.5v-1.1M570.3 472.5v-1.1M570.8 472.5v-1.5M571.3 472.5v-1.2M571.8 472.5v-1.9M572.3 472.5v-1.2M572.8 472.5v-1.6M573.3 472.5v-1.1M573.8 472.5v-1.3M574.3 472.5v-2.6M574.8 472.5v-1.2M575.3 472.5v-1.3M575.8 472.5v-1.1M576.3 472.5v-2.2M576.8 472.5v-1.4M577.3 472.5v-1.2M577.8 472.5v-1.5M578.3 472.5v-1.2M578.8 472.5v-2.2M579.3 472.5v-1.4M579.8 472.5v-1.1M580.3 472.5v-1.2M580.8 472.5v-1.1M581.3 472.5v-1.8M581.8 472.5v-1.1M582.3 472.5v-1.4M582.8 472.5v-1.5M583.3 472.5v-1.1M583.8 472.5v-1.6M584.3 472.5v-1.6M584.8 472.5v-2.5M585.3 472.5v-2.5M585.8 472.5v-3.1M586.3 472.5v-1.5M586.8 472.5v-1.4M587.3 472.5v-1.4M587.8 472.5v-1.2M588.3 472.5v-1.6M588.8 472.5v-4.0M589.3 472.5v-1.4M589.8 472.5v-2.1M590.3 472.5v-1.2M590.8 472.5v-1.3M591.3 472.5v-1.4M591.8 472.5v-2.9M592.3 472.5v-1.3M592.8 472.5v-1.8M593.3 472.5v-1.2M593.8 472.5v-1.8M594.3 472.5v-1.4M594.8 472.5v-3.6M595.3 472.5v-1.1M595.8 472.5v-1.2M596.3 472.5v-2.2M596.8 472.5v-1.4M597.3 472.5v-1.3M597.8 472.5v-2.1M598.3 472.5v-1.4M598.8 472.5v-2.2M599.3 472.5v-1.5M599.8 472.5v-1.1M600.3 472.5v-1.1M600.8 472.5v-2.1M601.3 472.5v-2.3M601.8 472.5v-1.2M602.3 472.5v-3.8M602.8 472.5v-2.0M603.3 472.5v-1.5M603.8 472.5v-1.8M604.3 472.5v-1.5M604.8 472.5v-1.1M605.3 472.5v-1.3M605.8 472.5v-1.3M606.3 472.5v-2.3M606.8 472.5v-1.2M607.3 472.5v-1.7M607.8 472.5v-1.6M608.3 472.5v-1.1M608.8 472.5v-1.4M609.3 472.5v-1.5M609.8 472.5v-1.8M610.3 472.5v-1.3M610.8 472.5v-3.4M611.3 472.5v-1.9M611.8 472.5v-1.1M612.3 472.5v-2.2M612.8 472.5v-1.6M613.3 472.5v-2.5M613.8 472.5v-1.2M614.3 472.5v-1.9M614.8 472.5v-1.7M615.3 472.5v-1.3M615.8 472.5v-1.3M616.3 472.5v-1.6M616.8 472.5v-3.1M617.3 472.5v-1.7M617.8 472.5v-1.6M618.3 472.5v-1.7M618.8 472.5v-2.0M619.3 472.5v-1.5M619.8 472.5v-1.7M620.3 472.5v-1.1M620.8 472.5v-2.1M621.3 472.5v-2.8M621.8 472.5v-1.5M622.3 472.5v-1.5M622.8 472.5v-2.5M623.3 472.5v-1.5M623.8 472.5v-2.2M624.3 472.5v-1.5M624.8 472.5v-1.5M625.3 472.5v-2.4M625.8 472.5v-2.4M626.3 472.5v-1.6M626.8 472.5v-1.5M627.3 472.5v-1.5M627.8 472.5v-1.4M628.3 472.5v-1.3M628.8 472.5v-1.2M629.3 472.5v-1.3M629.8 472.5v-1.2M630.3 472.5v-2.6M630.8 472.5v-1.4M631.3 472.5v-2.2M631.8 472.5v-1.4M632.3 472.5v-4.0M632.8 472.5v-1.5M633.3 472.5v-1.3M633.8 472.5v-1.4M634.3 472.5v-1.2M634.8 472.5v-1.3M635.3 472.5v-1.3M635.8 472.5v-1.2M636.3 472.5v-1.3M636.8 472.5v-1.1M637.3 472.5v-2.6M637.8 472.5v-1.9M638.3 472.5v-1.3M638.8 472.5v-2.0M639.3 472.5v-1.1M639.8 472.5v-1.6M640.3 472.5v-1.5M640.8 472.5v-2.2M641.3 472.5v-3.1M641.8 472.5v-1.6M642.3 472.5v-2.0M642.8 472.5v-1.7M643.3 472.5v-1.1M643.8 472.5v-1.1M644.3 472.5v-1.1M644.8 472.5v-1.8M645.3 472.5v-1.4M645.8 472.5v-1.3M646.3 472.5v-1.4M646.8 472.5v-2.5M647.3 472.5v-1.4M647.8 472.5v-2.0M648.3 472.5v-1.3M648.8 472.5v-1.6M649.3 472.5v-1.9M649.8 472.5v-1.2M650.3 472.5v-2.3M650.8 472.5v-1.2M651.3 472.5v-1.2M651.8 472.5v-2.9M652.3 472.5v-1.2M652.8 472.5v-1.4M653.3 472.5v-2.5M653.8 472.5v-1.2M654.3 472.5v-1.6M654.8 472.5v-1.7M655.3 472.5v-1.1M655.8 472.5v-1.1M656.3 472.5v-3.2M656.8 472.5v-2.0M657.3 472.5v-1.7M657.8 472.5v-1.6M658.3 472.5v-1.4M658.8 472.5v-2.3M659.3 472.5v-1.1M659.8 472.5v-1.3M660.3 472.5v-1.3M660.8 472.5v-1.6M661.3 472.5v-2.5M661.8 472.5v-1.2M662.3 472.5v-1.1M662.8 472.5v-1.2M663.3 472.5v-2.1" stroke="#46b39e" stroke-width="0.5" fill="none" opacity="0.9"/>
<path d="M500.0 472.5v-2.0M548.0 472.5v-2.0" stroke="#46b39e" stroke-width="0.6" fill="none" opacity="0.8"/>
<rect x="454.80" y="471.70" width="209.00" height="1.60" fill="#46b39e" />
<text x="453.2" y="453.6" font-size="6.6" text-anchor="end" fill="#46b39e" font-weight="normal" >150</text>
<text x="450.2" y="471.9" font-size="6.6" text-anchor="end" fill="#46b39e" font-weight="normal" >0</text>
<line x1="455.8" y1="451.5" x2="457.8" y2="451.5" stroke="#46b39e" stroke-width="0.7" />
<line x1="516.4" y1="473.2" x2="548.6" y2="473.2" stroke="#666" stroke-width="0.8" />
<text x="486.9" y="482" font-size="7.2" text-anchor="start" fill="#111" font-weight="normal" >ROR1</text>
<line x1="507.5" y1="479.3" x2="614.5" y2="479.3" stroke="#2b2b9a" stroke-width="0.6" />
<path d="M509.1 478.3L510.0 479.3L509.1 480.3M511.8 478.3L512.7 479.3L511.8 480.3M514.5 478.3L515.4 479.3L514.5 480.3M517.2 478.3L518.1 479.3L517.2 480.3M519.9 478.3L520.8 479.3L519.9 480.3M522.6 478.3L523.5 479.3L522.6 480.3M525.3 478.3L526.2 479.3L525.3 480.3M528.0 478.3L528.9 479.3L528.0 480.3M530.7 478.3L531.6 479.3L530.7 480.3M533.4 478.3L534.3 479.3L533.4 480.3M536.1 478.3L537.0 479.3L536.1 480.3M538.8 478.3L539.7 479.3L538.8 480.3M541.5 478.3L542.4 479.3L541.5 480.3M544.2 478.3L545.1 479.3L544.2 480.3M546.9 478.3L547.8 479.3L546.9 480.3M549.6 478.3L550.5 479.3L549.6 480.3M552.3 478.3L553.2 479.3L552.3 480.3M555.0 478.3L555.9 479.3L555.0 480.3M557.7 478.3L558.6 479.3L557.7 480.3M560.4 478.3L561.3 479.3L560.4 480.3M563.1 478.3L564.0 479.3L563.1 480.3M565.8 478.3L566.7 479.3L565.8 480.3M568.5 478.3L569.4 479.3L568.5 480.3M571.2 478.3L572.1 479.3L571.2 480.3M573.9 478.3L574.8 479.3L573.9 480.3M576.6 478.3L577.5 479.3L576.6 480.3M579.3 478.3L580.2 479.3L579.3 480.3M582.0 478.3L582.9 479.3L582.0 480.3M584.7 478.3L585.6 479.3L584.7 480.3M587.4 478.3L588.3 479.3L587.4 480.3M590.1 478.3L591.0 479.3L590.1 480.3M592.8 478.3L593.7 479.3L592.8 480.3M595.5 478.3L596.4 479.3L595.5 480.3M598.2 478.3L599.1 479.3L598.2 480.3M600.9 478.3L601.8 479.3L600.9 480.3M603.6 478.3L604.5 479.3L603.6 480.3M606.3 478.3L607.2 479.3L606.3 480.3M609.0 478.3L609.9 479.3L609.0 480.3" stroke="#2b2b9a" stroke-width="0.45" fill="none"/>
<line x1="569.4" y1="476.3" x2="569.4" y2="482.3" stroke="#2b2b9a" stroke-width="0.7" />
<line x1="580.3" y1="476.3" x2="580.3" y2="482.3" stroke="#2b2b9a" stroke-width="0.7" />
<line x1="608.3" y1="476.3" x2="608.3" y2="482.3" stroke="#2b2b9a" stroke-width="0.7" />
<rect x="507.30" y="476.30" width="1.10" height="6.00" fill="#2b2b9a" />
<rect x="602.30" y="476.30" width="2.00" height="6.00" fill="#2b2b9a" />
<rect x="612.30" y="476.30" width="2.20" height="6.00" fill="#2b2b9a" />
<text x="53.2" y="531.5" font-size="11" text-anchor="start" fill="#111" font-weight="bold" >E</text>
<line x1="117.3" y1="544.4" x2="117.3" y2="645.9" stroke="#c8c8c8" stroke-width="0.9" />
<line x1="117.3" y1="645.9" x2="167" y2="645.9" stroke="#c8c8c8" stroke-width="0.9" />
<line x1="115.1" y1="544.4" x2="117.3" y2="544.4" stroke="#c8c8c8" stroke-width="0.8" />
<text x="114.7" y="546.9" font-size="8.2" text-anchor="end" fill="#1a1a1a" font-weight="normal" >14.4</text>
<line x1="115.1" y1="564.6999999999999" x2="117.3" y2="564.6999999999999" stroke="#c8c8c8" stroke-width="0.8" />
<text x="114.7" y="567.1999999999999" font-size="8.2" text-anchor="end" fill="#1a1a1a" font-weight="normal" >14.2</text>
<line x1="115.1" y1="585.0" x2="117.3" y2="585.0" stroke="#c8c8c8" stroke-width="0.8" />
<text x="114.7" y="587.5" font-size="8.2" text-anchor="end" fill="#1a1a1a" font-weight="normal" >14.0</text>
<line x1="115.1" y1="605.3" x2="117.3" y2="605.3" stroke="#c8c8c8" stroke-width="0.8" />
<text x="114.7" y="607.8" font-size="8.2" text-anchor="end" fill="#1a1a1a" font-weight="normal" >13.8</text>
<line x1="115.1" y1="625.6" x2="117.3" y2="625.6" stroke="#c8c8c8" stroke-width="0.8" />
<text x="114.7" y="628.1" font-size="8.2" text-anchor="end" fill="#1a1a1a" font-weight="normal" >13.6</text>
<line x1="115.1" y1="645.9" x2="117.3" y2="645.9" stroke="#c8c8c8" stroke-width="0.8" />
<text x="114.7" y="648.4" font-size="8.2" text-anchor="end" fill="#1a1a1a" font-weight="normal" >13.4</text>
<line x1="203.2" y1="544.3" x2="203.2" y2="646.4" stroke="#c8c8c8" stroke-width="0.9" />
<line x1="203.2" y1="646.4" x2="252.8" y2="646.4" stroke="#c8c8c8" stroke-width="0.9" />
<line x1="201.0" y1="544.3" x2="203.2" y2="544.3" stroke="#c8c8c8" stroke-width="0.8" />
<text x="200.8" y="546.8" font-size="8.2" text-anchor="end" fill="#1a1a1a" font-weight="normal" >13.8</text>
<line x1="201.0" y1="569.8249999999999" x2="203.2" y2="569.8249999999999" stroke="#c8c8c8" stroke-width="0.8" />
<text x="200.8" y="572.3249999999999" font-size="8.2" text-anchor="end" fill="#1a1a1a" font-weight="normal" >13.6</text>
<line x1="201.0" y1="595.3499999999999" x2="203.2" y2="595.3499999999999" stroke="#c8c8c8" stroke-width="0.8" />
<text x="200.8" y="597.8499999999999" font-size="8.2" text-anchor="end" fill="#1a1a1a" font-weight="normal" >13.4</text>
<line x1="201.0" y1="620.875" x2="203.2" y2="620.875" stroke="#c8c8c8" stroke-width="0.8" />
<text x="200.8" y="623.375" font-size="8.2" text-anchor="end" fill="#1a1a1a" font-weight="normal" >13.2</text>
<line x1="201.0" y1="646.4" x2="203.2" y2="646.4" stroke="#c8c8c8" stroke-width="0.8" />
<text x="200.8" y="648.9" font-size="8.2" text-anchor="end" fill="#1a1a1a" font-weight="normal" >13.0</text>
<line x1="347.3" y1="545.3" x2="347.3" y2="645.2" stroke="#c8c8c8" stroke-width="0.9" />
<line x1="347.3" y1="645.2" x2="395.5" y2="645.2" stroke="#c8c8c8" stroke-width="0.9" />
<line x1="345.1" y1="545.3" x2="347.3" y2="545.3" stroke="#c8c8c8" stroke-width="0.8" />
<text x="342.6" y="547.8" font-size="8.2" text-anchor="end" fill="#1a1a1a" font-weight="normal" >12.2</text>
<line x1="345.1" y1="565.28" x2="347.3" y2="565.28" stroke="#c8c8c8" stroke-width="0.8" />
<text x="342.6" y="567.78" font-size="8.2" text-anchor="end" fill="#1a1a1a" font-weight="normal" >12.0</text>
<line x1="345.1" y1="585.26" x2="347.3" y2="585.26" stroke="#c8c8c8" stroke-width="0.8" />
<text x="342.6" y="587.76" font-size="8.2" text-anchor="end" fill="#1a1a1a" font-weight="normal" >11.8</text>
<line x1="345.1" y1="605.24" x2="347.3" y2="605.24" stroke="#c8c8c8" stroke-width="0.8" />
<text x="342.6" y="607.74" font-size="8.2" text-anchor="end" fill="#1a1a1a" font-weight="normal" >11.6</text>
<line x1="345.1" y1="625.22" x2="347.3" y2="625.22" stroke="#c8c8c8" stroke-width="0.8" />
<text x="342.6" y="627.72" font-size="8.2" text-anchor="end" fill="#1a1a1a" font-weight="normal" >11.4</text>
<line x1="345.1" y1="645.2" x2="347.3" y2="645.2" stroke="#c8c8c8" stroke-width="0.8" />
<text x="342.6" y="647.7" font-size="8.2" text-anchor="end" fill="#1a1a1a" font-weight="normal" >11.2</text>
<line x1="434.1" y1="545.5" x2="434.1" y2="645.4" stroke="#c8c8c8" stroke-width="0.9" />
<line x1="434.1" y1="645.4" x2="482.7" y2="645.4" stroke="#c8c8c8" stroke-width="0.9" />
<line x1="431.90000000000003" y1="545.5" x2="434.1" y2="545.5" stroke="#c8c8c8" stroke-width="0.8" />
<text x="431.5" y="548.0" font-size="8.2" text-anchor="end" fill="#1a1a1a" font-weight="normal" >10.8</text>
<line x1="431.90000000000003" y1="570.475" x2="434.1" y2="570.475" stroke="#c8c8c8" stroke-width="0.8" />
<text x="431.5" y="572.975" font-size="8.2" text-anchor="end" fill="#1a1a1a" font-weight="normal" >10.6</text>
<line x1="431.90000000000003" y1="595.45" x2="434.1" y2="595.45" stroke="#c8c8c8" stroke-width="0.8" />
<text x="431.5" y="597.95" font-size="8.2" text-anchor="end" fill="#1a1a1a" font-weight="normal" >10.4</text>
<line x1="431.90000000000003" y1="620.425" x2="434.1" y2="620.425" stroke="#c8c8c8" stroke-width="0.8" />
<text x="431.5" y="622.925" font-size="8.2" text-anchor="end" fill="#1a1a1a" font-weight="normal" >10.2</text>
<line x1="431.90000000000003" y1="645.4" x2="434.1" y2="645.4" stroke="#c8c8c8" stroke-width="0.8" />
<text x="431.5" y="647.9" font-size="8.2" text-anchor="end" fill="#1a1a1a" font-weight="normal" >10.0</text>
<text transform="translate(89.6,597.2) rotate(-90)" font-size="8.3" text-anchor="middle" fill="#1a1a1a">MSI2 mRNA expression</text>
<text transform="translate(319.7,594.5) rotate(-90)" font-size="8.3" text-anchor="middle" fill="#1a1a1a">ROR1 mRNA expression</text>
<polygon points="121.35,561.20 121.16,561.40 121.10,561.60 121.16,561.80 121.35,562.00 121.65,562.20 122.02,562.40 122.44,562.60 122.88,562.80 123.30,563.00 123.69,563.20 124.02,563.40 124.29,563.60 124.51,563.80 124.67,564.00 124.78,564.20 124.78,564.40 124.78,564.60 124.78,564.80 124.78,565.00 124.78,565.20 124.78,565.40 124.78,565.60 124.78,565.80 124.78,566.00 124.78,566.20 124.78,566.40 124.77,566.60 124.65,566.80 124.50,567.00 124.31,567.20 124.09,567.40 123.85,567.60 123.59,567.80 123.35,568.00 123.14,568.20 122.98,568.40 122.90,568.60 122.89,568.70 127.11,568.70 127.10,568.60 127.02,568.40 126.86,568.20 126.65,568.00 126.41,567.80 126.15,567.60 125.91,567.40 125.69,567.20 125.50,567.00 125.35,566.80 125.23,566.60 125.22,566.40 125.22,566.20 125.22,566.00 125.22,565.80 125.22,565.60 125.22,565.40 125.22,565.20 125.22,565.00 125.22,564.80 125.22,564.60 125.22,564.40 125.22,564.20 125.33,564.00 125.49,563.80 125.71,563.60 125.98,563.40 126.31,563.20 126.70,563.00 127.12,562.80 127.56,562.60 127.98,562.40 128.35,562.20 128.65,562.00 128.84,561.80 128.90,561.60 128.84,561.40 128.65,561.20" fill="#8fd43a"/>
<circle cx="125.0" cy="561.2" r="0.7" fill="none" stroke="#666" stroke-width="0.3"/>
<circle cx="125.0" cy="562.0" r="0.7" fill="none" stroke="#666" stroke-width="0.3"/>
<circle cx="125.0" cy="568.7" r="0.7" fill="none" stroke="#666" stroke-width="0.3"/>
<polygon points="132.40,610.90 132.43,611.10 132.52,611.30 132.66,611.50 132.85,611.70 133.07,611.90 133.33,612.10 133.61,612.30 133.89,612.50 134.18,612.70 134.46,612.90 134.72,613.10 134.95,613.30 135.17,613.50 135.35,613.70 135.50,613.90 135.62,614.10 135.72,614.30 135.78,614.50 135.81,614.70 135.81,614.90 135.78,615.10 135.72,615.30 135.62,615.50 135.50,615.70 135.35,615.90 135.17,616.10 134.95,616.30 134.72,616.50 134.46,616.70 134.18,616.90 133.89,617.10 133.61,617.30 133.33,617.50 133.07,617.70 132.85,617.90 132.66,618.10 132.52,618.30 132.43,618.50 132.40,618.70 132.43,618.90 132.52,619.10 132.66,619.30 132.85,619.50 133.07,619.70 133.33,619.90 133.60,620.10 133.88,620.30 134.17,620.50 134.44,620.70 134.69,620.90 134.92,621.10 135.11,621.30 135.28,621.50 135.40,621.70 135.49,621.90 135.54,622.10 135.55,622.30 135.52,622.50 135.45,622.70 135.34,622.90 135.20,623.10 135.02,623.30 134.81,623.50 134.57,623.70 134.30,623.90 134.03,624.10 133.74,624.30 133.46,624.50 133.20,624.70 132.95,624.90 132.75,625.10 132.58,625.30 132.47,625.50 132.41,625.70 132.40,625.80 140.00,625.80 139.99,625.70 139.93,625.50 139.82,625.30 139.65,625.10 139.45,624.90 139.20,624.70 138.94,624.50 138.66,624.30 138.37,624.10 138.10,623.90 137.83,623.70 137.59,623.50 137.38,623.30 137.20,623.10 137.06,622.90 136.95,622.70 136.88,622.50 136.85,622.30 136.86,622.10 136.91,621.90 137.00,621.70 137.12,621.50 137.29,621.30 137.48,621.10 137.71,620.90 137.96,620.70 138.23,620.50 138.52,620.30 138.80,620.10 139.07,619.90 139.33,619.70 139.55,619.50 139.74,619.30 139.88,619.10 139.97,618.90 140.00,618.70 139.97,618.50 139.88,618.30 139.74,618.10 139.55,617.90 139.33,617.70 139.07,617.50 138.79,617.30 138.51,617.10 138.22,616.90 137.94,616.70 137.68,616.50 137.45,616.30 137.23,616.10 137.05,615.90 136.90,615.70 136.78,615.50 136.68,615.30 136.62,615.10 136.59,614.90 136.59,614.70 136.62,614.50 136.68,614.30 136.78,614.10 136.90,613.90 137.05,613.70 137.23,613.50 137.45,613.30 137.68,613.10 137.94,612.90 138.22,612.70 138.51,612.50 138.79,612.30 139.07,612.10 139.33,611.90 139.55,611.70 139.74,611.50 139.88,611.30 139.97,611.10 140.00,610.90" fill="#ee3e55"/>
<circle cx="136.2" cy="610.9" r="0.7" fill="none" stroke="#666" stroke-width="0.3"/>
<circle cx="136.2" cy="618.7" r="0.7" fill="none" stroke="#666" stroke-width="0.3"/>
<circle cx="136.2" cy="625.8" r="0.7" fill="none" stroke="#666" stroke-width="0.3"/>
<polygon points="143.70,551.90 143.73,552.10 143.85,552.30 144.03,552.50 144.27,552.70 144.53,552.90 144.81,553.10 145.07,553.30 145.29,553.50 145.45,553.70 145.55,553.90 145.57,554.10 145.51,554.30 145.38,554.50 145.18,554.70 144.94,554.90 144.67,555.10 144.40,555.30 144.14,555.50 143.93,555.70 143.78,555.90 143.71,556.10 143.71,556.30 143.81,556.50 143.98,556.70 144.22,556.90 144.52,557.10 144.85,557.30 145.20,557.50 145.55,557.70 145.89,557.90 146.19,558.10 146.46,558.30 146.69,558.50 146.88,558.70 147.02,558.90 147.12,559.10 147.18,559.30 147.20,559.50 147.18,559.70 147.12,559.90 147.02,560.10 146.88,560.30 146.69,560.50 146.46,560.70 146.19,560.90 145.89,561.10 145.55,561.30 145.20,561.50 144.85,561.70 144.52,561.90 144.23,562.10 143.99,562.30 143.82,562.50 143.73,562.70 143.72,562.80 151.28,562.80 151.27,562.70 151.18,562.50 151.01,562.30 150.77,562.10 150.48,561.90 150.15,561.70 149.80,561.50 149.45,561.30 149.11,561.10 148.81,560.90 148.54,560.70 148.31,560.50 148.12,560.30 147.98,560.10 147.88,559.90 147.82,559.70 147.80,559.50 147.82,559.30 147.88,559.10 147.98,558.90 148.12,558.70 148.31,558.50 148.54,558.30 148.81,558.10 149.11,557.90 149.45,557.70 149.80,557.50 150.15,557.30 150.48,557.10 150.78,556.90 151.02,556.70 151.19,556.50 151.29,556.30 151.29,556.10 151.22,555.90 151.07,555.70 150.86,555.50 150.60,555.30 150.33,555.10 150.06,554.90 149.82,554.70 149.62,554.50 149.49,554.30 149.43,554.10 149.45,553.90 149.55,553.70 149.71,553.50 149.93,553.30 150.19,553.10 150.47,552.90 150.73,552.70 150.97,552.50 151.15,552.30 151.27,552.10 151.30,551.90" fill="#2e9a3c"/>
<circle cx="147.5" cy="551.9" r="0.7" fill="none" stroke="#666" stroke-width="0.3"/>
<circle cx="147.5" cy="556.2" r="0.7" fill="none" stroke="#666" stroke-width="0.3"/>
<circle cx="147.5" cy="562.8" r="0.7" fill="none" stroke="#666" stroke-width="0.3"/>
<polygon points="155.37,600.80 155.17,601.00 155.10,601.20 155.17,601.40 155.37,601.60 155.69,601.80 156.08,602.00 156.52,602.20 156.95,602.40 157.36,602.60 157.71,602.80 158.00,603.00 158.23,603.20 158.39,603.40 158.48,603.60 158.48,603.80 158.48,604.00 158.48,604.20 158.47,604.40 158.36,604.60 158.20,604.80 158.00,605.00 157.76,605.20 157.49,605.40 157.23,605.60 157.00,605.80 156.82,606.00 156.73,606.20 156.71,606.30 160.69,606.30 160.67,606.20 160.58,606.00 160.40,605.80 160.17,605.60 159.91,605.40 159.64,605.20 159.40,605.00 159.20,604.80 159.04,604.60 158.93,604.40 158.92,604.20 158.92,604.00 158.92,603.80 158.92,603.60 159.01,603.40 159.17,603.20 159.40,603.00 159.69,602.80 160.04,602.60 160.45,602.40 160.88,602.20 161.32,602.00 161.71,601.80 162.03,601.60 162.23,601.40 162.30,601.20 162.23,601.00 162.03,600.80" fill="#b04462"/>
<circle cx="158.7" cy="600.8" r="0.7" fill="none" stroke="#666" stroke-width="0.3"/>
<circle cx="158.7" cy="601.6" r="0.7" fill="none" stroke="#666" stroke-width="0.3"/>
<circle cx="158.7" cy="606.3" r="0.7" fill="none" stroke="#666" stroke-width="0.3"/>
<line x1="124.9" y1="557.4" x2="136.9" y2="557.4" stroke="#bbb" stroke-width="0.7" />
<text x="130.9" y="559.9" font-size="8.5" text-anchor="middle" fill="#333" font-weight="normal" >****</text>
<line x1="147.5" y1="550.2" x2="160.6" y2="550.2" stroke="#bbb" stroke-width="0.7" />
<text x="154.05" y="552.9" font-size="8.5" text-anchor="middle" fill="#333" font-weight="normal" >****</text>
<polygon points="208.96,569.20 208.98,569.40 209.02,569.60 209.09,569.80 209.18,570.00 209.30,570.20 209.44,570.40 209.60,570.60 209.77,570.80 209.95,571.00 210.15,571.20 210.35,571.40 210.55,571.60 210.76,571.80 210.96,572.00 211.15,572.20 211.34,572.40 211.52,572.60 211.69,572.80 211.85,573.00 211.99,573.20 212.13,573.40 212.25,573.60 212.36,573.80 212.45,574.00 212.54,574.20 212.61,574.40 212.68,574.60 212.73,574.80 212.78,575.00 212.78,575.20 212.78,575.40 212.78,575.60 212.78,575.80 212.78,576.00 212.78,576.20 212.78,576.40 212.78,576.60 212.78,576.80 212.78,577.00 212.78,577.20 212.78,577.40 212.78,577.60 212.78,577.80 212.78,578.00 212.78,578.20 212.78,578.40 212.78,578.60 212.78,578.80 212.78,579.00 212.78,579.20 212.78,579.40 212.78,579.60 212.78,579.80 212.78,580.00 212.78,580.20 212.78,580.40 212.78,580.60 212.78,580.80 212.78,581.00 212.78,581.20 212.78,581.40 212.78,581.60 212.78,581.80 212.78,582.00 212.78,582.20 212.78,582.40 212.78,582.60 212.78,582.80 212.78,583.00 212.78,583.20 212.78,583.40 212.78,583.60 212.78,583.80 212.78,584.00 212.78,584.20 212.78,584.40 212.76,584.60 212.71,584.80 212.65,585.00 212.58,585.20 212.50,585.40 212.40,585.60 212.30,585.80 212.19,586.00 212.06,586.20 211.91,586.40 211.76,586.60 211.59,586.80 211.41,587.00 211.22,587.20 211.02,587.40 210.82,587.60 210.60,587.80 210.39,588.00 210.17,588.20 209.95,588.40 209.73,588.60 209.52,588.80 209.32,589.00 209.13,589.20 208.95,589.40 208.78,589.60 208.63,589.80 208.49,590.00 208.37,590.20 208.27,590.40 208.18,590.60 208.11,590.80 208.05,591.00 208.01,591.20 207.97,591.40 207.95,591.60 207.93,591.80 207.91,592.00 207.91,592.20 207.90,592.40 207.90,592.60 207.90,592.80 207.91,593.00 207.91,593.20 207.93,593.40 207.95,593.60 207.97,593.80 208.01,594.00 208.05,594.20 208.11,594.40 208.18,594.60 208.27,594.80 208.32,594.90 217.68,594.90 217.73,594.80 217.82,594.60 217.89,594.40 217.95,594.20 217.99,594.00 218.03,593.80 218.05,593.60 218.07,593.40 218.09,593.20 218.09,593.00 218.10,592.80 218.10,592.60 218.10,592.40 218.09,592.20 218.09,592.00 218.07,591.80 218.05,591.60 218.03,591.40 217.99,591.20 217.95,591.00 217.89,590.80 217.82,590.60 217.73,590.40 217.63,590.20 217.51,590.00 217.37,589.80 217.22,589.60 217.05,589.40 216.87,589.20 216.68,589.00 216.48,588.80 216.27,588.60 216.05,588.40 215.83,588.20 215.61,588.00 215.40,587.80 215.18,587.60 214.98,587.40 214.78,587.20 214.59,587.00 214.41,586.80 214.24,586.60 214.09,586.40 213.94,586.20 213.81,586.00 213.70,585.80 213.60,585.60 213.50,585.40 213.42,585.20 213.35,585.00 213.29,584.80 213.24,584.60 213.22,584.40 213.22,584.20 213.22,584.00 213.22,583.80 213.22,583.60 213.22,583.40 213.22,583.20 213.22,583.00 213.22,582.80 213.22,582.60 213.22,582.40 213.22,582.20 213.22,582.00 213.22,581.80 213.22,581.60 213.22,581.40 213.22,581.20 213.22,581.00 213.22,580.80 213.22,580.60 213.22,580.40 213.22,580.20 213.22,580.00 213.22,579.80 213.22,579.60 213.22,579.40 213.22,579.20 213.22,579.00 213.22,578.80 213.22,578.60 213.22,578.40 213.22,578.20 213.22,578.00 213.22,577.80 213.22,577.60 213.22,577.40 213.22,577.20 213.22,577.00 213.22,576.80 213.22,576.60 213.22,576.40 213.22,576.20 213.22,576.00 213.22,575.80 213.22,575.60 213.22,575.40 213.22,575.20 213.22,575.00 213.27,574.80 213.32,574.60 213.39,574.40 213.46,574.20 213.55,574.00 213.64,573.80 213.75,573.60 213.87,573.40 214.01,573.20 214.15,573.00 214.31,572.80 214.48,572.60 214.66,572.40 214.85,572.20 215.04,572.00 215.24,571.80 215.45,571.60 215.65,571.40 215.85,571.20 216.05,571.00 216.23,570.80 216.40,570.60 216.56,570.40 216.70,570.20 216.82,570.00 216.91,569.80 216.98,569.60 217.02,569.40 217.04,569.20" fill="#f08c8c"/>
<circle cx="213.0" cy="569.2" r="0.7" fill="none" stroke="#666" stroke-width="0.3"/>
<circle cx="213.0" cy="590.3" r="0.7" fill="none" stroke="#666" stroke-width="0.3"/>
<circle cx="213.0" cy="594.9" r="0.7" fill="none" stroke="#666" stroke-width="0.3"/>
<polygon points="223.16,627.20 223.10,627.40 223.16,627.60 223.34,627.80 223.63,628.00 223.99,628.20 224.42,628.40 224.87,628.60 225.33,628.80 225.76,629.00 226.16,629.20 226.51,629.40 226.80,629.60 227.04,629.80 227.23,630.00 227.37,630.20 227.48,630.40 227.48,630.60 227.48,630.80 227.48,631.00 227.48,631.20 227.48,631.40 227.48,631.60 227.48,631.80 227.48,632.00 227.48,632.20 227.48,632.40 227.48,632.60 227.48,632.80 227.48,633.00 227.48,633.20 227.38,633.40 227.27,633.60 227.12,633.80 226.94,634.00 226.74,634.20 226.52,634.40 226.29,634.60 226.05,634.80 225.83,635.00 225.64,635.20 225.49,635.40 225.40,635.60 225.37,635.80 230.03,635.80 230.00,635.60 229.91,635.40 229.76,635.20 229.57,635.00 229.35,634.80 229.11,634.60 228.88,634.40 228.66,634.20 228.46,634.00 228.28,633.80 228.13,633.60 228.02,633.40 227.92,633.20 227.92,633.00 227.92,632.80 227.92,632.60 227.92,632.40 227.92,632.20 227.92,632.00 227.92,631.80 227.92,631.60 227.92,631.40 227.92,631.20 227.92,631.00 227.92,630.80 227.92,630.60 227.92,630.40 228.03,630.20 228.17,630.00 228.36,629.80 228.60,629.60 228.89,629.40 229.24,629.20 229.64,629.00 230.07,628.80 230.53,628.60 230.98,628.40 231.41,628.20 231.77,628.00 232.06,627.80 232.24,627.60 232.30,627.40 232.24,627.20" fill="#8eacec"/>
<circle cx="227.7" cy="627.2" r="0.7" fill="none" stroke="#666" stroke-width="0.3"/>
<circle cx="227.7" cy="627.6" r="0.7" fill="none" stroke="#666" stroke-width="0.3"/>
<circle cx="227.7" cy="635.8" r="0.7" fill="none" stroke="#666" stroke-width="0.3"/>
<polygon points="237.91,568.60 237.95,568.80 238.05,569.00 238.22,569.20 238.45,569.40 238.72,569.60 239.04,569.80 239.37,570.00 239.72,570.20 240.06,570.40 240.40,570.60 240.72,570.80 241.01,571.00 241.27,571.20 241.51,571.40 241.71,571.60 241.88,571.80 242.02,572.00 242.13,572.20 242.22,572.40 242.28,572.60 242.28,572.80 242.28,573.00 242.28,573.20 242.28,573.40 242.28,573.60 242.28,573.80 242.28,574.00 242.28,574.20 242.28,574.40 242.22,574.60 242.13,574.80 242.02,575.00 241.88,575.20 241.71,575.40 241.51,575.60 241.27,575.80 241.01,576.00 240.72,576.20 240.40,576.40 240.06,576.60 239.72,576.80 239.37,577.00 239.03,577.20 238.72,577.40 238.45,577.60 238.22,577.80 238.05,578.00 237.94,578.20 237.90,578.40 237.93,578.60 238.03,578.80 238.19,579.00 238.40,579.20 238.65,579.40 238.93,579.60 239.22,579.80 239.51,580.00 239.79,580.20 240.03,580.40 240.24,580.60 240.39,580.80 240.48,581.00 240.51,581.20 240.48,581.40 240.39,581.60 240.24,581.80 240.03,582.00 239.79,582.20 239.51,582.40 239.22,582.60 238.93,582.80 238.65,583.00 238.40,583.20 238.19,583.40 238.03,583.60 237.93,583.80 237.90,584.00 247.10,584.00 247.07,583.80 246.97,583.60 246.81,583.40 246.60,583.20 246.35,583.00 246.07,582.80 245.78,582.60 245.49,582.40 245.21,582.20 244.97,582.00 244.76,581.80 244.61,581.60 244.52,581.40 244.49,581.20 244.52,581.00 244.61,580.80 244.76,580.60 244.97,580.40 245.21,580.20 245.49,580.00 245.78,579.80 246.07,579.60 246.35,579.40 246.60,579.20 246.81,579.00 246.97,578.80 247.07,578.60 247.10,578.40 247.06,578.20 246.95,578.00 246.78,577.80 246.55,577.60 246.28,577.40 245.97,577.20 245.63,577.00 245.28,576.80 244.94,576.60 244.60,576.40 244.28,576.20 243.99,576.00 243.73,575.80 243.49,575.60 243.29,575.40 243.12,575.20 242.98,575.00 242.87,574.80 242.78,574.60 242.72,574.40 242.72,574.20 242.72,574.00 242.72,573.80 242.72,573.60 242.72,573.40 242.72,573.20 242.72,573.00 242.72,572.80 242.72,572.60 242.78,572.40 242.87,572.20 242.98,572.00 243.12,571.80 243.29,571.60 243.49,571.40 243.73,571.20 243.99,571.00 244.28,570.80 244.60,570.60 244.94,570.40 245.28,570.20 245.63,570.00 245.96,569.80 246.28,569.60 246.55,569.40 246.78,569.20 246.95,569.00 247.05,568.80 247.09,568.60" fill="#a31e12"/>
<circle cx="242.5" cy="568.6" r="0.7" fill="none" stroke="#666" stroke-width="0.3"/>
<circle cx="242.5" cy="578.4" r="0.7" fill="none" stroke="#666" stroke-width="0.3"/>
<circle cx="242.5" cy="584.0" r="0.7" fill="none" stroke="#666" stroke-width="0.3"/>
<line x1="213.0" y1="565.3" x2="224.0" y2="565.3" stroke="#bbb" stroke-width="0.7" />
<text x="218.5" y="568.1" font-size="8.5" text-anchor="middle" fill="#333" font-weight="normal" >***</text>
<line x1="230.2" y1="555.9" x2="241.2" y2="555.9" stroke="#bbb" stroke-width="0.7" />
<text x="235.7" y="558.5" font-size="8.5" text-anchor="middle" fill="#333" font-weight="normal" >***</text>
<polygon points="350.90,567.60 350.93,567.80 351.01,568.00 351.15,568.20 351.33,568.40 351.56,568.60 351.81,568.80 352.07,569.00 352.35,569.20 352.63,569.40 352.90,569.60 353.15,569.80 353.38,570.00 353.58,570.20 353.75,570.40 353.89,570.60 354.00,570.80 354.07,571.00 354.12,571.20 354.12,571.40 354.10,571.60 354.04,571.80 353.95,572.00 353.82,572.20 353.67,572.40 353.48,572.60 353.26,572.80 353.02,573.00 352.76,573.20 352.49,573.40 352.21,573.60 351.94,573.80 351.68,574.00 351.44,574.20 351.24,574.40 351.08,574.60 350.96,574.80 350.91,575.00 350.91,575.20 350.96,575.40 351.08,575.60 351.24,575.80 351.44,576.00 351.68,576.20 351.94,576.40 352.22,576.60 352.50,576.80 352.77,577.00 353.04,577.20 353.28,577.40 353.51,577.60 353.71,577.80 353.88,578.00 354.03,578.20 354.15,578.40 354.26,578.60 354.33,578.80 354.38,579.00 354.38,579.20 354.38,579.40 354.38,579.60 354.38,579.80 354.38,580.00 354.38,580.20 354.38,580.40 354.33,580.60 354.26,580.80 354.15,581.00 354.03,581.20 353.88,581.40 353.71,581.60 353.51,581.80 353.28,582.00 353.04,582.20 352.77,582.40 352.50,582.60 352.22,582.80 351.94,583.00 351.68,583.20 351.44,583.40 351.24,583.60 351.08,583.80 350.96,584.00 350.91,584.20 350.90,584.30 358.30,584.30 358.29,584.20 358.24,584.00 358.12,583.80 357.96,583.60 357.76,583.40 357.52,583.20 357.26,583.00 356.98,582.80 356.70,582.60 356.43,582.40 356.16,582.20 355.92,582.00 355.69,581.80 355.49,581.60 355.32,581.40 355.17,581.20 355.05,581.00 354.94,580.80 354.87,580.60 354.82,580.40 354.82,580.20 354.82,580.00 354.82,579.80 354.82,579.60 354.82,579.40 354.82,579.20 354.82,579.00 354.87,578.80 354.94,578.60 355.05,578.40 355.17,578.20 355.32,578.00 355.49,577.80 355.69,577.60 355.92,577.40 356.16,577.20 356.43,577.00 356.70,576.80 356.98,576.60 357.26,576.40 357.52,576.20 357.76,576.00 357.96,575.80 358.12,575.60 358.24,575.40 358.29,575.20 358.29,575.00 358.24,574.80 358.12,574.60 357.96,574.40 357.76,574.20 357.52,574.00 357.26,573.80 356.99,573.60 356.71,573.40 356.44,573.20 356.18,573.00 355.94,572.80 355.72,572.60 355.53,572.40 355.38,572.20 355.25,572.00 355.16,571.80 355.10,571.60 355.08,571.40 355.08,571.20 355.13,571.00 355.20,570.80 355.31,570.60 355.45,570.40 355.62,570.20 355.82,570.00 356.05,569.80 356.30,569.60 356.57,569.40 356.85,569.20 357.13,569.00 357.39,568.80 357.64,568.60 357.87,568.40 358.05,568.20 358.19,568.00 358.27,567.80 358.30,567.60" fill="#8fd43a"/>
<circle cx="354.6" cy="567.6" r="0.7" fill="none" stroke="#666" stroke-width="0.3"/>
<circle cx="354.6" cy="575.1" r="0.7" fill="none" stroke="#666" stroke-width="0.3"/>
<circle cx="354.6" cy="584.3" r="0.7" fill="none" stroke="#666" stroke-width="0.3"/>
<polygon points="361.88,618.20 361.75,618.40 361.75,618.60 361.88,618.80 362.13,619.00 362.47,619.20 362.86,619.40 363.29,619.60 363.70,619.80 364.09,620.00 364.42,620.20 364.70,620.40 364.91,620.60 365.08,620.80 365.18,621.00 365.18,621.20 365.18,621.40 365.18,621.60 365.18,621.80 365.18,622.00 365.18,622.20 365.18,622.40 365.18,622.60 365.18,622.80 365.18,623.00 365.18,623.20 365.18,623.40 365.18,623.60 365.18,623.80 365.18,624.00 365.18,624.20 365.14,624.40 365.02,624.60 364.87,624.80 364.68,625.00 364.47,625.20 364.24,625.40 364.01,625.60 363.80,625.80 363.63,626.00 363.52,626.20 363.48,626.40 367.32,626.40 367.28,626.20 367.17,626.00 367.00,625.80 366.79,625.60 366.56,625.40 366.33,625.20 366.12,625.00 365.93,624.80 365.78,624.60 365.66,624.40 365.62,624.20 365.62,624.00 365.62,623.80 365.62,623.60 365.62,623.40 365.62,623.20 365.62,623.00 365.62,622.80 365.62,622.60 365.62,622.40 365.62,622.20 365.62,622.00 365.62,621.80 365.62,621.60 365.62,621.40 365.62,621.20 365.62,621.00 365.72,620.80 365.89,620.60 366.10,620.40 366.38,620.20 366.71,620.00 367.10,619.80 367.51,619.60 367.94,619.40 368.33,619.20 368.67,619.00 368.92,618.80 369.05,618.60 369.05,618.40 368.92,618.20" fill="#ee3e55"/>
<circle cx="365.4" cy="618.2" r="0.7" fill="none" stroke="#666" stroke-width="0.3"/>
<circle cx="365.4" cy="618.8" r="0.7" fill="none" stroke="#666" stroke-width="0.3"/>
<circle cx="365.4" cy="626.4" r="0.7" fill="none" stroke="#666" stroke-width="0.3"/>
<polygon points="372.84,578.10 372.80,578.30 372.84,578.50 372.96,578.70 373.16,578.90 373.41,579.10 373.70,579.30 374.03,579.50 374.36,579.70 374.68,579.90 374.99,580.10 375.27,580.30 375.51,580.50 375.72,580.70 375.89,580.90 376.03,581.10 376.13,581.30 376.18,581.50 376.18,581.70 376.18,581.90 376.18,582.10 376.18,582.30 376.18,582.50 376.18,582.70 376.18,582.90 376.18,583.10 376.18,583.30 376.18,583.50 376.18,583.70 376.18,583.90 376.18,584.10 376.18,584.30 376.18,584.50 376.18,584.70 376.18,584.90 376.11,585.10 376.02,585.30 375.91,585.50 375.77,585.70 375.63,585.90 375.46,586.10 375.30,586.30 375.13,586.50 374.97,586.70 374.82,586.90 374.71,587.10 374.63,587.30 374.58,587.50 374.58,587.60 378.22,587.60 378.22,587.50 378.17,587.30 378.09,587.10 377.98,586.90 377.83,586.70 377.67,586.50 377.50,586.30 377.34,586.10 377.17,585.90 377.03,585.70 376.89,585.50 376.78,585.30 376.69,585.10 376.62,584.90 376.62,584.70 376.62,584.50 376.62,584.30 376.62,584.10 376.62,583.90 376.62,583.70 376.62,583.50 376.62,583.30 376.62,583.10 376.62,582.90 376.62,582.70 376.62,582.50 376.62,582.30 376.62,582.10 376.62,581.90 376.62,581.70 376.62,581.50 376.67,581.30 376.77,581.10 376.91,580.90 377.08,580.70 377.29,580.50 377.53,580.30 377.81,580.10 378.12,579.90 378.44,579.70 378.77,579.50 379.10,579.30 379.39,579.10 379.64,578.90 379.84,578.70 379.96,578.50 380.00,578.30 379.96,578.10" fill="#2e9a3c"/>
<circle cx="376.4" cy="578.1" r="0.7" fill="none" stroke="#666" stroke-width="0.3"/>
<circle cx="376.4" cy="578.5" r="0.7" fill="none" stroke="#666" stroke-width="0.3"/>
<circle cx="376.4" cy="587.6" r="0.7" fill="none" stroke="#666" stroke-width="0.3"/>
<polygon points="384.15,631.00 384.00,631.20 384.00,631.40 384.15,631.60 384.43,631.80 384.81,632.00 385.25,632.20 385.69,632.40 386.11,632.60 386.48,632.80 386.79,633.00 387.02,633.20 387.20,633.40 387.28,633.60 387.28,633.80 387.28,634.00 387.28,634.20 387.28,634.40 387.28,634.60 387.28,634.80 387.28,635.00 387.28,635.20 387.28,635.40 387.25,635.60 387.12,635.80 386.95,636.00 386.74,636.20 386.50,636.40 386.25,636.60 386.01,636.80 385.81,637.00 385.69,637.20 385.64,637.40 389.36,637.40 389.31,637.20 389.19,637.00 388.99,636.80 388.75,636.60 388.50,636.40 388.26,636.20 388.05,636.00 387.88,635.80 387.75,635.60 387.72,635.40 387.72,635.20 387.72,635.00 387.72,634.80 387.72,634.60 387.72,634.40 387.72,634.20 387.72,634.00 387.72,633.80 387.72,633.60 387.80,633.40 387.98,633.20 388.21,633.00 388.52,632.80 388.89,632.60 389.31,632.40 389.75,632.20 390.19,632.00 390.57,631.80 390.85,631.60 391.00,631.40 391.00,631.20 390.85,631.00" fill="#b04462"/>
<circle cx="387.5" cy="631.0" r="0.7" fill="none" stroke="#666" stroke-width="0.3"/>
<circle cx="387.5" cy="631.6" r="0.7" fill="none" stroke="#666" stroke-width="0.3"/>
<circle cx="387.5" cy="637.4" r="0.7" fill="none" stroke="#666" stroke-width="0.3"/>
<line x1="353.3" y1="564.6" x2="366.4" y2="564.6" stroke="#bbb" stroke-width="0.7" />
<text x="359.85" y="567.4" font-size="8.5" text-anchor="middle" fill="#333" font-weight="normal" >****</text>
<line x1="373.0" y1="576.1" x2="386.4" y2="576.1" stroke="#bbb" stroke-width="0.7" />
<text x="379.7" y="578.4" font-size="8.5" text-anchor="middle" fill="#333" font-weight="normal" >****</text>
<polygon points="438.99,555.20 439.02,555.40 439.11,555.60 439.26,555.80 439.46,556.00 439.69,556.20 439.97,556.40 440.26,556.60 440.57,556.80 440.88,557.00 441.19,557.20 441.49,557.40 441.77,557.60 442.03,557.80 442.26,558.00 442.47,558.20 442.65,558.40 442.80,558.60 442.92,558.80 443.02,559.00 443.10,559.20 443.15,559.40 443.18,559.60 443.18,559.80 443.18,560.00 443.18,560.20 443.15,560.40 443.09,560.60 443.02,560.80 442.92,561.00 442.79,561.20 442.64,561.40 442.47,561.60 442.26,561.80 442.03,562.00 441.77,562.20 441.49,562.40 441.19,562.60 440.87,562.80 440.55,563.00 440.24,563.20 439.93,563.40 439.65,563.60 439.39,563.80 439.16,564.00 438.98,564.20 438.84,564.40 438.75,564.60 438.71,564.80 438.70,565.00 438.73,565.20 438.79,565.40 438.86,565.60 438.94,565.80 439.01,566.00 439.08,566.20 439.12,566.40 439.14,566.60 439.13,566.80 439.10,567.00 439.05,567.20 438.98,567.40 438.90,567.60 438.82,567.80 438.76,568.00 438.71,568.20 438.70,568.40 438.73,568.60 438.75,568.70 448.05,568.70 448.07,568.60 448.10,568.40 448.09,568.20 448.04,568.00 447.98,567.80 447.90,567.60 447.82,567.40 447.75,567.20 447.70,567.00 447.67,566.80 447.66,566.60 447.68,566.40 447.72,566.20 447.79,566.00 447.86,565.80 447.94,565.60 448.01,565.40 448.07,565.20 448.10,565.00 448.09,564.80 448.05,564.60 447.96,564.40 447.82,564.20 447.64,564.00 447.41,563.80 447.15,563.60 446.87,563.40 446.56,563.20 446.25,563.00 445.93,562.80 445.61,562.60 445.31,562.40 445.03,562.20 444.77,562.00 444.54,561.80 444.33,561.60 444.16,561.40 444.01,561.20 443.88,561.00 443.78,560.80 443.71,560.60 443.65,560.40 443.62,560.20 443.62,560.00 443.62,559.80 443.62,559.60 443.65,559.40 443.70,559.20 443.78,559.00 443.88,558.80 444.00,558.60 444.15,558.40 444.33,558.20 444.54,558.00 444.77,557.80 445.03,557.60 445.31,557.40 445.61,557.20 445.92,557.00 446.23,556.80 446.54,556.60 446.83,556.40 447.11,556.20 447.34,556.00 447.54,555.80 447.69,555.60 447.78,555.40 447.81,555.20" fill="#f08c8c"/>
<circle cx="443.4" cy="555.2" r="0.7" fill="none" stroke="#666" stroke-width="0.3"/>
<circle cx="443.4" cy="564.6" r="0.7" fill="none" stroke="#666" stroke-width="0.3"/>
<circle cx="443.4" cy="568.7" r="0.7" fill="none" stroke="#666" stroke-width="0.3"/>
<polygon points="452.93,609.40 452.90,609.60 452.93,609.80 453.02,610.00 453.17,610.20 453.36,610.40 453.61,610.60 453.89,610.80 454.19,611.00 454.52,611.20 454.85,611.40 455.18,611.60 455.51,611.80 455.82,612.00 456.12,612.20 456.39,612.40 456.63,612.60 456.85,612.80 457.04,613.00 457.21,613.20 457.35,613.40 457.46,613.60 457.56,613.80 457.64,614.00 457.68,614.20 457.68,614.40 457.68,614.60 457.68,614.80 457.68,615.00 457.68,615.20 457.68,615.40 457.68,615.60 457.68,615.80 457.68,616.00 457.68,616.20 457.68,616.40 457.68,616.60 457.68,616.80 457.68,617.00 457.68,617.20 457.68,617.40 457.68,617.60 457.68,617.80 457.68,618.00 457.68,618.20 457.68,618.40 457.68,618.60 457.68,618.80 457.68,619.00 457.68,619.20 457.68,619.40 457.68,619.60 457.68,619.80 457.68,620.00 457.68,620.20 457.68,620.40 457.68,620.60 457.68,620.80 457.68,621.00 457.68,621.20 457.68,621.40 457.68,621.60 457.68,621.80 457.68,622.00 457.68,622.20 457.68,622.40 457.68,622.60 457.68,622.80 457.68,623.00 457.68,623.20 457.68,623.40 457.68,623.60 457.63,623.80 457.56,624.00 457.48,624.20 457.38,624.40 457.27,624.60 457.15,624.80 457.01,625.00 456.87,625.20 456.71,625.40 456.54,625.60 456.37,625.80 456.21,626.00 456.04,626.20 455.89,626.40 455.74,626.60 455.62,626.80 455.52,627.00 455.45,627.20 455.40,627.40 455.38,627.60 460.42,627.60 460.40,627.40 460.35,627.20 460.28,627.00 460.18,626.80 460.06,626.60 459.91,626.40 459.76,626.20 459.59,626.00 459.43,625.80 459.26,625.60 459.09,625.40 458.93,625.20 458.79,625.00 458.65,624.80 458.53,624.60 458.42,624.40 458.32,624.20 458.24,624.00 458.17,623.80 458.12,623.60 458.12,623.40 458.12,623.20 458.12,623.00 458.12,622.80 458.12,622.60 458.12,622.40 458.12,622.20 458.12,622.00 458.12,621.80 458.12,621.60 458.12,621.40 458.12,621.20 458.12,621.00 458.12,620.80 458.12,620.60 458.12,620.40 458.12,620.20 458.12,620.00 458.12,619.80 458.12,619.60 458.12,619.40 458.12,619.20 458.12,619.00 458.12,618.80 458.12,618.60 458.12,618.40 458.12,618.20 458.12,618.00 458.12,617.80 458.12,617.60 458.12,617.40 458.12,617.20 458.12,617.00 458.12,616.80 458.12,616.60 458.12,616.40 458.12,616.20 458.12,616.00 458.12,615.80 458.12,615.60 458.12,615.40 458.12,615.20 458.12,615.00 458.12,614.80 458.12,614.60 458.12,614.40 458.12,614.20 458.16,614.00 458.24,613.80 458.34,613.60 458.45,613.40 458.59,613.20 458.76,613.00 458.95,612.80 459.17,612.60 459.41,612.40 459.68,612.20 459.98,612.00 460.29,611.80 460.62,611.60 460.95,611.40 461.28,611.20 461.61,611.00 461.91,610.80 462.19,610.60 462.44,610.40 462.63,610.20 462.78,610.00 462.87,609.80 462.90,609.60 462.87,609.40" fill="#8eacec"/>
<circle cx="457.9" cy="609.4" r="0.7" fill="none" stroke="#666" stroke-width="0.3"/>
<circle cx="457.9" cy="609.8" r="0.7" fill="none" stroke="#666" stroke-width="0.3"/>
<circle cx="457.9" cy="627.6" r="0.7" fill="none" stroke="#666" stroke-width="0.3"/>
<polygon points="469.98,573.10 470.01,573.30 470.11,573.50 470.26,573.70 470.46,573.90 470.69,574.10 470.93,574.30 471.17,574.50 471.40,574.70 471.61,574.90 471.79,575.10 471.95,575.30 472.07,575.50 472.16,575.70 472.18,575.90 472.18,576.10 472.18,576.30 472.18,576.50 472.18,576.70 472.18,576.90 472.14,577.10 472.03,577.30 471.88,577.50 471.68,577.70 471.43,577.90 471.12,578.10 470.77,578.30 470.36,578.50 469.92,578.70 469.46,578.90 469.01,579.10 468.58,579.30 468.22,579.50 467.94,579.70 467.76,579.90 467.70,580.10 467.76,580.30 467.84,580.40 476.96,580.40 477.04,580.30 477.10,580.10 477.04,579.90 476.86,579.70 476.58,579.50 476.22,579.30 475.79,579.10 475.34,578.90 474.88,578.70 474.44,578.50 474.03,578.30 473.68,578.10 473.37,577.90 473.12,577.70 472.92,577.50 472.77,577.30 472.66,577.10 472.62,576.90 472.62,576.70 472.62,576.50 472.62,576.30 472.62,576.10 472.62,575.90 472.64,575.70 472.73,575.50 472.85,575.30 473.01,575.10 473.19,574.90 473.40,574.70 473.63,574.50 473.87,574.30 474.11,574.10 474.34,573.90 474.54,573.70 474.69,573.50 474.79,573.30 474.82,573.10" fill="#a31e12"/>
<circle cx="472.4" cy="573.1" r="0.7" fill="none" stroke="#666" stroke-width="0.3"/>
<circle cx="472.4" cy="579.8" r="0.7" fill="none" stroke="#666" stroke-width="0.3"/>
<circle cx="472.4" cy="580.4" r="0.7" fill="none" stroke="#666" stroke-width="0.3"/>
<line x1="443.9" y1="552.2" x2="454.9" y2="552.2" stroke="#bbb" stroke-width="0.7" />
<text x="449.4" y="555.0" font-size="8.5" text-anchor="middle" fill="#333" font-weight="normal" >**</text>
<line x1="460.3" y1="570.5" x2="471.0" y2="570.5" stroke="#bbb" stroke-width="0.7" />
<text x="465.65" y="573.6" font-size="8.5" text-anchor="middle" fill="#333" font-weight="normal" >**</text>
<rect x="525.20" y="554.10" width="8.70" height="8.80" fill="#8fd43a" />
<text x="536" y="562.0" font-size="8.3" text-anchor="start" fill="#1a1a1a" font-weight="normal" >CT8</text>
<rect x="525.20" y="563.00" width="8.70" height="8.80" fill="#ee3e55" />
<text x="536" y="570.9" font-size="8.3" text-anchor="start" fill="#1a1a1a" font-weight="normal" >AU8</text>
<rect x="525.20" y="571.80" width="8.70" height="8.80" fill="#2e9a3c" />
<text x="536" y="579.6999999999999" font-size="8.3" text-anchor="start" fill="#1a1a1a" font-weight="normal" >CT24</text>
<rect x="525.20" y="580.90" width="8.70" height="8.80" fill="#b04462" />
<text x="536" y="588.8" font-size="8.3" text-anchor="start" fill="#1a1a1a" font-weight="normal" >AU24</text>
<rect x="525.20" y="593.20" width="8.70" height="8.80" fill="#f08c8c" />
<text x="536" y="601.1" font-size="8.3" text-anchor="start" fill="#1a1a1a" font-weight="normal" >Z138CT</text>
<rect x="525.20" y="602.00" width="8.70" height="8.80" fill="#8eacec" />
<text x="536" y="609.9" font-size="8.3" text-anchor="start" fill="#1a1a1a" font-weight="normal" >Z138SOX11KO</text>
<rect x="525.20" y="610.70" width="8.70" height="8.80" fill="#a31e12" />
<text x="536" y="618.6" font-size="8.3" text-anchor="start" fill="#1a1a1a" font-weight="normal" >Z138SOX11Resc</text>
</svg>
</body></html>
